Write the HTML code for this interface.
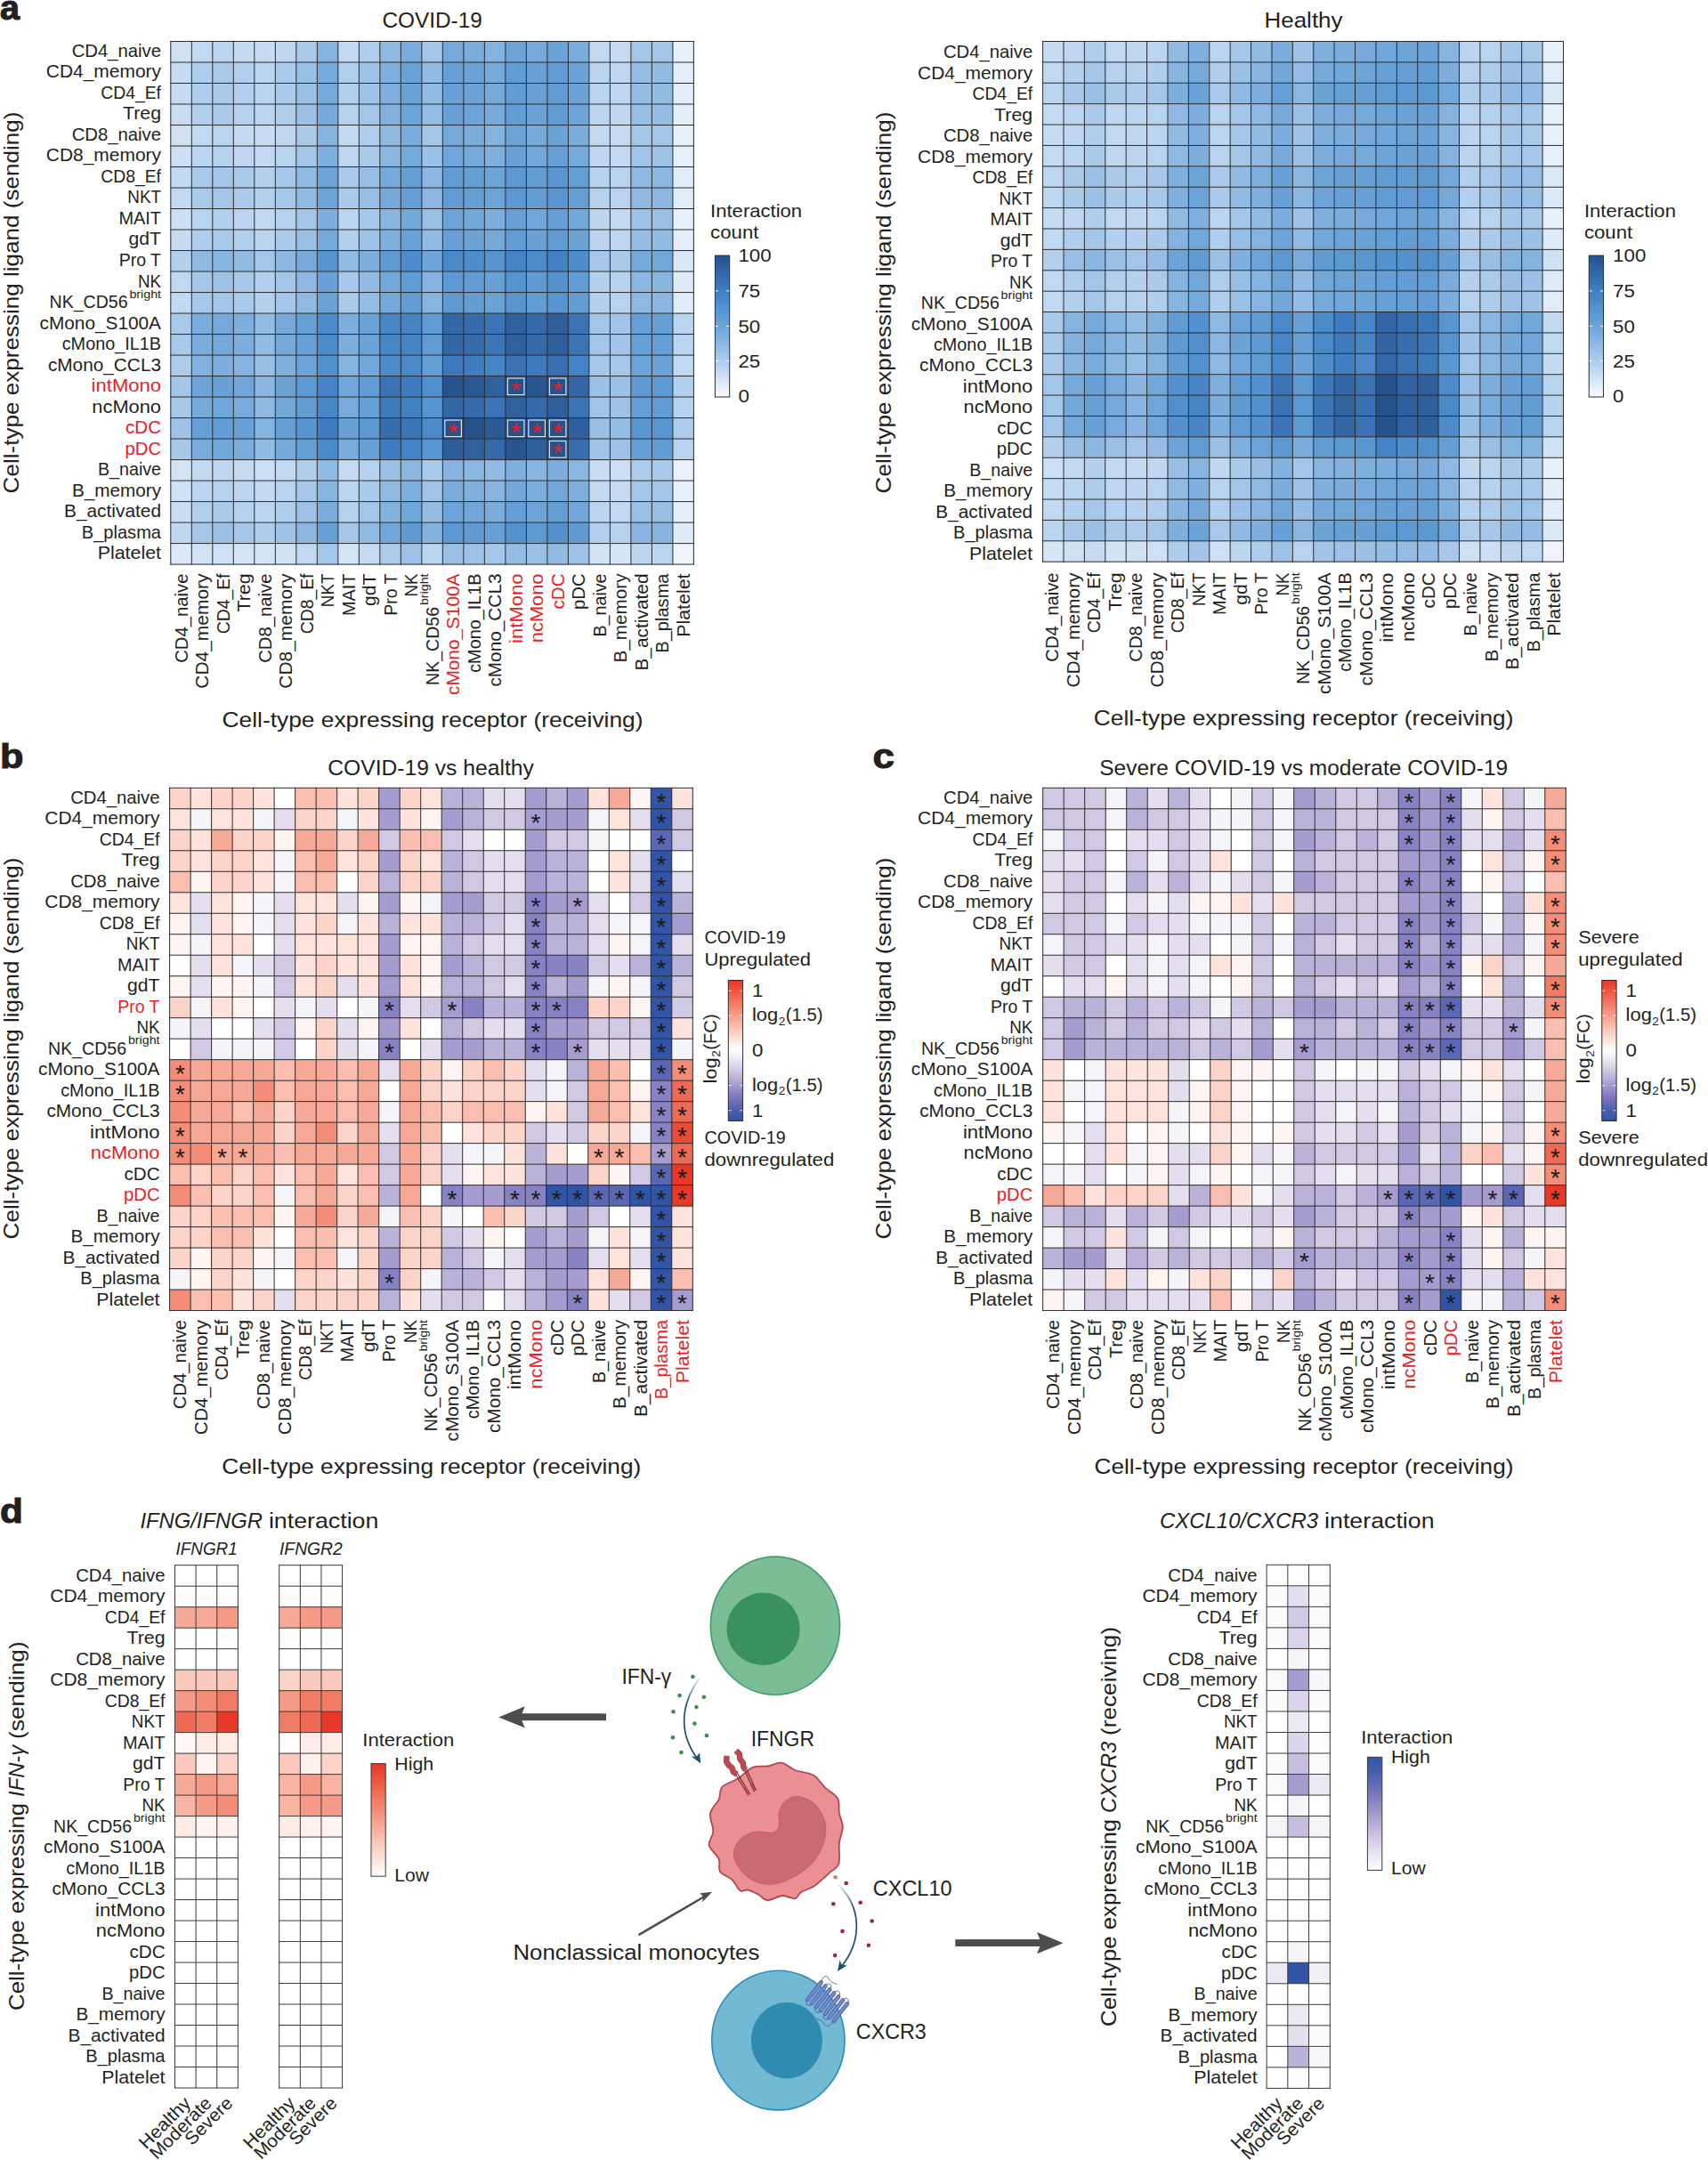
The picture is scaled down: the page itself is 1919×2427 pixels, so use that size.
<!DOCTYPE html>
<html lang="en"><head><meta charset="utf-8"><title>Figure</title>
<style>html,body{margin:0;padding:0;background:#fff}body{width:1919px;height:2427px;overflow:hidden;font-family:"Liberation Sans",sans-serif}svg{display:block}</style>
</head><body>
<svg width="1919" height="2427" viewBox="0 0 1919 2427" font-family="Liberation Sans, sans-serif">
<defs>
<linearGradient id="gb" x1="0" y1="0" x2="0" y2="1"><stop offset="0.000" stop-color="#26528c"/><stop offset="0.050" stop-color="#2c5a97"/><stop offset="0.100" stop-color="#3263a2"/><stop offset="0.150" stop-color="#376cac"/><stop offset="0.200" stop-color="#3b75b7"/><stop offset="0.250" stop-color="#407fc2"/><stop offset="0.300" stop-color="#4887c7"/><stop offset="0.350" stop-color="#518fcd"/><stop offset="0.400" stop-color="#5a97d1"/><stop offset="0.450" stop-color="#639dd5"/><stop offset="0.500" stop-color="#6da4d8"/><stop offset="0.550" stop-color="#7aacdc"/><stop offset="0.600" stop-color="#87b4e0"/><stop offset="0.650" stop-color="#94bce4"/><stop offset="0.700" stop-color="#a2c5e8"/><stop offset="0.750" stop-color="#afcdec"/><stop offset="0.800" stop-color="#bed6f0"/><stop offset="0.850" stop-color="#cddff4"/><stop offset="0.900" stop-color="#dce9f7"/><stop offset="0.950" stop-color="#ecf2fb"/><stop offset="1.000" stop-color="#ffffff"/></linearGradient>
<linearGradient id="gd" x1="0" y1="0" x2="0" y2="1"><stop offset="0.000" stop-color="#e73828"/><stop offset="0.033" stop-color="#e94532"/><stop offset="0.067" stop-color="#ec523c"/><stop offset="0.100" stop-color="#ee604a"/><stop offset="0.133" stop-color="#f06e58"/><stop offset="0.167" stop-color="#f17c66"/><stop offset="0.200" stop-color="#f38974"/><stop offset="0.233" stop-color="#f59783"/><stop offset="0.267" stop-color="#f7a592"/><stop offset="0.300" stop-color="#f8b3a2"/><stop offset="0.333" stop-color="#f9c0b2"/><stop offset="0.367" stop-color="#fbcec2"/><stop offset="0.400" stop-color="#fcdad1"/><stop offset="0.433" stop-color="#fde7e0"/><stop offset="0.467" stop-color="#fef3f0"/><stop offset="0.500" stop-color="#ffffff"/><stop offset="0.533" stop-color="#f4f2f9"/><stop offset="0.567" stop-color="#eae6f3"/><stop offset="0.600" stop-color="#dfd9ec"/><stop offset="0.633" stop-color="#d4cce6"/><stop offset="0.667" stop-color="#c6bddf"/><stop offset="0.700" stop-color="#b8afd8"/><stop offset="0.733" stop-color="#aaa0d1"/><stop offset="0.767" stop-color="#9b92cb"/><stop offset="0.800" stop-color="#8b85c4"/><stop offset="0.833" stop-color="#7a77be"/><stop offset="0.867" stop-color="#696eb8"/><stop offset="0.900" stop-color="#5766b3"/><stop offset="0.933" stop-color="#465eae"/><stop offset="0.967" stop-color="#3c59ab"/><stop offset="1.000" stop-color="#3154a7"/></linearGradient>
<linearGradient id="gr" x1="0" y1="0" x2="0" y2="1"><stop offset="0.000" stop-color="#e73828"/><stop offset="0.067" stop-color="#e94532"/><stop offset="0.133" stop-color="#ec523c"/><stop offset="0.200" stop-color="#ee604a"/><stop offset="0.267" stop-color="#f06e58"/><stop offset="0.333" stop-color="#f17c66"/><stop offset="0.400" stop-color="#f38974"/><stop offset="0.467" stop-color="#f59783"/><stop offset="0.533" stop-color="#f7a592"/><stop offset="0.600" stop-color="#f8b3a2"/><stop offset="0.667" stop-color="#f9c0b2"/><stop offset="0.733" stop-color="#fbcec2"/><stop offset="0.800" stop-color="#fcdad1"/><stop offset="0.867" stop-color="#fde7e0"/><stop offset="0.933" stop-color="#fef3f0"/><stop offset="1.000" stop-color="#ffffff"/></linearGradient>
<linearGradient id="gp" x1="0" y1="0" x2="0" y2="1"><stop offset="0.000" stop-color="#3154a7"/><stop offset="0.067" stop-color="#3c59ab"/><stop offset="0.133" stop-color="#465eae"/><stop offset="0.200" stop-color="#5766b3"/><stop offset="0.267" stop-color="#696eb8"/><stop offset="0.333" stop-color="#7a77be"/><stop offset="0.400" stop-color="#8b85c4"/><stop offset="0.467" stop-color="#9b92cb"/><stop offset="0.533" stop-color="#aaa0d1"/><stop offset="0.600" stop-color="#b8afd8"/><stop offset="0.667" stop-color="#c6bddf"/><stop offset="0.733" stop-color="#d4cce6"/><stop offset="0.800" stop-color="#dfd9ec"/><stop offset="0.867" stop-color="#eae6f3"/><stop offset="0.933" stop-color="#f4f2f9"/><stop offset="1.000" stop-color="#ffffff"/></linearGradient>
</defs>
<text x="0.0" y="21.8" font-size="39.5" font-weight="bold" fill="#231f20" stroke="#231f20" stroke-width="1.1" textLength="22.0" lengthAdjust="spacingAndGlyphs">a</text>
<text x="0.0" y="863.0" font-size="39.5" font-weight="bold" fill="#231f20" stroke="#231f20" stroke-width="1.1" textLength="26.5" lengthAdjust="spacingAndGlyphs">b</text>
<rect x="191.80" y="46.50" width="23.80" height="23.80" fill="#d0e1f4"/>
<rect x="215.30" y="46.50" width="23.80" height="23.80" fill="#c1d8f1"/>
<rect x="238.81" y="46.50" width="23.80" height="23.80" fill="#bbd4ef"/>
<rect x="262.31" y="46.50" width="23.80" height="23.80" fill="#c4daf1"/>
<rect x="285.82" y="46.50" width="23.80" height="23.80" fill="#c7dcf2"/>
<rect x="309.32" y="46.50" width="23.80" height="23.80" fill="#bed6f0"/>
<rect x="332.82" y="46.50" width="23.80" height="23.80" fill="#aacaea"/>
<rect x="356.33" y="46.50" width="23.80" height="23.80" fill="#85b3df"/>
<rect x="379.83" y="46.50" width="23.80" height="23.80" fill="#c4daf1"/>
<rect x="403.34" y="46.50" width="23.80" height="23.80" fill="#afcdec"/>
<rect x="426.84" y="46.50" width="23.80" height="23.80" fill="#8fb9e2"/>
<rect x="450.34" y="46.50" width="23.80" height="23.80" fill="#7aacdc"/>
<rect x="473.85" y="46.50" width="23.80" height="23.80" fill="#a2c5e8"/>
<rect x="497.35" y="46.50" width="23.80" height="23.80" fill="#75a9da"/>
<rect x="520.86" y="46.50" width="23.80" height="23.80" fill="#7aacdc"/>
<rect x="544.36" y="46.50" width="23.80" height="23.80" fill="#85b3df"/>
<rect x="567.86" y="46.50" width="23.80" height="23.80" fill="#6da4d8"/>
<rect x="591.37" y="46.50" width="23.80" height="23.80" fill="#77aadb"/>
<rect x="614.87" y="46.50" width="23.80" height="23.80" fill="#6ba3d7"/>
<rect x="638.38" y="46.50" width="23.80" height="23.80" fill="#7aacdc"/>
<rect x="661.88" y="46.50" width="23.80" height="23.80" fill="#c1d8f1"/>
<rect x="685.38" y="46.50" width="23.80" height="23.80" fill="#c7dcf2"/>
<rect x="708.89" y="46.50" width="23.80" height="23.80" fill="#a4c6e9"/>
<rect x="732.39" y="46.50" width="23.80" height="23.80" fill="#a2c5e8"/>
<rect x="755.90" y="46.50" width="23.80" height="23.80" fill="#e8f0fa"/>
<rect x="191.80" y="70.00" width="23.80" height="23.80" fill="#c7dcf2"/>
<rect x="215.30" y="70.00" width="23.80" height="23.80" fill="#afcdec"/>
<rect x="238.81" y="70.00" width="23.80" height="23.80" fill="#aacaea"/>
<rect x="262.31" y="70.00" width="23.80" height="23.80" fill="#b2cfed"/>
<rect x="285.82" y="70.00" width="23.80" height="23.80" fill="#bad4ef"/>
<rect x="309.32" y="70.00" width="23.80" height="23.80" fill="#accbeb"/>
<rect x="332.82" y="70.00" width="23.80" height="23.80" fill="#9ac0e5"/>
<rect x="356.33" y="70.00" width="23.80" height="23.80" fill="#75a9da"/>
<rect x="379.83" y="70.00" width="23.80" height="23.80" fill="#b2cfed"/>
<rect x="403.34" y="70.00" width="23.80" height="23.80" fill="#9fc3e7"/>
<rect x="426.84" y="70.00" width="23.80" height="23.80" fill="#7fafdd"/>
<rect x="450.34" y="70.00" width="23.80" height="23.80" fill="#6ba3d7"/>
<rect x="473.85" y="70.00" width="23.80" height="23.80" fill="#92bbe3"/>
<rect x="497.35" y="70.00" width="23.80" height="23.80" fill="#67a0d6"/>
<rect x="520.86" y="70.00" width="23.80" height="23.80" fill="#6ba3d7"/>
<rect x="544.36" y="70.00" width="23.80" height="23.80" fill="#75a9da"/>
<rect x="567.86" y="70.00" width="23.80" height="23.80" fill="#629cd4"/>
<rect x="591.37" y="70.00" width="23.80" height="23.80" fill="#69a1d7"/>
<rect x="614.87" y="70.00" width="23.80" height="23.80" fill="#609bd3"/>
<rect x="638.38" y="70.00" width="23.80" height="23.80" fill="#6ba3d7"/>
<rect x="661.88" y="70.00" width="23.80" height="23.80" fill="#bad4ef"/>
<rect x="685.38" y="70.00" width="23.80" height="23.80" fill="#bed6f0"/>
<rect x="708.89" y="70.00" width="23.80" height="23.80" fill="#96bde4"/>
<rect x="732.39" y="70.00" width="23.80" height="23.80" fill="#93bce3"/>
<rect x="755.90" y="70.00" width="23.80" height="23.80" fill="#e4edf9"/>
<rect x="191.80" y="93.51" width="23.80" height="23.80" fill="#c7dcf2"/>
<rect x="215.30" y="93.51" width="23.80" height="23.80" fill="#afcdec"/>
<rect x="238.81" y="93.51" width="23.80" height="23.80" fill="#aacaea"/>
<rect x="262.31" y="93.51" width="23.80" height="23.80" fill="#b2cfed"/>
<rect x="285.82" y="93.51" width="23.80" height="23.80" fill="#bad4ef"/>
<rect x="309.32" y="93.51" width="23.80" height="23.80" fill="#accbeb"/>
<rect x="332.82" y="93.51" width="23.80" height="23.80" fill="#9ac0e5"/>
<rect x="356.33" y="93.51" width="23.80" height="23.80" fill="#75a9da"/>
<rect x="379.83" y="93.51" width="23.80" height="23.80" fill="#b2cfed"/>
<rect x="403.34" y="93.51" width="23.80" height="23.80" fill="#9fc3e7"/>
<rect x="426.84" y="93.51" width="23.80" height="23.80" fill="#7fafdd"/>
<rect x="450.34" y="93.51" width="23.80" height="23.80" fill="#6ba3d7"/>
<rect x="473.85" y="93.51" width="23.80" height="23.80" fill="#92bbe3"/>
<rect x="497.35" y="93.51" width="23.80" height="23.80" fill="#67a0d6"/>
<rect x="520.86" y="93.51" width="23.80" height="23.80" fill="#6ba3d7"/>
<rect x="544.36" y="93.51" width="23.80" height="23.80" fill="#75a9da"/>
<rect x="567.86" y="93.51" width="23.80" height="23.80" fill="#629cd4"/>
<rect x="591.37" y="93.51" width="23.80" height="23.80" fill="#69a1d7"/>
<rect x="614.87" y="93.51" width="23.80" height="23.80" fill="#609bd3"/>
<rect x="638.38" y="93.51" width="23.80" height="23.80" fill="#6ba3d7"/>
<rect x="661.88" y="93.51" width="23.80" height="23.80" fill="#bad4ef"/>
<rect x="685.38" y="93.51" width="23.80" height="23.80" fill="#bed6f0"/>
<rect x="708.89" y="93.51" width="23.80" height="23.80" fill="#96bde4"/>
<rect x="732.39" y="93.51" width="23.80" height="23.80" fill="#93bce3"/>
<rect x="755.90" y="93.51" width="23.80" height="23.80" fill="#e4edf9"/>
<rect x="191.80" y="117.01" width="23.80" height="23.80" fill="#c8ddf3"/>
<rect x="215.30" y="117.01" width="23.80" height="23.80" fill="#b2cfed"/>
<rect x="238.81" y="117.01" width="23.80" height="23.80" fill="#accbeb"/>
<rect x="262.31" y="117.01" width="23.80" height="23.80" fill="#b5d1ee"/>
<rect x="285.82" y="117.01" width="23.80" height="23.80" fill="#bcd5ef"/>
<rect x="309.32" y="117.01" width="23.80" height="23.80" fill="#afcdec"/>
<rect x="332.82" y="117.01" width="23.80" height="23.80" fill="#9cc1e6"/>
<rect x="356.33" y="117.01" width="23.80" height="23.80" fill="#77aadb"/>
<rect x="379.83" y="117.01" width="23.80" height="23.80" fill="#b5d1ee"/>
<rect x="403.34" y="117.01" width="23.80" height="23.80" fill="#a2c5e8"/>
<rect x="426.84" y="117.01" width="23.80" height="23.80" fill="#82b1de"/>
<rect x="450.34" y="117.01" width="23.80" height="23.80" fill="#6da4d8"/>
<rect x="473.85" y="117.01" width="23.80" height="23.80" fill="#94bce4"/>
<rect x="497.35" y="117.01" width="23.80" height="23.80" fill="#69a1d7"/>
<rect x="520.86" y="117.01" width="23.80" height="23.80" fill="#6da4d8"/>
<rect x="544.36" y="117.01" width="23.80" height="23.80" fill="#77aadb"/>
<rect x="567.86" y="117.01" width="23.80" height="23.80" fill="#639dd5"/>
<rect x="591.37" y="117.01" width="23.80" height="23.80" fill="#6ba3d7"/>
<rect x="614.87" y="117.01" width="23.80" height="23.80" fill="#629cd4"/>
<rect x="638.38" y="117.01" width="23.80" height="23.80" fill="#6da4d8"/>
<rect x="661.88" y="117.01" width="23.80" height="23.80" fill="#bbd4ef"/>
<rect x="685.38" y="117.01" width="23.80" height="23.80" fill="#c0d7f0"/>
<rect x="708.89" y="117.01" width="23.80" height="23.80" fill="#98bfe5"/>
<rect x="732.39" y="117.01" width="23.80" height="23.80" fill="#96bde4"/>
<rect x="755.90" y="117.01" width="23.80" height="23.80" fill="#e4eef9"/>
<rect x="191.80" y="140.52" width="23.80" height="23.80" fill="#d0e1f4"/>
<rect x="215.30" y="140.52" width="23.80" height="23.80" fill="#c1d8f1"/>
<rect x="238.81" y="140.52" width="23.80" height="23.80" fill="#bbd4ef"/>
<rect x="262.31" y="140.52" width="23.80" height="23.80" fill="#c4daf1"/>
<rect x="285.82" y="140.52" width="23.80" height="23.80" fill="#c7dcf2"/>
<rect x="309.32" y="140.52" width="23.80" height="23.80" fill="#bed6f0"/>
<rect x="332.82" y="140.52" width="23.80" height="23.80" fill="#aacaea"/>
<rect x="356.33" y="140.52" width="23.80" height="23.80" fill="#85b3df"/>
<rect x="379.83" y="140.52" width="23.80" height="23.80" fill="#c4daf1"/>
<rect x="403.34" y="140.52" width="23.80" height="23.80" fill="#afcdec"/>
<rect x="426.84" y="140.52" width="23.80" height="23.80" fill="#8fb9e2"/>
<rect x="450.34" y="140.52" width="23.80" height="23.80" fill="#7aacdc"/>
<rect x="473.85" y="140.52" width="23.80" height="23.80" fill="#a2c5e8"/>
<rect x="497.35" y="140.52" width="23.80" height="23.80" fill="#75a9da"/>
<rect x="520.86" y="140.52" width="23.80" height="23.80" fill="#7aacdc"/>
<rect x="544.36" y="140.52" width="23.80" height="23.80" fill="#85b3df"/>
<rect x="567.86" y="140.52" width="23.80" height="23.80" fill="#6da4d8"/>
<rect x="591.37" y="140.52" width="23.80" height="23.80" fill="#77aadb"/>
<rect x="614.87" y="140.52" width="23.80" height="23.80" fill="#6ba3d7"/>
<rect x="638.38" y="140.52" width="23.80" height="23.80" fill="#7aacdc"/>
<rect x="661.88" y="140.52" width="23.80" height="23.80" fill="#c1d8f1"/>
<rect x="685.38" y="140.52" width="23.80" height="23.80" fill="#c7dcf2"/>
<rect x="708.89" y="140.52" width="23.80" height="23.80" fill="#a4c6e9"/>
<rect x="732.39" y="140.52" width="23.80" height="23.80" fill="#a2c5e8"/>
<rect x="755.90" y="140.52" width="23.80" height="23.80" fill="#e8f0fa"/>
<rect x="191.80" y="164.02" width="23.80" height="23.80" fill="#cddff4"/>
<rect x="215.30" y="164.02" width="23.80" height="23.80" fill="#bbd4ef"/>
<rect x="238.81" y="164.02" width="23.80" height="23.80" fill="#b5d1ee"/>
<rect x="262.31" y="164.02" width="23.80" height="23.80" fill="#bed6f0"/>
<rect x="285.82" y="164.02" width="23.80" height="23.80" fill="#c3d9f1"/>
<rect x="309.32" y="164.02" width="23.80" height="23.80" fill="#b8d3ee"/>
<rect x="332.82" y="164.02" width="23.80" height="23.80" fill="#a4c6e9"/>
<rect x="356.33" y="164.02" width="23.80" height="23.80" fill="#7fafdd"/>
<rect x="379.83" y="164.02" width="23.80" height="23.80" fill="#bed6f0"/>
<rect x="403.34" y="164.02" width="23.80" height="23.80" fill="#aacaea"/>
<rect x="426.84" y="164.02" width="23.80" height="23.80" fill="#8ab6e0"/>
<rect x="450.34" y="164.02" width="23.80" height="23.80" fill="#75a9da"/>
<rect x="473.85" y="164.02" width="23.80" height="23.80" fill="#9cc1e6"/>
<rect x="497.35" y="164.02" width="23.80" height="23.80" fill="#70a6d9"/>
<rect x="520.86" y="164.02" width="23.80" height="23.80" fill="#75a9da"/>
<rect x="544.36" y="164.02" width="23.80" height="23.80" fill="#7fafdd"/>
<rect x="567.86" y="164.02" width="23.80" height="23.80" fill="#69a1d7"/>
<rect x="591.37" y="164.02" width="23.80" height="23.80" fill="#72a7da"/>
<rect x="614.87" y="164.02" width="23.80" height="23.80" fill="#67a0d6"/>
<rect x="638.38" y="164.02" width="23.80" height="23.80" fill="#75a9da"/>
<rect x="661.88" y="164.02" width="23.80" height="23.80" fill="#bfd7f0"/>
<rect x="685.38" y="164.02" width="23.80" height="23.80" fill="#c4daf1"/>
<rect x="708.89" y="164.02" width="23.80" height="23.80" fill="#a0c3e7"/>
<rect x="732.39" y="164.02" width="23.80" height="23.80" fill="#9dc2e6"/>
<rect x="755.90" y="164.02" width="23.80" height="23.80" fill="#e6effa"/>
<rect x="191.80" y="187.52" width="23.80" height="23.80" fill="#c3d9f1"/>
<rect x="215.30" y="187.52" width="23.80" height="23.80" fill="#a8c9ea"/>
<rect x="238.81" y="187.52" width="23.80" height="23.80" fill="#a3c5e8"/>
<rect x="262.31" y="187.52" width="23.80" height="23.80" fill="#abcaeb"/>
<rect x="285.82" y="187.52" width="23.80" height="23.80" fill="#b5d0ed"/>
<rect x="309.32" y="187.52" width="23.80" height="23.80" fill="#a5c7e9"/>
<rect x="332.82" y="187.52" width="23.80" height="23.80" fill="#92bbe3"/>
<rect x="356.33" y="187.52" width="23.80" height="23.80" fill="#6da4d8"/>
<rect x="379.83" y="187.52" width="23.80" height="23.80" fill="#abcaeb"/>
<rect x="403.34" y="187.52" width="23.80" height="23.80" fill="#98bee5"/>
<rect x="426.84" y="187.52" width="23.80" height="23.80" fill="#77aadb"/>
<rect x="450.34" y="187.52" width="23.80" height="23.80" fill="#659ed5"/>
<rect x="473.85" y="187.52" width="23.80" height="23.80" fill="#8ab6e1"/>
<rect x="497.35" y="187.52" width="23.80" height="23.80" fill="#619bd4"/>
<rect x="520.86" y="187.52" width="23.80" height="23.80" fill="#659ed5"/>
<rect x="544.36" y="187.52" width="23.80" height="23.80" fill="#6da4d8"/>
<rect x="567.86" y="187.52" width="23.80" height="23.80" fill="#5b97d2"/>
<rect x="591.37" y="187.52" width="23.80" height="23.80" fill="#639dd4"/>
<rect x="614.87" y="187.52" width="23.80" height="23.80" fill="#5996d1"/>
<rect x="638.38" y="187.52" width="23.80" height="23.80" fill="#659ed5"/>
<rect x="661.88" y="187.52" width="23.80" height="23.80" fill="#b6d1ee"/>
<rect x="685.38" y="187.52" width="23.80" height="23.80" fill="#b9d3ef"/>
<rect x="708.89" y="187.52" width="23.80" height="23.80" fill="#8fb9e2"/>
<rect x="732.39" y="187.52" width="23.80" height="23.80" fill="#8cb7e1"/>
<rect x="755.90" y="187.52" width="23.80" height="23.80" fill="#e1ecf9"/>
<rect x="191.80" y="211.03" width="23.80" height="23.80" fill="#c3d9f1"/>
<rect x="215.30" y="211.03" width="23.80" height="23.80" fill="#a8c9ea"/>
<rect x="238.81" y="211.03" width="23.80" height="23.80" fill="#a3c5e8"/>
<rect x="262.31" y="211.03" width="23.80" height="23.80" fill="#abcaeb"/>
<rect x="285.82" y="211.03" width="23.80" height="23.80" fill="#b5d0ed"/>
<rect x="309.32" y="211.03" width="23.80" height="23.80" fill="#a5c7e9"/>
<rect x="332.82" y="211.03" width="23.80" height="23.80" fill="#92bbe3"/>
<rect x="356.33" y="211.03" width="23.80" height="23.80" fill="#6da4d8"/>
<rect x="379.83" y="211.03" width="23.80" height="23.80" fill="#abcaeb"/>
<rect x="403.34" y="211.03" width="23.80" height="23.80" fill="#98bee5"/>
<rect x="426.84" y="211.03" width="23.80" height="23.80" fill="#77aadb"/>
<rect x="450.34" y="211.03" width="23.80" height="23.80" fill="#659ed5"/>
<rect x="473.85" y="211.03" width="23.80" height="23.80" fill="#8ab6e1"/>
<rect x="497.35" y="211.03" width="23.80" height="23.80" fill="#619bd4"/>
<rect x="520.86" y="211.03" width="23.80" height="23.80" fill="#659ed5"/>
<rect x="544.36" y="211.03" width="23.80" height="23.80" fill="#6da4d8"/>
<rect x="567.86" y="211.03" width="23.80" height="23.80" fill="#5b97d2"/>
<rect x="591.37" y="211.03" width="23.80" height="23.80" fill="#639dd4"/>
<rect x="614.87" y="211.03" width="23.80" height="23.80" fill="#5996d1"/>
<rect x="638.38" y="211.03" width="23.80" height="23.80" fill="#659ed5"/>
<rect x="661.88" y="211.03" width="23.80" height="23.80" fill="#b6d1ee"/>
<rect x="685.38" y="211.03" width="23.80" height="23.80" fill="#b9d3ef"/>
<rect x="708.89" y="211.03" width="23.80" height="23.80" fill="#8fb9e2"/>
<rect x="732.39" y="211.03" width="23.80" height="23.80" fill="#8cb7e1"/>
<rect x="755.90" y="211.03" width="23.80" height="23.80" fill="#e1ecf9"/>
<rect x="191.80" y="234.53" width="23.80" height="23.80" fill="#ccdff3"/>
<rect x="215.30" y="234.53" width="23.80" height="23.80" fill="#b8d3ee"/>
<rect x="238.81" y="234.53" width="23.80" height="23.80" fill="#b2cfed"/>
<rect x="262.31" y="234.53" width="23.80" height="23.80" fill="#bbd4ef"/>
<rect x="285.82" y="234.53" width="23.80" height="23.80" fill="#c1d8f1"/>
<rect x="309.32" y="234.53" width="23.80" height="23.80" fill="#b5d1ee"/>
<rect x="332.82" y="234.53" width="23.80" height="23.80" fill="#a2c5e8"/>
<rect x="356.33" y="234.53" width="23.80" height="23.80" fill="#7daedd"/>
<rect x="379.83" y="234.53" width="23.80" height="23.80" fill="#bbd4ef"/>
<rect x="403.34" y="234.53" width="23.80" height="23.80" fill="#a7c8ea"/>
<rect x="426.84" y="234.53" width="23.80" height="23.80" fill="#87b4e0"/>
<rect x="450.34" y="234.53" width="23.80" height="23.80" fill="#72a7da"/>
<rect x="473.85" y="234.53" width="23.80" height="23.80" fill="#9ac0e5"/>
<rect x="497.35" y="234.53" width="23.80" height="23.80" fill="#6da4d8"/>
<rect x="520.86" y="234.53" width="23.80" height="23.80" fill="#72a7da"/>
<rect x="544.36" y="234.53" width="23.80" height="23.80" fill="#7daedd"/>
<rect x="567.86" y="234.53" width="23.80" height="23.80" fill="#67a0d6"/>
<rect x="591.37" y="234.53" width="23.80" height="23.80" fill="#70a6d9"/>
<rect x="614.87" y="234.53" width="23.80" height="23.80" fill="#659fd5"/>
<rect x="638.38" y="234.53" width="23.80" height="23.80" fill="#72a7da"/>
<rect x="661.88" y="234.53" width="23.80" height="23.80" fill="#bdd6f0"/>
<rect x="685.38" y="234.53" width="23.80" height="23.80" fill="#c2d9f1"/>
<rect x="708.89" y="234.53" width="23.80" height="23.80" fill="#9dc2e6"/>
<rect x="732.39" y="234.53" width="23.80" height="23.80" fill="#9ac0e6"/>
<rect x="755.90" y="234.53" width="23.80" height="23.80" fill="#e6effa"/>
<rect x="191.80" y="258.04" width="23.80" height="23.80" fill="#c7dcf2"/>
<rect x="215.30" y="258.04" width="23.80" height="23.80" fill="#afcdec"/>
<rect x="238.81" y="258.04" width="23.80" height="23.80" fill="#aacaea"/>
<rect x="262.31" y="258.04" width="23.80" height="23.80" fill="#b2cfed"/>
<rect x="285.82" y="258.04" width="23.80" height="23.80" fill="#bad4ef"/>
<rect x="309.32" y="258.04" width="23.80" height="23.80" fill="#accbeb"/>
<rect x="332.82" y="258.04" width="23.80" height="23.80" fill="#9ac0e5"/>
<rect x="356.33" y="258.04" width="23.80" height="23.80" fill="#75a9da"/>
<rect x="379.83" y="258.04" width="23.80" height="23.80" fill="#b2cfed"/>
<rect x="403.34" y="258.04" width="23.80" height="23.80" fill="#9fc3e7"/>
<rect x="426.84" y="258.04" width="23.80" height="23.80" fill="#7fafdd"/>
<rect x="450.34" y="258.04" width="23.80" height="23.80" fill="#6ba3d7"/>
<rect x="473.85" y="258.04" width="23.80" height="23.80" fill="#92bbe3"/>
<rect x="497.35" y="258.04" width="23.80" height="23.80" fill="#67a0d6"/>
<rect x="520.86" y="258.04" width="23.80" height="23.80" fill="#6ba3d7"/>
<rect x="544.36" y="258.04" width="23.80" height="23.80" fill="#75a9da"/>
<rect x="567.86" y="258.04" width="23.80" height="23.80" fill="#629cd4"/>
<rect x="591.37" y="258.04" width="23.80" height="23.80" fill="#69a1d7"/>
<rect x="614.87" y="258.04" width="23.80" height="23.80" fill="#609bd3"/>
<rect x="638.38" y="258.04" width="23.80" height="23.80" fill="#6ba3d7"/>
<rect x="661.88" y="258.04" width="23.80" height="23.80" fill="#bad4ef"/>
<rect x="685.38" y="258.04" width="23.80" height="23.80" fill="#bed6f0"/>
<rect x="708.89" y="258.04" width="23.80" height="23.80" fill="#96bde4"/>
<rect x="732.39" y="258.04" width="23.80" height="23.80" fill="#93bce3"/>
<rect x="755.90" y="258.04" width="23.80" height="23.80" fill="#e4edf9"/>
<rect x="191.80" y="281.54" width="23.80" height="23.80" fill="#b3d0ed"/>
<rect x="215.30" y="281.54" width="23.80" height="23.80" fill="#8fb9e2"/>
<rect x="238.81" y="281.54" width="23.80" height="23.80" fill="#89b6e0"/>
<rect x="262.31" y="281.54" width="23.80" height="23.80" fill="#92bbe3"/>
<rect x="285.82" y="281.54" width="23.80" height="23.80" fill="#a2c5e8"/>
<rect x="309.32" y="281.54" width="23.80" height="23.80" fill="#8cb7e1"/>
<rect x="332.82" y="281.54" width="23.80" height="23.80" fill="#77aadb"/>
<rect x="356.33" y="281.54" width="23.80" height="23.80" fill="#5694d0"/>
<rect x="379.83" y="281.54" width="23.80" height="23.80" fill="#92bbe3"/>
<rect x="403.34" y="281.54" width="23.80" height="23.80" fill="#7daedd"/>
<rect x="426.84" y="281.54" width="23.80" height="23.80" fill="#5f9ad3"/>
<rect x="450.34" y="281.54" width="23.80" height="23.80" fill="#4e8ccb"/>
<rect x="473.85" y="281.54" width="23.80" height="23.80" fill="#6ea5d8"/>
<rect x="497.35" y="281.54" width="23.80" height="23.80" fill="#4a89c8"/>
<rect x="520.86" y="281.54" width="23.80" height="23.80" fill="#4e8ccb"/>
<rect x="544.36" y="281.54" width="23.80" height="23.80" fill="#5694d0"/>
<rect x="567.86" y="281.54" width="23.80" height="23.80" fill="#4483c5"/>
<rect x="591.37" y="281.54" width="23.80" height="23.80" fill="#4c8aca"/>
<rect x="614.87" y="281.54" width="23.80" height="23.80" fill="#4281c3"/>
<rect x="638.38" y="281.54" width="23.80" height="23.80" fill="#4e8ccb"/>
<rect x="661.88" y="281.54" width="23.80" height="23.80" fill="#a7c8ea"/>
<rect x="685.38" y="281.54" width="23.80" height="23.80" fill="#aacaea"/>
<rect x="708.89" y="281.54" width="23.80" height="23.80" fill="#75a9da"/>
<rect x="732.39" y="281.54" width="23.80" height="23.80" fill="#72a7da"/>
<rect x="755.90" y="281.54" width="23.80" height="23.80" fill="#dae7f7"/>
<rect x="191.80" y="305.04" width="23.80" height="23.80" fill="#c0d8f0"/>
<rect x="215.30" y="305.04" width="23.80" height="23.80" fill="#a4c6e9"/>
<rect x="238.81" y="305.04" width="23.80" height="23.80" fill="#9fc3e7"/>
<rect x="262.31" y="305.04" width="23.80" height="23.80" fill="#a7c8ea"/>
<rect x="285.82" y="305.04" width="23.80" height="23.80" fill="#b2cfed"/>
<rect x="309.32" y="305.04" width="23.80" height="23.80" fill="#a2c5e8"/>
<rect x="332.82" y="305.04" width="23.80" height="23.80" fill="#8eb8e2"/>
<rect x="356.33" y="305.04" width="23.80" height="23.80" fill="#69a1d7"/>
<rect x="379.83" y="305.04" width="23.80" height="23.80" fill="#a7c8ea"/>
<rect x="403.34" y="305.04" width="23.80" height="23.80" fill="#94bce3"/>
<rect x="426.84" y="305.04" width="23.80" height="23.80" fill="#73a7da"/>
<rect x="450.34" y="305.04" width="23.80" height="23.80" fill="#619cd4"/>
<rect x="473.85" y="305.04" width="23.80" height="23.80" fill="#86b3df"/>
<rect x="497.35" y="305.04" width="23.80" height="23.80" fill="#5d99d2"/>
<rect x="520.86" y="305.04" width="23.80" height="23.80" fill="#619cd4"/>
<rect x="544.36" y="305.04" width="23.80" height="23.80" fill="#69a1d7"/>
<rect x="567.86" y="305.04" width="23.80" height="23.80" fill="#5795d0"/>
<rect x="591.37" y="305.04" width="23.80" height="23.80" fill="#5f9ad3"/>
<rect x="614.87" y="305.04" width="23.80" height="23.80" fill="#5593cf"/>
<rect x="638.38" y="305.04" width="23.80" height="23.80" fill="#619cd4"/>
<rect x="661.88" y="305.04" width="23.80" height="23.80" fill="#b3d0ed"/>
<rect x="685.38" y="305.04" width="23.80" height="23.80" fill="#b7d2ee"/>
<rect x="708.89" y="305.04" width="23.80" height="23.80" fill="#8bb6e1"/>
<rect x="732.39" y="305.04" width="23.80" height="23.80" fill="#88b5e0"/>
<rect x="755.90" y="305.04" width="23.80" height="23.80" fill="#e0ebf8"/>
<rect x="191.80" y="328.55" width="23.80" height="23.80" fill="#c2d9f1"/>
<rect x="215.30" y="328.55" width="23.80" height="23.80" fill="#a7c8ea"/>
<rect x="238.81" y="328.55" width="23.80" height="23.80" fill="#a2c5e8"/>
<rect x="262.31" y="328.55" width="23.80" height="23.80" fill="#aacaea"/>
<rect x="285.82" y="328.55" width="23.80" height="23.80" fill="#b4d0ed"/>
<rect x="309.32" y="328.55" width="23.80" height="23.80" fill="#a4c6e9"/>
<rect x="332.82" y="328.55" width="23.80" height="23.80" fill="#91bae3"/>
<rect x="356.33" y="328.55" width="23.80" height="23.80" fill="#6ba3d7"/>
<rect x="379.83" y="328.55" width="23.80" height="23.80" fill="#aacaea"/>
<rect x="403.34" y="328.55" width="23.80" height="23.80" fill="#96bee4"/>
<rect x="426.84" y="328.55" width="23.80" height="23.80" fill="#75a9da"/>
<rect x="450.34" y="328.55" width="23.80" height="23.80" fill="#639dd4"/>
<rect x="473.85" y="328.55" width="23.80" height="23.80" fill="#88b5e0"/>
<rect x="497.35" y="328.55" width="23.80" height="23.80" fill="#5f9ad3"/>
<rect x="520.86" y="328.55" width="23.80" height="23.80" fill="#639dd4"/>
<rect x="544.36" y="328.55" width="23.80" height="23.80" fill="#6ba3d7"/>
<rect x="567.86" y="328.55" width="23.80" height="23.80" fill="#5996d1"/>
<rect x="591.37" y="328.55" width="23.80" height="23.80" fill="#619cd4"/>
<rect x="614.87" y="328.55" width="23.80" height="23.80" fill="#5795d0"/>
<rect x="638.38" y="328.55" width="23.80" height="23.80" fill="#639dd4"/>
<rect x="661.88" y="328.55" width="23.80" height="23.80" fill="#b5d0ed"/>
<rect x="685.38" y="328.55" width="23.80" height="23.80" fill="#b8d3ee"/>
<rect x="708.89" y="328.55" width="23.80" height="23.80" fill="#8db8e2"/>
<rect x="732.39" y="328.55" width="23.80" height="23.80" fill="#8bb6e1"/>
<rect x="755.90" y="328.55" width="23.80" height="23.80" fill="#e1ecf8"/>
<rect x="191.80" y="352.05" width="23.80" height="23.80" fill="#a9c9ea"/>
<rect x="215.30" y="352.05" width="23.80" height="23.80" fill="#7aacdc"/>
<rect x="238.81" y="352.05" width="23.80" height="23.80" fill="#75a9da"/>
<rect x="262.31" y="352.05" width="23.80" height="23.80" fill="#7daedd"/>
<rect x="285.82" y="352.05" width="23.80" height="23.80" fill="#93bce3"/>
<rect x="309.32" y="352.05" width="23.80" height="23.80" fill="#77aadb"/>
<rect x="332.82" y="352.05" width="23.80" height="23.80" fill="#67a0d6"/>
<rect x="356.33" y="352.05" width="23.80" height="23.80" fill="#4c8ac9"/>
<rect x="379.83" y="352.05" width="23.80" height="23.80" fill="#7daedd"/>
<rect x="403.34" y="352.05" width="23.80" height="23.80" fill="#6ba2d7"/>
<rect x="426.84" y="352.05" width="23.80" height="23.80" fill="#4887c7"/>
<rect x="450.34" y="352.05" width="23.80" height="23.80" fill="#4583c5"/>
<rect x="473.85" y="352.05" width="23.80" height="23.80" fill="#619bd4"/>
<rect x="497.35" y="352.05" width="23.80" height="23.80" fill="#3467a6"/>
<rect x="520.86" y="352.05" width="23.80" height="23.80" fill="#376bac"/>
<rect x="544.36" y="352.05" width="23.80" height="23.80" fill="#3b75b7"/>
<rect x="567.86" y="352.05" width="23.80" height="23.80" fill="#30609e"/>
<rect x="591.37" y="352.05" width="23.80" height="23.80" fill="#3569a9"/>
<rect x="614.87" y="352.05" width="23.80" height="23.80" fill="#2e5e9c"/>
<rect x="638.38" y="352.05" width="23.80" height="23.80" fill="#3b75b7"/>
<rect x="661.88" y="352.05" width="23.80" height="23.80" fill="#a2c5e8"/>
<rect x="685.38" y="352.05" width="23.80" height="23.80" fill="#a1c4e8"/>
<rect x="708.89" y="352.05" width="23.80" height="23.80" fill="#67a0d6"/>
<rect x="732.39" y="352.05" width="23.80" height="23.80" fill="#659fd5"/>
<rect x="755.90" y="352.05" width="23.80" height="23.80" fill="#bbd4ef"/>
<rect x="191.80" y="375.56" width="23.80" height="23.80" fill="#a9c9ea"/>
<rect x="215.30" y="375.56" width="23.80" height="23.80" fill="#7aacdc"/>
<rect x="238.81" y="375.56" width="23.80" height="23.80" fill="#75a9da"/>
<rect x="262.31" y="375.56" width="23.80" height="23.80" fill="#7daedd"/>
<rect x="285.82" y="375.56" width="23.80" height="23.80" fill="#93bce3"/>
<rect x="309.32" y="375.56" width="23.80" height="23.80" fill="#77aadb"/>
<rect x="332.82" y="375.56" width="23.80" height="23.80" fill="#67a0d6"/>
<rect x="356.33" y="375.56" width="23.80" height="23.80" fill="#4c8ac9"/>
<rect x="379.83" y="375.56" width="23.80" height="23.80" fill="#7daedd"/>
<rect x="403.34" y="375.56" width="23.80" height="23.80" fill="#6ba2d7"/>
<rect x="426.84" y="375.56" width="23.80" height="23.80" fill="#4887c7"/>
<rect x="450.34" y="375.56" width="23.80" height="23.80" fill="#4583c5"/>
<rect x="473.85" y="375.56" width="23.80" height="23.80" fill="#619bd4"/>
<rect x="497.35" y="375.56" width="23.80" height="23.80" fill="#3467a6"/>
<rect x="520.86" y="375.56" width="23.80" height="23.80" fill="#376bac"/>
<rect x="544.36" y="375.56" width="23.80" height="23.80" fill="#3b75b7"/>
<rect x="567.86" y="375.56" width="23.80" height="23.80" fill="#30609e"/>
<rect x="591.37" y="375.56" width="23.80" height="23.80" fill="#3569a9"/>
<rect x="614.87" y="375.56" width="23.80" height="23.80" fill="#2e5e9c"/>
<rect x="638.38" y="375.56" width="23.80" height="23.80" fill="#3b75b7"/>
<rect x="661.88" y="375.56" width="23.80" height="23.80" fill="#a2c5e8"/>
<rect x="685.38" y="375.56" width="23.80" height="23.80" fill="#a1c4e8"/>
<rect x="708.89" y="375.56" width="23.80" height="23.80" fill="#67a0d6"/>
<rect x="732.39" y="375.56" width="23.80" height="23.80" fill="#659fd5"/>
<rect x="755.90" y="375.56" width="23.80" height="23.80" fill="#bbd4ef"/>
<rect x="191.80" y="399.06" width="23.80" height="23.80" fill="#adcceb"/>
<rect x="215.30" y="399.06" width="23.80" height="23.80" fill="#82b1de"/>
<rect x="238.81" y="399.06" width="23.80" height="23.80" fill="#7daedd"/>
<rect x="262.31" y="399.06" width="23.80" height="23.80" fill="#85b3df"/>
<rect x="285.82" y="399.06" width="23.80" height="23.80" fill="#99bfe5"/>
<rect x="309.32" y="399.06" width="23.80" height="23.80" fill="#7fafdd"/>
<rect x="332.82" y="399.06" width="23.80" height="23.80" fill="#6ca4d8"/>
<rect x="356.33" y="399.06" width="23.80" height="23.80" fill="#518fcd"/>
<rect x="379.83" y="399.06" width="23.80" height="23.80" fill="#85b3df"/>
<rect x="403.34" y="399.06" width="23.80" height="23.80" fill="#72a7d9"/>
<rect x="426.84" y="399.06" width="23.80" height="23.80" fill="#4e8ccb"/>
<rect x="450.34" y="399.06" width="23.80" height="23.80" fill="#4a88c8"/>
<rect x="473.85" y="399.06" width="23.80" height="23.80" fill="#669fd6"/>
<rect x="497.35" y="399.06" width="23.80" height="23.80" fill="#3d78ba"/>
<rect x="520.86" y="399.06" width="23.80" height="23.80" fill="#3f7dbf"/>
<rect x="544.36" y="399.06" width="23.80" height="23.80" fill="#4685c6"/>
<rect x="567.86" y="399.06" width="23.80" height="23.80" fill="#3a72b3"/>
<rect x="591.37" y="399.06" width="23.80" height="23.80" fill="#3e7bbd"/>
<rect x="614.87" y="399.06" width="23.80" height="23.80" fill="#396fb0"/>
<rect x="638.38" y="399.06" width="23.80" height="23.80" fill="#4382c4"/>
<rect x="661.88" y="399.06" width="23.80" height="23.80" fill="#a5c7e9"/>
<rect x="685.38" y="399.06" width="23.80" height="23.80" fill="#a5c7e9"/>
<rect x="708.89" y="399.06" width="23.80" height="23.80" fill="#6da4d8"/>
<rect x="732.39" y="399.06" width="23.80" height="23.80" fill="#6ba2d7"/>
<rect x="755.90" y="399.06" width="23.80" height="23.80" fill="#c0d8f0"/>
<rect x="191.80" y="422.56" width="23.80" height="23.80" fill="#a2c5e8"/>
<rect x="215.30" y="422.56" width="23.80" height="23.80" fill="#6da4d8"/>
<rect x="238.81" y="422.56" width="23.80" height="23.80" fill="#69a1d7"/>
<rect x="262.31" y="422.56" width="23.80" height="23.80" fill="#70a6d9"/>
<rect x="285.82" y="422.56" width="23.80" height="23.80" fill="#8ab6e1"/>
<rect x="309.32" y="422.56" width="23.80" height="23.80" fill="#6ba3d7"/>
<rect x="332.82" y="422.56" width="23.80" height="23.80" fill="#5d99d2"/>
<rect x="356.33" y="422.56" width="23.80" height="23.80" fill="#4382c4"/>
<rect x="379.83" y="422.56" width="23.80" height="23.80" fill="#70a6d9"/>
<rect x="403.34" y="422.56" width="23.80" height="23.80" fill="#619cd4"/>
<rect x="426.84" y="422.56" width="23.80" height="23.80" fill="#3a73b4"/>
<rect x="450.34" y="422.56" width="23.80" height="23.80" fill="#3e7bbd"/>
<rect x="473.85" y="422.56" width="23.80" height="23.80" fill="#5290cd"/>
<rect x="497.35" y="422.56" width="23.80" height="23.80" fill="#27538e"/>
<rect x="520.86" y="422.56" width="23.80" height="23.80" fill="#2a5893"/>
<rect x="544.36" y="422.56" width="23.80" height="23.80" fill="#30619f"/>
<rect x="567.86" y="422.56" width="23.80" height="23.80" fill="#26528c"/>
<rect x="591.37" y="422.56" width="23.80" height="23.80" fill="#285691"/>
<rect x="614.87" y="422.56" width="23.80" height="23.80" fill="#26528c"/>
<rect x="638.38" y="422.56" width="23.80" height="23.80" fill="#3365a4"/>
<rect x="661.88" y="422.56" width="23.80" height="23.80" fill="#9cc1e6"/>
<rect x="685.38" y="422.56" width="23.80" height="23.80" fill="#9ac0e5"/>
<rect x="708.89" y="422.56" width="23.80" height="23.80" fill="#5f9ad3"/>
<rect x="732.39" y="422.56" width="23.80" height="23.80" fill="#5d99d2"/>
<rect x="755.90" y="422.56" width="23.80" height="23.80" fill="#b2cfed"/>
<rect x="191.80" y="446.07" width="23.80" height="23.80" fill="#a6c8e9"/>
<rect x="215.30" y="446.07" width="23.80" height="23.80" fill="#75a9da"/>
<rect x="238.81" y="446.07" width="23.80" height="23.80" fill="#6fa6d9"/>
<rect x="262.31" y="446.07" width="23.80" height="23.80" fill="#78abdb"/>
<rect x="285.82" y="446.07" width="23.80" height="23.80" fill="#90b9e2"/>
<rect x="309.32" y="446.07" width="23.80" height="23.80" fill="#72a7da"/>
<rect x="332.82" y="446.07" width="23.80" height="23.80" fill="#639dd4"/>
<rect x="356.33" y="446.07" width="23.80" height="23.80" fill="#4887c7"/>
<rect x="379.83" y="446.07" width="23.80" height="23.80" fill="#78abdb"/>
<rect x="403.34" y="446.07" width="23.80" height="23.80" fill="#67a0d6"/>
<rect x="426.84" y="446.07" width="23.80" height="23.80" fill="#3e7abc"/>
<rect x="450.34" y="446.07" width="23.80" height="23.80" fill="#4180c3"/>
<rect x="473.85" y="446.07" width="23.80" height="23.80" fill="#5795d0"/>
<rect x="497.35" y="446.07" width="23.80" height="23.80" fill="#3467a6"/>
<rect x="520.86" y="446.07" width="23.80" height="23.80" fill="#366bab"/>
<rect x="544.36" y="446.07" width="23.80" height="23.80" fill="#3b74b6"/>
<rect x="567.86" y="446.07" width="23.80" height="23.80" fill="#30619e"/>
<rect x="591.37" y="446.07" width="23.80" height="23.80" fill="#3569a9"/>
<rect x="614.87" y="446.07" width="23.80" height="23.80" fill="#2f5e9c"/>
<rect x="638.38" y="446.07" width="23.80" height="23.80" fill="#3b74b5"/>
<rect x="661.88" y="446.07" width="23.80" height="23.80" fill="#a0c3e7"/>
<rect x="685.38" y="446.07" width="23.80" height="23.80" fill="#9ec2e7"/>
<rect x="708.89" y="446.07" width="23.80" height="23.80" fill="#649ed5"/>
<rect x="732.39" y="446.07" width="23.80" height="23.80" fill="#629cd4"/>
<rect x="755.90" y="446.07" width="23.80" height="23.80" fill="#b7d2ee"/>
<rect x="191.80" y="469.57" width="23.80" height="23.80" fill="#9ec3e7"/>
<rect x="215.30" y="469.57" width="23.80" height="23.80" fill="#67a0d6"/>
<rect x="238.81" y="469.57" width="23.80" height="23.80" fill="#639dd5"/>
<rect x="262.31" y="469.57" width="23.80" height="23.80" fill="#69a1d7"/>
<rect x="285.82" y="469.57" width="23.80" height="23.80" fill="#85b3df"/>
<rect x="309.32" y="469.57" width="23.80" height="23.80" fill="#659fd5"/>
<rect x="332.82" y="469.57" width="23.80" height="23.80" fill="#5795d0"/>
<rect x="356.33" y="469.57" width="23.80" height="23.80" fill="#3f7dc0"/>
<rect x="379.83" y="469.57" width="23.80" height="23.80" fill="#69a1d7"/>
<rect x="403.34" y="469.57" width="23.80" height="23.80" fill="#5b98d2"/>
<rect x="426.84" y="469.57" width="23.80" height="23.80" fill="#376cad"/>
<rect x="450.34" y="469.57" width="23.80" height="23.80" fill="#3b75b7"/>
<rect x="473.85" y="469.57" width="23.80" height="23.80" fill="#4c8bca"/>
<rect x="497.35" y="469.57" width="23.80" height="23.80" fill="#26528c"/>
<rect x="520.86" y="469.57" width="23.80" height="23.80" fill="#26528c"/>
<rect x="544.36" y="469.57" width="23.80" height="23.80" fill="#2c5a97"/>
<rect x="567.86" y="469.57" width="23.80" height="23.80" fill="#26528c"/>
<rect x="591.37" y="469.57" width="23.80" height="23.80" fill="#26528c"/>
<rect x="614.87" y="469.57" width="23.80" height="23.80" fill="#26528c"/>
<rect x="638.38" y="469.57" width="23.80" height="23.80" fill="#2f5f9d"/>
<rect x="661.88" y="469.57" width="23.80" height="23.80" fill="#99bfe5"/>
<rect x="685.38" y="469.57" width="23.80" height="23.80" fill="#96bde4"/>
<rect x="708.89" y="469.57" width="23.80" height="23.80" fill="#5a96d1"/>
<rect x="732.39" y="469.57" width="23.80" height="23.80" fill="#5895d1"/>
<rect x="755.90" y="469.57" width="23.80" height="23.80" fill="#adcceb"/>
<rect x="191.80" y="493.08" width="23.80" height="23.80" fill="#a8c8ea"/>
<rect x="215.30" y="493.08" width="23.80" height="23.80" fill="#78abdb"/>
<rect x="238.81" y="493.08" width="23.80" height="23.80" fill="#72a7da"/>
<rect x="262.31" y="493.08" width="23.80" height="23.80" fill="#7aacdc"/>
<rect x="285.82" y="493.08" width="23.80" height="23.80" fill="#92bbe3"/>
<rect x="309.32" y="493.08" width="23.80" height="23.80" fill="#75a9da"/>
<rect x="332.82" y="493.08" width="23.80" height="23.80" fill="#659ed5"/>
<rect x="356.33" y="493.08" width="23.80" height="23.80" fill="#4a89c8"/>
<rect x="379.83" y="493.08" width="23.80" height="23.80" fill="#7aacdc"/>
<rect x="403.34" y="493.08" width="23.80" height="23.80" fill="#69a1d6"/>
<rect x="426.84" y="493.08" width="23.80" height="23.80" fill="#3f7cbf"/>
<rect x="450.34" y="493.08" width="23.80" height="23.80" fill="#4382c4"/>
<rect x="473.85" y="493.08" width="23.80" height="23.80" fill="#5996d1"/>
<rect x="497.35" y="493.08" width="23.80" height="23.80" fill="#2d5c99"/>
<rect x="520.86" y="493.08" width="23.80" height="23.80" fill="#30609e"/>
<rect x="544.36" y="493.08" width="23.80" height="23.80" fill="#3669a9"/>
<rect x="567.86" y="493.08" width="23.80" height="23.80" fill="#285590"/>
<rect x="591.37" y="493.08" width="23.80" height="23.80" fill="#2e5e9b"/>
<rect x="614.87" y="493.08" width="23.80" height="23.80" fill="#27538d"/>
<rect x="638.38" y="493.08" width="23.80" height="23.80" fill="#386dae"/>
<rect x="661.88" y="493.08" width="23.80" height="23.80" fill="#a1c4e8"/>
<rect x="685.38" y="493.08" width="23.80" height="23.80" fill="#9fc3e7"/>
<rect x="708.89" y="493.08" width="23.80" height="23.80" fill="#669fd5"/>
<rect x="732.39" y="493.08" width="23.80" height="23.80" fill="#649dd5"/>
<rect x="755.90" y="493.08" width="23.80" height="23.80" fill="#b9d3ef"/>
<rect x="191.80" y="516.58" width="23.80" height="23.80" fill="#d4e4f5"/>
<rect x="215.30" y="516.58" width="23.80" height="23.80" fill="#c3daf1"/>
<rect x="238.81" y="516.58" width="23.80" height="23.80" fill="#bfd7f0"/>
<rect x="262.31" y="516.58" width="23.80" height="23.80" fill="#c6dbf2"/>
<rect x="285.82" y="516.58" width="23.80" height="23.80" fill="#cbdef3"/>
<rect x="309.32" y="516.58" width="23.80" height="23.80" fill="#c1d8f1"/>
<rect x="332.82" y="516.58" width="23.80" height="23.80" fill="#b0ceec"/>
<rect x="356.33" y="516.58" width="23.80" height="23.80" fill="#92bbe3"/>
<rect x="379.83" y="516.58" width="23.80" height="23.80" fill="#c6dbf2"/>
<rect x="403.34" y="516.58" width="23.80" height="23.80" fill="#b5d1ee"/>
<rect x="426.84" y="516.58" width="23.80" height="23.80" fill="#9bc0e6"/>
<rect x="450.34" y="516.58" width="23.80" height="23.80" fill="#8ab6e0"/>
<rect x="473.85" y="516.58" width="23.80" height="23.80" fill="#aacaea"/>
<rect x="497.35" y="516.58" width="23.80" height="23.80" fill="#86b3df"/>
<rect x="520.86" y="516.58" width="23.80" height="23.80" fill="#8ab6e0"/>
<rect x="544.36" y="516.58" width="23.80" height="23.80" fill="#92bbe3"/>
<rect x="567.86" y="516.58" width="23.80" height="23.80" fill="#7fafdd"/>
<rect x="591.37" y="516.58" width="23.80" height="23.80" fill="#88b4e0"/>
<rect x="614.87" y="516.58" width="23.80" height="23.80" fill="#7daedd"/>
<rect x="638.38" y="516.58" width="23.80" height="23.80" fill="#8ab6e0"/>
<rect x="661.88" y="516.58" width="23.80" height="23.80" fill="#c9ddf3"/>
<rect x="685.38" y="516.58" width="23.80" height="23.80" fill="#cddff4"/>
<rect x="708.89" y="516.58" width="23.80" height="23.80" fill="#adcceb"/>
<rect x="732.39" y="516.58" width="23.80" height="23.80" fill="#aacaeb"/>
<rect x="755.90" y="516.58" width="23.80" height="23.80" fill="#eaf1fa"/>
<rect x="191.80" y="540.08" width="23.80" height="23.80" fill="#cfe1f4"/>
<rect x="215.30" y="540.08" width="23.80" height="23.80" fill="#bbd4ef"/>
<rect x="238.81" y="540.08" width="23.80" height="23.80" fill="#b5d1ee"/>
<rect x="262.31" y="540.08" width="23.80" height="23.80" fill="#bdd6f0"/>
<rect x="285.82" y="540.08" width="23.80" height="23.80" fill="#c4daf1"/>
<rect x="309.32" y="540.08" width="23.80" height="23.80" fill="#b8d3ee"/>
<rect x="332.82" y="540.08" width="23.80" height="23.80" fill="#a7c8ea"/>
<rect x="356.33" y="540.08" width="23.80" height="23.80" fill="#88b4e0"/>
<rect x="379.83" y="540.08" width="23.80" height="23.80" fill="#bdd6f0"/>
<rect x="403.34" y="540.08" width="23.80" height="23.80" fill="#accbeb"/>
<rect x="426.84" y="540.08" width="23.80" height="23.80" fill="#90bae2"/>
<rect x="450.34" y="540.08" width="23.80" height="23.80" fill="#7fafdd"/>
<rect x="473.85" y="540.08" width="23.80" height="23.80" fill="#a0c4e7"/>
<rect x="497.35" y="540.08" width="23.80" height="23.80" fill="#7aacdc"/>
<rect x="520.86" y="540.08" width="23.80" height="23.80" fill="#7fafdd"/>
<rect x="544.36" y="540.08" width="23.80" height="23.80" fill="#88b4e0"/>
<rect x="567.86" y="540.08" width="23.80" height="23.80" fill="#74a8da"/>
<rect x="591.37" y="540.08" width="23.80" height="23.80" fill="#7caedd"/>
<rect x="614.87" y="540.08" width="23.80" height="23.80" fill="#71a7d9"/>
<rect x="638.38" y="540.08" width="23.80" height="23.80" fill="#7fafdd"/>
<rect x="661.88" y="540.08" width="23.80" height="23.80" fill="#c4daf1"/>
<rect x="685.38" y="540.08" width="23.80" height="23.80" fill="#c7dcf2"/>
<rect x="708.89" y="540.08" width="23.80" height="23.80" fill="#a4c6e9"/>
<rect x="732.39" y="540.08" width="23.80" height="23.80" fill="#a2c5e8"/>
<rect x="755.90" y="540.08" width="23.80" height="23.80" fill="#e7effa"/>
<rect x="191.80" y="563.59" width="23.80" height="23.80" fill="#c9ddf3"/>
<rect x="215.30" y="563.59" width="23.80" height="23.80" fill="#b2cfed"/>
<rect x="238.81" y="563.59" width="23.80" height="23.80" fill="#accbeb"/>
<rect x="262.31" y="563.59" width="23.80" height="23.80" fill="#b5d1ed"/>
<rect x="285.82" y="563.59" width="23.80" height="23.80" fill="#bdd6f0"/>
<rect x="309.32" y="563.59" width="23.80" height="23.80" fill="#afcdec"/>
<rect x="332.82" y="563.59" width="23.80" height="23.80" fill="#9dc2e6"/>
<rect x="356.33" y="563.59" width="23.80" height="23.80" fill="#7aacdc"/>
<rect x="379.83" y="563.59" width="23.80" height="23.80" fill="#b5d1ed"/>
<rect x="403.34" y="563.59" width="23.80" height="23.80" fill="#a2c5e8"/>
<rect x="426.84" y="563.59" width="23.80" height="23.80" fill="#84b2df"/>
<rect x="450.34" y="563.59" width="23.80" height="23.80" fill="#70a6d9"/>
<rect x="473.85" y="563.59" width="23.80" height="23.80" fill="#96bde4"/>
<rect x="497.35" y="563.59" width="23.80" height="23.80" fill="#6ca3d8"/>
<rect x="520.86" y="563.59" width="23.80" height="23.80" fill="#70a6d9"/>
<rect x="544.36" y="563.59" width="23.80" height="23.80" fill="#7aacdc"/>
<rect x="567.86" y="563.59" width="23.80" height="23.80" fill="#669fd6"/>
<rect x="591.37" y="563.59" width="23.80" height="23.80" fill="#6ea4d8"/>
<rect x="614.87" y="563.59" width="23.80" height="23.80" fill="#649ed5"/>
<rect x="638.38" y="563.59" width="23.80" height="23.80" fill="#70a6d9"/>
<rect x="661.88" y="563.59" width="23.80" height="23.80" fill="#bdd5f0"/>
<rect x="685.38" y="563.59" width="23.80" height="23.80" fill="#c1d8f0"/>
<rect x="708.89" y="563.59" width="23.80" height="23.80" fill="#9ac0e5"/>
<rect x="732.39" y="563.59" width="23.80" height="23.80" fill="#97bee5"/>
<rect x="755.90" y="563.59" width="23.80" height="23.80" fill="#e4eef9"/>
<rect x="191.80" y="587.09" width="23.80" height="23.80" fill="#bfd7f0"/>
<rect x="215.30" y="587.09" width="23.80" height="23.80" fill="#a2c5e8"/>
<rect x="238.81" y="587.09" width="23.80" height="23.80" fill="#9cc1e6"/>
<rect x="262.31" y="587.09" width="23.80" height="23.80" fill="#a5c6e9"/>
<rect x="285.82" y="587.09" width="23.80" height="23.80" fill="#afcdec"/>
<rect x="309.32" y="587.09" width="23.80" height="23.80" fill="#9fc3e7"/>
<rect x="332.82" y="587.09" width="23.80" height="23.80" fill="#8bb7e1"/>
<rect x="356.33" y="587.09" width="23.80" height="23.80" fill="#67a0d6"/>
<rect x="379.83" y="587.09" width="23.80" height="23.80" fill="#a5c6e9"/>
<rect x="403.34" y="587.09" width="23.80" height="23.80" fill="#91bae3"/>
<rect x="426.84" y="587.09" width="23.80" height="23.80" fill="#70a6d9"/>
<rect x="450.34" y="587.09" width="23.80" height="23.80" fill="#5f9ad3"/>
<rect x="473.85" y="587.09" width="23.80" height="23.80" fill="#83b2df"/>
<rect x="497.35" y="587.09" width="23.80" height="23.80" fill="#5b98d2"/>
<rect x="520.86" y="587.09" width="23.80" height="23.80" fill="#5f9ad3"/>
<rect x="544.36" y="587.09" width="23.80" height="23.80" fill="#67a0d6"/>
<rect x="567.86" y="587.09" width="23.80" height="23.80" fill="#5593cf"/>
<rect x="591.37" y="587.09" width="23.80" height="23.80" fill="#5d99d2"/>
<rect x="614.87" y="587.09" width="23.80" height="23.80" fill="#5391ce"/>
<rect x="638.38" y="587.09" width="23.80" height="23.80" fill="#5f9ad3"/>
<rect x="661.88" y="587.09" width="23.80" height="23.80" fill="#b2cfed"/>
<rect x="685.38" y="587.09" width="23.80" height="23.80" fill="#b5d1ee"/>
<rect x="708.89" y="587.09" width="23.80" height="23.80" fill="#89b5e0"/>
<rect x="732.39" y="587.09" width="23.80" height="23.80" fill="#86b3df"/>
<rect x="755.90" y="587.09" width="23.80" height="23.80" fill="#e0ebf8"/>
<rect x="191.80" y="610.60" width="23.80" height="23.80" fill="#dde9f7"/>
<rect x="215.30" y="610.60" width="23.80" height="23.80" fill="#d2e3f5"/>
<rect x="238.81" y="610.60" width="23.80" height="23.80" fill="#cee0f4"/>
<rect x="262.31" y="610.60" width="23.80" height="23.80" fill="#d4e4f6"/>
<rect x="285.82" y="610.60" width="23.80" height="23.80" fill="#d6e5f6"/>
<rect x="309.32" y="610.60" width="23.80" height="23.80" fill="#d0e1f4"/>
<rect x="332.82" y="610.60" width="23.80" height="23.80" fill="#c1d8f1"/>
<rect x="356.33" y="610.60" width="23.80" height="23.80" fill="#a5c7e9"/>
<rect x="379.83" y="610.60" width="23.80" height="23.80" fill="#d4e4f6"/>
<rect x="403.34" y="610.60" width="23.80" height="23.80" fill="#c6dbf2"/>
<rect x="426.84" y="610.60" width="23.80" height="23.80" fill="#adcceb"/>
<rect x="450.34" y="610.60" width="23.80" height="23.80" fill="#9ec2e7"/>
<rect x="473.85" y="610.60" width="23.80" height="23.80" fill="#bbd4ef"/>
<rect x="497.35" y="610.60" width="23.80" height="23.80" fill="#9ac0e5"/>
<rect x="520.86" y="610.60" width="23.80" height="23.80" fill="#9ec2e7"/>
<rect x="544.36" y="610.60" width="23.80" height="23.80" fill="#a5c7e9"/>
<rect x="567.86" y="610.60" width="23.80" height="23.80" fill="#94bce4"/>
<rect x="591.37" y="610.60" width="23.80" height="23.80" fill="#9cc1e6"/>
<rect x="614.87" y="610.60" width="23.80" height="23.80" fill="#92bbe3"/>
<rect x="638.38" y="610.60" width="23.80" height="23.80" fill="#9ec2e7"/>
<rect x="661.88" y="610.60" width="23.80" height="23.80" fill="#d2e3f5"/>
<rect x="685.38" y="610.60" width="23.80" height="23.80" fill="#d6e5f6"/>
<rect x="708.89" y="610.60" width="23.80" height="23.80" fill="#bdd6f0"/>
<rect x="732.39" y="610.60" width="23.80" height="23.80" fill="#bbd4ef"/>
<rect x="755.90" y="610.60" width="23.80" height="23.80" fill="#eff4fc"/>
<path d="M191.30 46.50H779.90M191.30 70.00H779.90M191.30 93.51H779.90M191.30 117.01H779.90M191.30 140.52H779.90M191.30 164.02H779.90M191.30 187.52H779.90M191.30 211.03H779.90M191.30 234.53H779.90M191.30 258.04H779.90M191.30 281.54H779.90M191.30 305.04H779.90M191.30 328.55H779.90M191.30 352.05H779.90M191.30 375.56H779.90M191.30 399.06H779.90M191.30 422.56H779.90M191.30 446.07H779.90M191.30 469.57H779.90M191.30 493.08H779.90M191.30 516.58H779.90M191.30 540.08H779.90M191.30 563.59H779.90M191.30 587.09H779.90M191.30 610.60H779.90M191.30 634.10H779.90M191.80 46.00V634.60M215.30 46.00V634.60M238.81 46.00V634.60M262.31 46.00V634.60M285.82 46.00V634.60M309.32 46.00V634.60M332.82 46.00V634.60M356.33 46.00V634.60M379.83 46.00V634.60M403.34 46.00V634.60M426.84 46.00V634.60M450.34 46.00V634.60M473.85 46.00V634.60M497.35 46.00V634.60M520.86 46.00V634.60M544.36 46.00V634.60M567.86 46.00V634.60M591.37 46.00V634.60M614.87 46.00V634.60M638.38 46.00V634.60M661.88 46.00V634.60M685.38 46.00V634.60M708.89 46.00V634.60M732.39 46.00V634.60M755.90 46.00V634.60M779.40 46.00V634.60" stroke="#2b2b2b" stroke-width="1.00" fill="none"/>
<text transform="translate(181.00 63.95)" x="-100.30" y="0" font-size="20.30" fill="#231f20" textLength="100.30" lengthAdjust="spacingAndGlyphs">CD4_naive</text>
<text transform="translate(181.00 87.46)" x="-129.20" y="0" font-size="20.30" fill="#231f20" textLength="129.20" lengthAdjust="spacingAndGlyphs">CD4_memory</text>
<text transform="translate(181.00 110.96)" x="-67.80" y="0" font-size="20.30" fill="#231f20" textLength="67.80" lengthAdjust="spacingAndGlyphs">CD4_Ef</text>
<text transform="translate(181.00 134.46)" x="-43.10" y="0" font-size="20.30" fill="#231f20" textLength="43.10" lengthAdjust="spacingAndGlyphs">Treg</text>
<text transform="translate(181.00 157.97)" x="-100.30" y="0" font-size="20.30" fill="#231f20" textLength="100.30" lengthAdjust="spacingAndGlyphs">CD8_naive</text>
<text transform="translate(181.00 181.47)" x="-129.20" y="0" font-size="20.30" fill="#231f20" textLength="129.20" lengthAdjust="spacingAndGlyphs">CD8_memory</text>
<text transform="translate(181.00 204.98)" x="-67.80" y="0" font-size="20.30" fill="#231f20" textLength="67.80" lengthAdjust="spacingAndGlyphs">CD8_Ef</text>
<text transform="translate(181.00 228.48)" x="-37.70" y="0" font-size="20.30" fill="#231f20" textLength="37.70" lengthAdjust="spacingAndGlyphs">NKT</text>
<text transform="translate(181.00 251.98)" x="-47.60" y="0" font-size="20.30" fill="#231f20" textLength="47.60" lengthAdjust="spacingAndGlyphs">MAIT</text>
<text transform="translate(181.00 275.49)" x="-36.40" y="0" font-size="20.30" fill="#231f20" textLength="36.40" lengthAdjust="spacingAndGlyphs">gdT</text>
<text transform="translate(181.00 298.99)" x="-47.30" y="0" font-size="20.30" fill="#231f20" textLength="47.30" lengthAdjust="spacingAndGlyphs">Pro T</text>
<text transform="translate(181.00 322.50)" x="-26.10" y="0" font-size="20.30" fill="#231f20" textLength="26.10" lengthAdjust="spacingAndGlyphs">NK</text>
<text transform="translate(181.00 334.60)" x="-35.60" y="0" font-size="13.00" fill="#231f20" textLength="35.60" lengthAdjust="spacingAndGlyphs">bright</text>
<text transform="translate(143.60 346.00)" x="-88.00" y="0" font-size="20.30" fill="#231f20" textLength="88.00" lengthAdjust="spacingAndGlyphs">NK_CD56</text>
<text transform="translate(181.00 369.50)" x="-136.50" y="0" font-size="20.30" fill="#231f20" textLength="136.50" lengthAdjust="spacingAndGlyphs">cMono_S100A</text>
<text transform="translate(181.00 393.01)" x="-111.30" y="0" font-size="20.30" fill="#231f20" textLength="111.30" lengthAdjust="spacingAndGlyphs">cMono_IL1B</text>
<text transform="translate(181.00 416.51)" x="-127.10" y="0" font-size="20.30" fill="#231f20" textLength="127.10" lengthAdjust="spacingAndGlyphs">cMono_CCL3</text>
<text transform="translate(181.00 440.02)" x="-78.40" y="0" font-size="20.30" fill="#ec1c24" textLength="78.40" lengthAdjust="spacingAndGlyphs">intMono</text>
<text transform="translate(181.00 463.52)" x="-77.70" y="0" font-size="20.30" fill="#231f20" textLength="77.70" lengthAdjust="spacingAndGlyphs">ncMono</text>
<text transform="translate(181.00 487.02)" x="-40.00" y="0" font-size="20.30" fill="#ec1c24" textLength="40.00" lengthAdjust="spacingAndGlyphs">cDC</text>
<text transform="translate(181.00 510.53)" x="-40.50" y="0" font-size="20.30" fill="#ec1c24" textLength="40.50" lengthAdjust="spacingAndGlyphs">pDC</text>
<text transform="translate(181.00 534.03)" x="-71.00" y="0" font-size="20.30" fill="#231f20" textLength="71.00" lengthAdjust="spacingAndGlyphs">B_naive</text>
<text transform="translate(181.00 557.54)" x="-100.00" y="0" font-size="20.30" fill="#231f20" textLength="100.00" lengthAdjust="spacingAndGlyphs">B_memory</text>
<text transform="translate(181.00 581.04)" x="-109.00" y="0" font-size="20.30" fill="#231f20" textLength="109.00" lengthAdjust="spacingAndGlyphs">B_activated</text>
<text transform="translate(181.00 604.54)" x="-89.20" y="0" font-size="20.30" fill="#231f20" textLength="89.20" lengthAdjust="spacingAndGlyphs">B_plasma</text>
<text transform="translate(181.00 628.05)" x="-71.30" y="0" font-size="20.30" fill="#231f20" textLength="71.30" lengthAdjust="spacingAndGlyphs">Platelet</text>
<text transform="translate(210.55 644.50) rotate(-90)" x="-100.30" y="0" font-size="20.30" fill="#231f20" textLength="100.30" lengthAdjust="spacingAndGlyphs">CD4_naive</text>
<text transform="translate(234.06 644.50) rotate(-90)" x="-129.20" y="0" font-size="20.30" fill="#231f20" textLength="129.20" lengthAdjust="spacingAndGlyphs">CD4_memory</text>
<text transform="translate(257.56 644.50) rotate(-90)" x="-67.80" y="0" font-size="20.30" fill="#231f20" textLength="67.80" lengthAdjust="spacingAndGlyphs">CD4_Ef</text>
<text transform="translate(281.06 644.50) rotate(-90)" x="-43.10" y="0" font-size="20.30" fill="#231f20" textLength="43.10" lengthAdjust="spacingAndGlyphs">Treg</text>
<text transform="translate(304.57 644.50) rotate(-90)" x="-100.30" y="0" font-size="20.30" fill="#231f20" textLength="100.30" lengthAdjust="spacingAndGlyphs">CD8_naive</text>
<text transform="translate(328.07 644.50) rotate(-90)" x="-129.20" y="0" font-size="20.30" fill="#231f20" textLength="129.20" lengthAdjust="spacingAndGlyphs">CD8_memory</text>
<text transform="translate(351.58 644.50) rotate(-90)" x="-67.80" y="0" font-size="20.30" fill="#231f20" textLength="67.80" lengthAdjust="spacingAndGlyphs">CD8_Ef</text>
<text transform="translate(375.08 644.50) rotate(-90)" x="-37.70" y="0" font-size="20.30" fill="#231f20" textLength="37.70" lengthAdjust="spacingAndGlyphs">NKT</text>
<text transform="translate(398.58 644.50) rotate(-90)" x="-47.60" y="0" font-size="20.30" fill="#231f20" textLength="47.60" lengthAdjust="spacingAndGlyphs">MAIT</text>
<text transform="translate(422.09 644.50) rotate(-90)" x="-36.40" y="0" font-size="20.30" fill="#231f20" textLength="36.40" lengthAdjust="spacingAndGlyphs">gdT</text>
<text transform="translate(445.59 644.50) rotate(-90)" x="-47.30" y="0" font-size="20.30" fill="#231f20" textLength="47.30" lengthAdjust="spacingAndGlyphs">Pro T</text>
<text transform="translate(469.10 644.50) rotate(-90)" x="-26.10" y="0" font-size="20.30" fill="#231f20" textLength="26.10" lengthAdjust="spacingAndGlyphs">NK</text>
<text transform="translate(481.20 644.50) rotate(-90)" x="-35.60" y="0" font-size="13.00" fill="#231f20" textLength="35.60" lengthAdjust="spacingAndGlyphs">bright</text>
<text transform="translate(492.60 681.90) rotate(-90)" x="-88.00" y="0" font-size="20.30" fill="#231f20" textLength="88.00" lengthAdjust="spacingAndGlyphs">NK_CD56</text>
<text transform="translate(516.10 644.50) rotate(-90)" x="-136.50" y="0" font-size="20.30" fill="#ec1c24" textLength="136.50" lengthAdjust="spacingAndGlyphs">cMono_S100A</text>
<text transform="translate(539.61 644.50) rotate(-90)" x="-111.30" y="0" font-size="20.30" fill="#231f20" textLength="111.30" lengthAdjust="spacingAndGlyphs">cMono_IL1B</text>
<text transform="translate(563.11 644.50) rotate(-90)" x="-127.10" y="0" font-size="20.30" fill="#231f20" textLength="127.10" lengthAdjust="spacingAndGlyphs">cMono_CCL3</text>
<text transform="translate(586.62 644.50) rotate(-90)" x="-78.40" y="0" font-size="20.30" fill="#ec1c24" textLength="78.40" lengthAdjust="spacingAndGlyphs">intMono</text>
<text transform="translate(610.12 644.50) rotate(-90)" x="-77.70" y="0" font-size="20.30" fill="#ec1c24" textLength="77.70" lengthAdjust="spacingAndGlyphs">ncMono</text>
<text transform="translate(633.62 644.50) rotate(-90)" x="-40.00" y="0" font-size="20.30" fill="#ec1c24" textLength="40.00" lengthAdjust="spacingAndGlyphs">cDC</text>
<text transform="translate(657.13 644.50) rotate(-90)" x="-40.50" y="0" font-size="20.30" fill="#231f20" textLength="40.50" lengthAdjust="spacingAndGlyphs">pDC</text>
<text transform="translate(680.63 644.50) rotate(-90)" x="-71.00" y="0" font-size="20.30" fill="#231f20" textLength="71.00" lengthAdjust="spacingAndGlyphs">B_naive</text>
<text transform="translate(704.14 644.50) rotate(-90)" x="-100.00" y="0" font-size="20.30" fill="#231f20" textLength="100.00" lengthAdjust="spacingAndGlyphs">B_memory</text>
<text transform="translate(727.64 644.50) rotate(-90)" x="-109.00" y="0" font-size="20.30" fill="#231f20" textLength="109.00" lengthAdjust="spacingAndGlyphs">B_activated</text>
<text transform="translate(751.14 644.50) rotate(-90)" x="-89.20" y="0" font-size="20.30" fill="#231f20" textLength="89.20" lengthAdjust="spacingAndGlyphs">B_plasma</text>
<text transform="translate(774.65 644.50) rotate(-90)" x="-71.30" y="0" font-size="20.30" fill="#231f20" textLength="71.30" lengthAdjust="spacingAndGlyphs">Platelet</text>
<rect x="570.32" y="425.02" width="18.6" height="18.6" fill="none" stroke="#e9eef6" stroke-width="1.1"/>
<text x="579.62" y="447.82" font-size="28.0" fill="#ec1c24" text-anchor="middle">*</text>
<rect x="617.32" y="425.02" width="18.6" height="18.6" fill="none" stroke="#e9eef6" stroke-width="1.1"/>
<text x="626.62" y="447.82" font-size="28.0" fill="#ec1c24" text-anchor="middle">*</text>
<rect x="499.80" y="472.02" width="18.6" height="18.6" fill="none" stroke="#e9eef6" stroke-width="1.1"/>
<text x="509.10" y="494.82" font-size="28.0" fill="#ec1c24" text-anchor="middle">*</text>
<rect x="570.32" y="472.02" width="18.6" height="18.6" fill="none" stroke="#e9eef6" stroke-width="1.1"/>
<text x="579.62" y="494.82" font-size="28.0" fill="#ec1c24" text-anchor="middle">*</text>
<rect x="593.82" y="472.02" width="18.6" height="18.6" fill="none" stroke="#e9eef6" stroke-width="1.1"/>
<text x="603.12" y="494.82" font-size="28.0" fill="#ec1c24" text-anchor="middle">*</text>
<rect x="617.32" y="472.02" width="18.6" height="18.6" fill="none" stroke="#e9eef6" stroke-width="1.1"/>
<text x="626.62" y="494.82" font-size="28.0" fill="#ec1c24" text-anchor="middle">*</text>
<rect x="617.32" y="495.53" width="18.6" height="18.6" fill="none" stroke="#e9eef6" stroke-width="1.1"/>
<text x="626.62" y="518.33" font-size="28.0" fill="#ec1c24" text-anchor="middle">*</text>
<text transform="translate(485.60 30.50)" x="-56.10" y="0" font-size="24.60" fill="#231f20" textLength="112.20" lengthAdjust="spacingAndGlyphs">COVID-19</text>
<text transform="translate(486.00 816.70)" x="-236.50" y="0" font-size="23.20" fill="#231f20" textLength="473.00" lengthAdjust="spacingAndGlyphs">Cell-type expressing receptor (receiving)</text>
<text transform="translate(20.80 340.00) rotate(-90)" x="-214.40" y="0" font-size="23.20" fill="#231f20" textLength="428.80" lengthAdjust="spacingAndGlyphs">Cell-type expressing ligand (sending)</text>
<text transform="translate(798.10 243.75)" x="0.00" y="0" font-size="20.30" fill="#231f20" textLength="103.00" lengthAdjust="spacingAndGlyphs">Interaction</text>
<text transform="translate(798.10 267.90)" x="0.00" y="0" font-size="20.30" fill="#231f20" textLength="54.38" lengthAdjust="spacingAndGlyphs">count</text>
<rect x="803.40" y="287.1" width="16.3" height="158.9" fill="url(#gb)" stroke="#2b2b2b" stroke-width="1"/>
<path d="M803.90 326.90h3M819.20 326.90h-3" stroke="#fff" stroke-width="1"/>
<path d="M803.90 366.50h3M819.20 366.50h-3" stroke="#fff" stroke-width="1"/>
<path d="M803.90 405.60h3M819.20 405.60h-3" stroke="#fff" stroke-width="1"/>
<text transform="translate(829.40 294.00)" x="0.00" y="0" font-size="20.30" fill="#231f20" textLength="37.26" lengthAdjust="spacingAndGlyphs">100</text>
<text transform="translate(829.40 333.90)" x="0.00" y="0" font-size="20.30" fill="#231f20" textLength="24.84" lengthAdjust="spacingAndGlyphs">75</text>
<text transform="translate(829.40 373.50)" x="0.00" y="0" font-size="20.30" fill="#231f20" textLength="24.84" lengthAdjust="spacingAndGlyphs">50</text>
<text transform="translate(829.40 412.60)" x="0.00" y="0" font-size="20.30" fill="#231f20" textLength="24.84" lengthAdjust="spacingAndGlyphs">25</text>
<text transform="translate(829.40 451.60)" x="0.00" y="0" font-size="20.30" fill="#231f20" textLength="12.42" lengthAdjust="spacingAndGlyphs">0</text>
<rect x="1171.60" y="46.50" width="23.70" height="23.69" fill="#c7dcf2"/>
<rect x="1195.00" y="46.50" width="23.70" height="23.69" fill="#bed6f0"/>
<rect x="1218.39" y="46.50" width="23.70" height="23.69" fill="#afcdec"/>
<rect x="1241.79" y="46.50" width="23.70" height="23.69" fill="#c1d8f1"/>
<rect x="1265.18" y="46.50" width="23.70" height="23.69" fill="#bed6f0"/>
<rect x="1288.58" y="46.50" width="23.70" height="23.69" fill="#bbd4ef"/>
<rect x="1311.98" y="46.50" width="23.70" height="23.69" fill="#92bbe3"/>
<rect x="1335.37" y="46.50" width="23.70" height="23.69" fill="#7fafdd"/>
<rect x="1358.77" y="46.50" width="23.70" height="23.69" fill="#bbd4ef"/>
<rect x="1382.16" y="46.50" width="23.70" height="23.69" fill="#a4c6e9"/>
<rect x="1405.56" y="46.50" width="23.70" height="23.69" fill="#92bbe3"/>
<rect x="1428.96" y="46.50" width="23.70" height="23.69" fill="#7aacdc"/>
<rect x="1452.35" y="46.50" width="23.70" height="23.69" fill="#9fc3e7"/>
<rect x="1475.75" y="46.50" width="23.70" height="23.69" fill="#7fafdd"/>
<rect x="1499.14" y="46.50" width="23.70" height="23.69" fill="#7aacdc"/>
<rect x="1522.54" y="46.50" width="23.70" height="23.69" fill="#77aadb"/>
<rect x="1545.94" y="46.50" width="23.70" height="23.69" fill="#70a6d9"/>
<rect x="1569.33" y="46.50" width="23.70" height="23.69" fill="#6da4d8"/>
<rect x="1592.73" y="46.50" width="23.70" height="23.69" fill="#6ba3d7"/>
<rect x="1616.12" y="46.50" width="23.70" height="23.69" fill="#87b4e0"/>
<rect x="1639.52" y="46.50" width="23.70" height="23.69" fill="#bbd4ef"/>
<rect x="1662.92" y="46.50" width="23.70" height="23.69" fill="#b8d3ee"/>
<rect x="1686.31" y="46.50" width="23.70" height="23.69" fill="#a4c6e9"/>
<rect x="1709.71" y="46.50" width="23.70" height="23.69" fill="#aacaea"/>
<rect x="1733.10" y="46.50" width="23.70" height="23.69" fill="#e8f0fa"/>
<rect x="1171.60" y="69.89" width="23.70" height="23.69" fill="#c2d8f1"/>
<rect x="1195.00" y="69.89" width="23.70" height="23.69" fill="#b2cfed"/>
<rect x="1218.39" y="69.89" width="23.70" height="23.69" fill="#a4c6e9"/>
<rect x="1241.79" y="69.89" width="23.70" height="23.69" fill="#b5d1ee"/>
<rect x="1265.18" y="69.89" width="23.70" height="23.69" fill="#b6d1ee"/>
<rect x="1288.58" y="69.89" width="23.70" height="23.69" fill="#afcdec"/>
<rect x="1311.98" y="69.89" width="23.70" height="23.69" fill="#87b4e0"/>
<rect x="1335.37" y="69.89" width="23.70" height="23.69" fill="#75a9da"/>
<rect x="1358.77" y="69.89" width="23.70" height="23.69" fill="#b1ceed"/>
<rect x="1382.16" y="69.89" width="23.70" height="23.69" fill="#9ac0e5"/>
<rect x="1405.56" y="69.89" width="23.70" height="23.69" fill="#87b4e0"/>
<rect x="1428.96" y="69.89" width="23.70" height="23.69" fill="#70a6d9"/>
<rect x="1452.35" y="69.89" width="23.70" height="23.69" fill="#94bce4"/>
<rect x="1475.75" y="69.89" width="23.70" height="23.69" fill="#75a9da"/>
<rect x="1499.14" y="69.89" width="23.70" height="23.69" fill="#70a6d9"/>
<rect x="1522.54" y="69.89" width="23.70" height="23.69" fill="#6da4d8"/>
<rect x="1545.94" y="69.89" width="23.70" height="23.69" fill="#67a0d6"/>
<rect x="1569.33" y="69.89" width="23.70" height="23.69" fill="#659fd5"/>
<rect x="1592.73" y="69.89" width="23.70" height="23.69" fill="#639dd5"/>
<rect x="1616.12" y="69.89" width="23.70" height="23.69" fill="#7daedd"/>
<rect x="1639.52" y="69.89" width="23.70" height="23.69" fill="#b6d1ee"/>
<rect x="1662.92" y="69.89" width="23.70" height="23.69" fill="#aecdec"/>
<rect x="1686.31" y="69.89" width="23.70" height="23.69" fill="#9bc1e6"/>
<rect x="1709.71" y="69.89" width="23.70" height="23.69" fill="#9fc3e7"/>
<rect x="1733.10" y="69.89" width="23.70" height="23.69" fill="#e1ecf8"/>
<rect x="1171.60" y="93.28" width="23.70" height="23.69" fill="#bcd5ef"/>
<rect x="1195.00" y="93.28" width="23.70" height="23.69" fill="#a7c8ea"/>
<rect x="1218.39" y="93.28" width="23.70" height="23.69" fill="#9ac0e5"/>
<rect x="1241.79" y="93.28" width="23.70" height="23.69" fill="#aacaea"/>
<rect x="1265.18" y="93.28" width="23.70" height="23.69" fill="#adccec"/>
<rect x="1288.58" y="93.28" width="23.70" height="23.69" fill="#a4c6e9"/>
<rect x="1311.98" y="93.28" width="23.70" height="23.69" fill="#7daedd"/>
<rect x="1335.37" y="93.28" width="23.70" height="23.69" fill="#6ba3d7"/>
<rect x="1358.77" y="93.28" width="23.70" height="23.69" fill="#a9c9ea"/>
<rect x="1382.16" y="93.28" width="23.70" height="23.69" fill="#8fb9e2"/>
<rect x="1405.56" y="93.28" width="23.70" height="23.69" fill="#7daedd"/>
<rect x="1428.96" y="93.28" width="23.70" height="23.69" fill="#67a0d6"/>
<rect x="1452.35" y="93.28" width="23.70" height="23.69" fill="#8ab6e0"/>
<rect x="1475.75" y="93.28" width="23.70" height="23.69" fill="#6ba3d7"/>
<rect x="1499.14" y="93.28" width="23.70" height="23.69" fill="#67a0d6"/>
<rect x="1522.54" y="93.28" width="23.70" height="23.69" fill="#659fd5"/>
<rect x="1545.94" y="93.28" width="23.70" height="23.69" fill="#609bd3"/>
<rect x="1569.33" y="93.28" width="23.70" height="23.69" fill="#5e99d3"/>
<rect x="1592.73" y="93.28" width="23.70" height="23.69" fill="#5c98d2"/>
<rect x="1616.12" y="93.28" width="23.70" height="23.69" fill="#72a7da"/>
<rect x="1639.52" y="93.28" width="23.70" height="23.69" fill="#b0ceec"/>
<rect x="1662.92" y="93.28" width="23.70" height="23.69" fill="#a6c7e9"/>
<rect x="1686.31" y="93.28" width="23.70" height="23.69" fill="#92bbe3"/>
<rect x="1709.71" y="93.28" width="23.70" height="23.69" fill="#94bce4"/>
<rect x="1733.10" y="93.28" width="23.70" height="23.69" fill="#dae7f7"/>
<rect x="1171.60" y="116.66" width="23.70" height="23.69" fill="#c6dbf2"/>
<rect x="1195.00" y="116.66" width="23.70" height="23.69" fill="#bbd4ef"/>
<rect x="1218.39" y="116.66" width="23.70" height="23.69" fill="#accbeb"/>
<rect x="1241.79" y="116.66" width="23.70" height="23.69" fill="#bed6f0"/>
<rect x="1265.18" y="116.66" width="23.70" height="23.69" fill="#bcd5ef"/>
<rect x="1288.58" y="116.66" width="23.70" height="23.69" fill="#b8d3ee"/>
<rect x="1311.98" y="116.66" width="23.70" height="23.69" fill="#8fb9e2"/>
<rect x="1335.37" y="116.66" width="23.70" height="23.69" fill="#7daedd"/>
<rect x="1358.77" y="116.66" width="23.70" height="23.69" fill="#b9d3ee"/>
<rect x="1382.16" y="116.66" width="23.70" height="23.69" fill="#a2c5e8"/>
<rect x="1405.56" y="116.66" width="23.70" height="23.69" fill="#8fb9e2"/>
<rect x="1428.96" y="116.66" width="23.70" height="23.69" fill="#77aadb"/>
<rect x="1452.35" y="116.66" width="23.70" height="23.69" fill="#9cc1e6"/>
<rect x="1475.75" y="116.66" width="23.70" height="23.69" fill="#7daedd"/>
<rect x="1499.14" y="116.66" width="23.70" height="23.69" fill="#77aadb"/>
<rect x="1522.54" y="116.66" width="23.70" height="23.69" fill="#75a9da"/>
<rect x="1545.94" y="116.66" width="23.70" height="23.69" fill="#6da4d8"/>
<rect x="1569.33" y="116.66" width="23.70" height="23.69" fill="#6ba3d7"/>
<rect x="1592.73" y="116.66" width="23.70" height="23.69" fill="#69a1d7"/>
<rect x="1616.12" y="116.66" width="23.70" height="23.69" fill="#85b3df"/>
<rect x="1639.52" y="116.66" width="23.70" height="23.69" fill="#bad4ef"/>
<rect x="1662.92" y="116.66" width="23.70" height="23.69" fill="#b6d1ee"/>
<rect x="1686.31" y="116.66" width="23.70" height="23.69" fill="#a2c5e8"/>
<rect x="1709.71" y="116.66" width="23.70" height="23.69" fill="#a7c8ea"/>
<rect x="1733.10" y="116.66" width="23.70" height="23.69" fill="#e6effa"/>
<rect x="1171.60" y="140.05" width="23.70" height="23.69" fill="#c7dcf2"/>
<rect x="1195.00" y="140.05" width="23.70" height="23.69" fill="#bed6f0"/>
<rect x="1218.39" y="140.05" width="23.70" height="23.69" fill="#afcdec"/>
<rect x="1241.79" y="140.05" width="23.70" height="23.69" fill="#c1d8f1"/>
<rect x="1265.18" y="140.05" width="23.70" height="23.69" fill="#bed6f0"/>
<rect x="1288.58" y="140.05" width="23.70" height="23.69" fill="#bbd4ef"/>
<rect x="1311.98" y="140.05" width="23.70" height="23.69" fill="#92bbe3"/>
<rect x="1335.37" y="140.05" width="23.70" height="23.69" fill="#7fafdd"/>
<rect x="1358.77" y="140.05" width="23.70" height="23.69" fill="#bbd4ef"/>
<rect x="1382.16" y="140.05" width="23.70" height="23.69" fill="#a4c6e9"/>
<rect x="1405.56" y="140.05" width="23.70" height="23.69" fill="#92bbe3"/>
<rect x="1428.96" y="140.05" width="23.70" height="23.69" fill="#7aacdc"/>
<rect x="1452.35" y="140.05" width="23.70" height="23.69" fill="#9fc3e7"/>
<rect x="1475.75" y="140.05" width="23.70" height="23.69" fill="#7fafdd"/>
<rect x="1499.14" y="140.05" width="23.70" height="23.69" fill="#7aacdc"/>
<rect x="1522.54" y="140.05" width="23.70" height="23.69" fill="#77aadb"/>
<rect x="1545.94" y="140.05" width="23.70" height="23.69" fill="#70a6d9"/>
<rect x="1569.33" y="140.05" width="23.70" height="23.69" fill="#6da4d8"/>
<rect x="1592.73" y="140.05" width="23.70" height="23.69" fill="#6ba3d7"/>
<rect x="1616.12" y="140.05" width="23.70" height="23.69" fill="#87b4e0"/>
<rect x="1639.52" y="140.05" width="23.70" height="23.69" fill="#bbd4ef"/>
<rect x="1662.92" y="140.05" width="23.70" height="23.69" fill="#b8d3ee"/>
<rect x="1686.31" y="140.05" width="23.70" height="23.69" fill="#a4c6e9"/>
<rect x="1709.71" y="140.05" width="23.70" height="23.69" fill="#aacaea"/>
<rect x="1733.10" y="140.05" width="23.70" height="23.69" fill="#e8f0fa"/>
<rect x="1171.60" y="163.44" width="23.70" height="23.69" fill="#c6dbf2"/>
<rect x="1195.00" y="163.44" width="23.70" height="23.69" fill="#bbd4ef"/>
<rect x="1218.39" y="163.44" width="23.70" height="23.69" fill="#accbeb"/>
<rect x="1241.79" y="163.44" width="23.70" height="23.69" fill="#bed6f0"/>
<rect x="1265.18" y="163.44" width="23.70" height="23.69" fill="#bcd5ef"/>
<rect x="1288.58" y="163.44" width="23.70" height="23.69" fill="#b8d3ee"/>
<rect x="1311.98" y="163.44" width="23.70" height="23.69" fill="#8fb9e2"/>
<rect x="1335.37" y="163.44" width="23.70" height="23.69" fill="#7daedd"/>
<rect x="1358.77" y="163.44" width="23.70" height="23.69" fill="#b9d3ee"/>
<rect x="1382.16" y="163.44" width="23.70" height="23.69" fill="#a2c5e8"/>
<rect x="1405.56" y="163.44" width="23.70" height="23.69" fill="#8fb9e2"/>
<rect x="1428.96" y="163.44" width="23.70" height="23.69" fill="#77aadb"/>
<rect x="1452.35" y="163.44" width="23.70" height="23.69" fill="#9cc1e6"/>
<rect x="1475.75" y="163.44" width="23.70" height="23.69" fill="#7daedd"/>
<rect x="1499.14" y="163.44" width="23.70" height="23.69" fill="#77aadb"/>
<rect x="1522.54" y="163.44" width="23.70" height="23.69" fill="#75a9da"/>
<rect x="1545.94" y="163.44" width="23.70" height="23.69" fill="#6da4d8"/>
<rect x="1569.33" y="163.44" width="23.70" height="23.69" fill="#6ba3d7"/>
<rect x="1592.73" y="163.44" width="23.70" height="23.69" fill="#69a1d7"/>
<rect x="1616.12" y="163.44" width="23.70" height="23.69" fill="#85b3df"/>
<rect x="1639.52" y="163.44" width="23.70" height="23.69" fill="#bad4ef"/>
<rect x="1662.92" y="163.44" width="23.70" height="23.69" fill="#b6d1ee"/>
<rect x="1686.31" y="163.44" width="23.70" height="23.69" fill="#a2c5e8"/>
<rect x="1709.71" y="163.44" width="23.70" height="23.69" fill="#a7c8ea"/>
<rect x="1733.10" y="163.44" width="23.70" height="23.69" fill="#e6effa"/>
<rect x="1171.60" y="186.83" width="23.70" height="23.69" fill="#bed6f0"/>
<rect x="1195.00" y="186.83" width="23.70" height="23.69" fill="#aacaea"/>
<rect x="1218.39" y="186.83" width="23.70" height="23.69" fill="#9cc1e6"/>
<rect x="1241.79" y="186.83" width="23.70" height="23.69" fill="#accbeb"/>
<rect x="1265.18" y="186.83" width="23.70" height="23.69" fill="#afcdec"/>
<rect x="1288.58" y="186.83" width="23.70" height="23.69" fill="#a7c8ea"/>
<rect x="1311.98" y="186.83" width="23.70" height="23.69" fill="#7fafdd"/>
<rect x="1335.37" y="186.83" width="23.70" height="23.69" fill="#6da4d8"/>
<rect x="1358.77" y="186.83" width="23.70" height="23.69" fill="#abcaeb"/>
<rect x="1382.16" y="186.83" width="23.70" height="23.69" fill="#92bbe3"/>
<rect x="1405.56" y="186.83" width="23.70" height="23.69" fill="#7fafdd"/>
<rect x="1428.96" y="186.83" width="23.70" height="23.69" fill="#69a1d7"/>
<rect x="1452.35" y="186.83" width="23.70" height="23.69" fill="#8cb7e1"/>
<rect x="1475.75" y="186.83" width="23.70" height="23.69" fill="#6da4d8"/>
<rect x="1499.14" y="186.83" width="23.70" height="23.69" fill="#69a1d7"/>
<rect x="1522.54" y="186.83" width="23.70" height="23.69" fill="#67a0d6"/>
<rect x="1545.94" y="186.83" width="23.70" height="23.69" fill="#629cd4"/>
<rect x="1569.33" y="186.83" width="23.70" height="23.69" fill="#609bd3"/>
<rect x="1592.73" y="186.83" width="23.70" height="23.69" fill="#5e99d3"/>
<rect x="1616.12" y="186.83" width="23.70" height="23.69" fill="#75a9da"/>
<rect x="1639.52" y="186.83" width="23.70" height="23.69" fill="#b2cfed"/>
<rect x="1662.92" y="186.83" width="23.70" height="23.69" fill="#a8c9ea"/>
<rect x="1686.31" y="186.83" width="23.70" height="23.69" fill="#94bce4"/>
<rect x="1709.71" y="186.83" width="23.70" height="23.69" fill="#97bee4"/>
<rect x="1733.10" y="186.83" width="23.70" height="23.69" fill="#dbe8f7"/>
<rect x="1171.60" y="210.22" width="23.70" height="23.69" fill="#bed6f0"/>
<rect x="1195.00" y="210.22" width="23.70" height="23.69" fill="#aacaea"/>
<rect x="1218.39" y="210.22" width="23.70" height="23.69" fill="#9cc1e6"/>
<rect x="1241.79" y="210.22" width="23.70" height="23.69" fill="#accbeb"/>
<rect x="1265.18" y="210.22" width="23.70" height="23.69" fill="#afcdec"/>
<rect x="1288.58" y="210.22" width="23.70" height="23.69" fill="#a7c8ea"/>
<rect x="1311.98" y="210.22" width="23.70" height="23.69" fill="#7fafdd"/>
<rect x="1335.37" y="210.22" width="23.70" height="23.69" fill="#6da4d8"/>
<rect x="1358.77" y="210.22" width="23.70" height="23.69" fill="#abcaeb"/>
<rect x="1382.16" y="210.22" width="23.70" height="23.69" fill="#92bbe3"/>
<rect x="1405.56" y="210.22" width="23.70" height="23.69" fill="#7fafdd"/>
<rect x="1428.96" y="210.22" width="23.70" height="23.69" fill="#69a1d7"/>
<rect x="1452.35" y="210.22" width="23.70" height="23.69" fill="#8cb7e1"/>
<rect x="1475.75" y="210.22" width="23.70" height="23.69" fill="#6da4d8"/>
<rect x="1499.14" y="210.22" width="23.70" height="23.69" fill="#69a1d7"/>
<rect x="1522.54" y="210.22" width="23.70" height="23.69" fill="#67a0d6"/>
<rect x="1545.94" y="210.22" width="23.70" height="23.69" fill="#629cd4"/>
<rect x="1569.33" y="210.22" width="23.70" height="23.69" fill="#609bd3"/>
<rect x="1592.73" y="210.22" width="23.70" height="23.69" fill="#5e99d3"/>
<rect x="1616.12" y="210.22" width="23.70" height="23.69" fill="#75a9da"/>
<rect x="1639.52" y="210.22" width="23.70" height="23.69" fill="#b2cfed"/>
<rect x="1662.92" y="210.22" width="23.70" height="23.69" fill="#a8c9ea"/>
<rect x="1686.31" y="210.22" width="23.70" height="23.69" fill="#94bce4"/>
<rect x="1709.71" y="210.22" width="23.70" height="23.69" fill="#97bee4"/>
<rect x="1733.10" y="210.22" width="23.70" height="23.69" fill="#dbe8f7"/>
<rect x="1171.60" y="233.60" width="23.70" height="23.69" fill="#c7dcf2"/>
<rect x="1195.00" y="233.60" width="23.70" height="23.69" fill="#bed6f0"/>
<rect x="1218.39" y="233.60" width="23.70" height="23.69" fill="#afcdec"/>
<rect x="1241.79" y="233.60" width="23.70" height="23.69" fill="#c1d8f1"/>
<rect x="1265.18" y="233.60" width="23.70" height="23.69" fill="#bed6f0"/>
<rect x="1288.58" y="233.60" width="23.70" height="23.69" fill="#bbd4ef"/>
<rect x="1311.98" y="233.60" width="23.70" height="23.69" fill="#92bbe3"/>
<rect x="1335.37" y="233.60" width="23.70" height="23.69" fill="#7fafdd"/>
<rect x="1358.77" y="233.60" width="23.70" height="23.69" fill="#bbd4ef"/>
<rect x="1382.16" y="233.60" width="23.70" height="23.69" fill="#a4c6e9"/>
<rect x="1405.56" y="233.60" width="23.70" height="23.69" fill="#92bbe3"/>
<rect x="1428.96" y="233.60" width="23.70" height="23.69" fill="#7aacdc"/>
<rect x="1452.35" y="233.60" width="23.70" height="23.69" fill="#9fc3e7"/>
<rect x="1475.75" y="233.60" width="23.70" height="23.69" fill="#7fafdd"/>
<rect x="1499.14" y="233.60" width="23.70" height="23.69" fill="#7aacdc"/>
<rect x="1522.54" y="233.60" width="23.70" height="23.69" fill="#77aadb"/>
<rect x="1545.94" y="233.60" width="23.70" height="23.69" fill="#70a6d9"/>
<rect x="1569.33" y="233.60" width="23.70" height="23.69" fill="#6da4d8"/>
<rect x="1592.73" y="233.60" width="23.70" height="23.69" fill="#6ba3d7"/>
<rect x="1616.12" y="233.60" width="23.70" height="23.69" fill="#87b4e0"/>
<rect x="1639.52" y="233.60" width="23.70" height="23.69" fill="#bbd4ef"/>
<rect x="1662.92" y="233.60" width="23.70" height="23.69" fill="#b8d3ee"/>
<rect x="1686.31" y="233.60" width="23.70" height="23.69" fill="#a4c6e9"/>
<rect x="1709.71" y="233.60" width="23.70" height="23.69" fill="#aacaea"/>
<rect x="1733.10" y="233.60" width="23.70" height="23.69" fill="#e8f0fa"/>
<rect x="1171.60" y="256.99" width="23.70" height="23.69" fill="#c0d8f0"/>
<rect x="1195.00" y="256.99" width="23.70" height="23.69" fill="#afcdec"/>
<rect x="1218.39" y="256.99" width="23.70" height="23.69" fill="#a2c5e8"/>
<rect x="1241.79" y="256.99" width="23.70" height="23.69" fill="#b2cfed"/>
<rect x="1265.18" y="256.99" width="23.70" height="23.69" fill="#b4d0ed"/>
<rect x="1288.58" y="256.99" width="23.70" height="23.69" fill="#accbeb"/>
<rect x="1311.98" y="256.99" width="23.70" height="23.69" fill="#85b3df"/>
<rect x="1335.37" y="256.99" width="23.70" height="23.69" fill="#72a7da"/>
<rect x="1358.77" y="256.99" width="23.70" height="23.69" fill="#afcdec"/>
<rect x="1382.16" y="256.99" width="23.70" height="23.69" fill="#97bee4"/>
<rect x="1405.56" y="256.99" width="23.70" height="23.69" fill="#85b3df"/>
<rect x="1428.96" y="256.99" width="23.70" height="23.69" fill="#6da4d8"/>
<rect x="1452.35" y="256.99" width="23.70" height="23.69" fill="#92bbe3"/>
<rect x="1475.75" y="256.99" width="23.70" height="23.69" fill="#72a7da"/>
<rect x="1499.14" y="256.99" width="23.70" height="23.69" fill="#6da4d8"/>
<rect x="1522.54" y="256.99" width="23.70" height="23.69" fill="#6ba3d7"/>
<rect x="1545.94" y="256.99" width="23.70" height="23.69" fill="#659fd5"/>
<rect x="1569.33" y="256.99" width="23.70" height="23.69" fill="#639dd5"/>
<rect x="1592.73" y="256.99" width="23.70" height="23.69" fill="#629cd4"/>
<rect x="1616.12" y="256.99" width="23.70" height="23.69" fill="#7aacdc"/>
<rect x="1639.52" y="256.99" width="23.70" height="23.69" fill="#b4d0ed"/>
<rect x="1662.92" y="256.99" width="23.70" height="23.69" fill="#accbeb"/>
<rect x="1686.31" y="256.99" width="23.70" height="23.69" fill="#99bfe5"/>
<rect x="1709.71" y="256.99" width="23.70" height="23.69" fill="#9cc1e6"/>
<rect x="1733.10" y="256.99" width="23.70" height="23.69" fill="#dfeaf8"/>
<rect x="1171.60" y="280.38" width="23.70" height="23.69" fill="#b4d0ed"/>
<rect x="1195.00" y="280.38" width="23.70" height="23.69" fill="#97bee4"/>
<rect x="1218.39" y="280.38" width="23.70" height="23.69" fill="#8ab6e0"/>
<rect x="1241.79" y="280.38" width="23.70" height="23.69" fill="#9ac0e5"/>
<rect x="1265.18" y="280.38" width="23.70" height="23.69" fill="#a2c5e8"/>
<rect x="1288.58" y="280.38" width="23.70" height="23.69" fill="#94bce4"/>
<rect x="1311.98" y="280.38" width="23.70" height="23.69" fill="#6da4d8"/>
<rect x="1335.37" y="280.38" width="23.70" height="23.69" fill="#609bd3"/>
<rect x="1358.77" y="280.38" width="23.70" height="23.69" fill="#9cc1e6"/>
<rect x="1382.16" y="280.38" width="23.70" height="23.69" fill="#7fafdd"/>
<rect x="1405.56" y="280.38" width="23.70" height="23.69" fill="#6da4d8"/>
<rect x="1428.96" y="280.38" width="23.70" height="23.69" fill="#5c98d2"/>
<rect x="1452.35" y="280.38" width="23.70" height="23.69" fill="#7aacdc"/>
<rect x="1475.75" y="280.38" width="23.70" height="23.69" fill="#609bd3"/>
<rect x="1499.14" y="280.38" width="23.70" height="23.69" fill="#5c98d2"/>
<rect x="1522.54" y="280.38" width="23.70" height="23.69" fill="#5a97d1"/>
<rect x="1545.94" y="280.38" width="23.70" height="23.69" fill="#5492cf"/>
<rect x="1569.33" y="280.38" width="23.70" height="23.69" fill="#5391ce"/>
<rect x="1592.73" y="280.38" width="23.70" height="23.69" fill="#518fcd"/>
<rect x="1616.12" y="280.38" width="23.70" height="23.69" fill="#659fd5"/>
<rect x="1639.52" y="280.38" width="23.70" height="23.69" fill="#a9c9ea"/>
<rect x="1662.92" y="280.38" width="23.70" height="23.69" fill="#99bfe5"/>
<rect x="1686.31" y="280.38" width="23.70" height="23.69" fill="#85b3df"/>
<rect x="1709.71" y="280.38" width="23.70" height="23.69" fill="#85b3df"/>
<rect x="1733.10" y="280.38" width="23.70" height="23.69" fill="#cfe1f4"/>
<rect x="1171.60" y="303.77" width="23.70" height="23.69" fill="#c0d8f0"/>
<rect x="1195.00" y="303.77" width="23.70" height="23.69" fill="#afcdec"/>
<rect x="1218.39" y="303.77" width="23.70" height="23.69" fill="#a2c5e8"/>
<rect x="1241.79" y="303.77" width="23.70" height="23.69" fill="#b2cfed"/>
<rect x="1265.18" y="303.77" width="23.70" height="23.69" fill="#b4d0ed"/>
<rect x="1288.58" y="303.77" width="23.70" height="23.69" fill="#accbeb"/>
<rect x="1311.98" y="303.77" width="23.70" height="23.69" fill="#85b3df"/>
<rect x="1335.37" y="303.77" width="23.70" height="23.69" fill="#72a7da"/>
<rect x="1358.77" y="303.77" width="23.70" height="23.69" fill="#afcdec"/>
<rect x="1382.16" y="303.77" width="23.70" height="23.69" fill="#97bee4"/>
<rect x="1405.56" y="303.77" width="23.70" height="23.69" fill="#85b3df"/>
<rect x="1428.96" y="303.77" width="23.70" height="23.69" fill="#6da4d8"/>
<rect x="1452.35" y="303.77" width="23.70" height="23.69" fill="#92bbe3"/>
<rect x="1475.75" y="303.77" width="23.70" height="23.69" fill="#72a7da"/>
<rect x="1499.14" y="303.77" width="23.70" height="23.69" fill="#6da4d8"/>
<rect x="1522.54" y="303.77" width="23.70" height="23.69" fill="#6ba3d7"/>
<rect x="1545.94" y="303.77" width="23.70" height="23.69" fill="#659fd5"/>
<rect x="1569.33" y="303.77" width="23.70" height="23.69" fill="#639dd5"/>
<rect x="1592.73" y="303.77" width="23.70" height="23.69" fill="#629cd4"/>
<rect x="1616.12" y="303.77" width="23.70" height="23.69" fill="#7aacdc"/>
<rect x="1639.52" y="303.77" width="23.70" height="23.69" fill="#b4d0ed"/>
<rect x="1662.92" y="303.77" width="23.70" height="23.69" fill="#accbeb"/>
<rect x="1686.31" y="303.77" width="23.70" height="23.69" fill="#99bfe5"/>
<rect x="1709.71" y="303.77" width="23.70" height="23.69" fill="#9cc1e6"/>
<rect x="1733.10" y="303.77" width="23.70" height="23.69" fill="#dfeaf8"/>
<rect x="1171.60" y="327.16" width="23.70" height="23.69" fill="#c2d8f1"/>
<rect x="1195.00" y="327.16" width="23.70" height="23.69" fill="#b2cfed"/>
<rect x="1218.39" y="327.16" width="23.70" height="23.69" fill="#a4c6e9"/>
<rect x="1241.79" y="327.16" width="23.70" height="23.69" fill="#b5d1ee"/>
<rect x="1265.18" y="327.16" width="23.70" height="23.69" fill="#b6d1ee"/>
<rect x="1288.58" y="327.16" width="23.70" height="23.69" fill="#afcdec"/>
<rect x="1311.98" y="327.16" width="23.70" height="23.69" fill="#87b4e0"/>
<rect x="1335.37" y="327.16" width="23.70" height="23.69" fill="#75a9da"/>
<rect x="1358.77" y="327.16" width="23.70" height="23.69" fill="#b1ceed"/>
<rect x="1382.16" y="327.16" width="23.70" height="23.69" fill="#9ac0e5"/>
<rect x="1405.56" y="327.16" width="23.70" height="23.69" fill="#87b4e0"/>
<rect x="1428.96" y="327.16" width="23.70" height="23.69" fill="#70a6d9"/>
<rect x="1452.35" y="327.16" width="23.70" height="23.69" fill="#94bce4"/>
<rect x="1475.75" y="327.16" width="23.70" height="23.69" fill="#75a9da"/>
<rect x="1499.14" y="327.16" width="23.70" height="23.69" fill="#70a6d9"/>
<rect x="1522.54" y="327.16" width="23.70" height="23.69" fill="#6da4d8"/>
<rect x="1545.94" y="327.16" width="23.70" height="23.69" fill="#67a0d6"/>
<rect x="1569.33" y="327.16" width="23.70" height="23.69" fill="#659fd5"/>
<rect x="1592.73" y="327.16" width="23.70" height="23.69" fill="#639dd5"/>
<rect x="1616.12" y="327.16" width="23.70" height="23.69" fill="#7daedd"/>
<rect x="1639.52" y="327.16" width="23.70" height="23.69" fill="#b6d1ee"/>
<rect x="1662.92" y="327.16" width="23.70" height="23.69" fill="#aecdec"/>
<rect x="1686.31" y="327.16" width="23.70" height="23.69" fill="#9bc1e6"/>
<rect x="1709.71" y="327.16" width="23.70" height="23.69" fill="#9fc3e7"/>
<rect x="1733.10" y="327.16" width="23.70" height="23.69" fill="#e1ecf8"/>
<rect x="1171.60" y="350.54" width="23.70" height="23.69" fill="#abcbeb"/>
<rect x="1195.00" y="350.54" width="23.70" height="23.69" fill="#85b3df"/>
<rect x="1218.39" y="350.54" width="23.70" height="23.69" fill="#77aadb"/>
<rect x="1241.79" y="350.54" width="23.70" height="23.69" fill="#87b4e0"/>
<rect x="1265.18" y="350.54" width="23.70" height="23.69" fill="#95bde4"/>
<rect x="1288.58" y="350.54" width="23.70" height="23.69" fill="#82b1de"/>
<rect x="1311.98" y="350.54" width="23.70" height="23.69" fill="#609bd3"/>
<rect x="1335.37" y="350.54" width="23.70" height="23.69" fill="#5391ce"/>
<rect x="1358.77" y="350.54" width="23.70" height="23.69" fill="#8db8e1"/>
<rect x="1382.16" y="350.54" width="23.70" height="23.69" fill="#6da4d8"/>
<rect x="1405.56" y="350.54" width="23.70" height="23.69" fill="#609bd3"/>
<rect x="1428.96" y="350.54" width="23.70" height="23.69" fill="#4a88c8"/>
<rect x="1452.35" y="350.54" width="23.70" height="23.69" fill="#69a1d7"/>
<rect x="1475.75" y="350.54" width="23.70" height="23.69" fill="#4c8bca"/>
<rect x="1499.14" y="350.54" width="23.70" height="23.69" fill="#3f7dc0"/>
<rect x="1522.54" y="350.54" width="23.70" height="23.69" fill="#4887c7"/>
<rect x="1545.94" y="350.54" width="23.70" height="23.69" fill="#3466a5"/>
<rect x="1569.33" y="350.54" width="23.70" height="23.69" fill="#3970b1"/>
<rect x="1592.73" y="350.54" width="23.70" height="23.69" fill="#3c77b9"/>
<rect x="1616.12" y="350.54" width="23.70" height="23.69" fill="#5895d1"/>
<rect x="1639.52" y="350.54" width="23.70" height="23.69" fill="#a0c4e7"/>
<rect x="1662.92" y="350.54" width="23.70" height="23.69" fill="#8ab6e1"/>
<rect x="1686.31" y="350.54" width="23.70" height="23.69" fill="#75a9da"/>
<rect x="1709.71" y="350.54" width="23.70" height="23.69" fill="#72a7da"/>
<rect x="1733.10" y="350.54" width="23.70" height="23.69" fill="#c2d9f1"/>
<rect x="1171.60" y="373.93" width="23.70" height="23.69" fill="#aacaea"/>
<rect x="1195.00" y="373.93" width="23.70" height="23.69" fill="#82b1de"/>
<rect x="1218.39" y="373.93" width="23.70" height="23.69" fill="#75a9da"/>
<rect x="1241.79" y="373.93" width="23.70" height="23.69" fill="#85b3df"/>
<rect x="1265.18" y="373.93" width="23.70" height="23.69" fill="#93bce3"/>
<rect x="1288.58" y="373.93" width="23.70" height="23.69" fill="#7fafdd"/>
<rect x="1311.98" y="373.93" width="23.70" height="23.69" fill="#5e99d3"/>
<rect x="1335.37" y="373.93" width="23.70" height="23.69" fill="#518fcd"/>
<rect x="1358.77" y="373.93" width="23.70" height="23.69" fill="#8bb6e1"/>
<rect x="1382.16" y="373.93" width="23.70" height="23.69" fill="#6ba3d7"/>
<rect x="1405.56" y="373.93" width="23.70" height="23.69" fill="#5e99d3"/>
<rect x="1428.96" y="373.93" width="23.70" height="23.69" fill="#4887c7"/>
<rect x="1452.35" y="373.93" width="23.70" height="23.69" fill="#67a0d6"/>
<rect x="1475.75" y="373.93" width="23.70" height="23.69" fill="#4a89c9"/>
<rect x="1499.14" y="373.93" width="23.70" height="23.69" fill="#3e7bbe"/>
<rect x="1522.54" y="373.93" width="23.70" height="23.69" fill="#4685c6"/>
<rect x="1545.94" y="373.93" width="23.70" height="23.69" fill="#3264a3"/>
<rect x="1569.33" y="373.93" width="23.70" height="23.69" fill="#386dae"/>
<rect x="1592.73" y="373.93" width="23.70" height="23.69" fill="#3b75b7"/>
<rect x="1616.12" y="373.93" width="23.70" height="23.69" fill="#5694d0"/>
<rect x="1639.52" y="373.93" width="23.70" height="23.69" fill="#9fc3e7"/>
<rect x="1662.92" y="373.93" width="23.70" height="23.69" fill="#88b5e0"/>
<rect x="1686.31" y="373.93" width="23.70" height="23.69" fill="#73a8da"/>
<rect x="1709.71" y="373.93" width="23.70" height="23.69" fill="#70a6d9"/>
<rect x="1733.10" y="373.93" width="23.70" height="23.69" fill="#c0d8f0"/>
<rect x="1171.60" y="397.32" width="23.70" height="23.69" fill="#accbeb"/>
<rect x="1195.00" y="397.32" width="23.70" height="23.69" fill="#87b4e0"/>
<rect x="1218.39" y="397.32" width="23.70" height="23.69" fill="#7aacdc"/>
<rect x="1241.79" y="397.32" width="23.70" height="23.69" fill="#8ab6e0"/>
<rect x="1265.18" y="397.32" width="23.70" height="23.69" fill="#97bee4"/>
<rect x="1288.58" y="397.32" width="23.70" height="23.69" fill="#85b3df"/>
<rect x="1311.98" y="397.32" width="23.70" height="23.69" fill="#629cd4"/>
<rect x="1335.37" y="397.32" width="23.70" height="23.69" fill="#5492cf"/>
<rect x="1358.77" y="397.32" width="23.70" height="23.69" fill="#8fb9e2"/>
<rect x="1382.16" y="397.32" width="23.70" height="23.69" fill="#70a6d9"/>
<rect x="1405.56" y="397.32" width="23.70" height="23.69" fill="#629cd4"/>
<rect x="1428.96" y="397.32" width="23.70" height="23.69" fill="#4b8ac9"/>
<rect x="1452.35" y="397.32" width="23.70" height="23.69" fill="#6ba3d7"/>
<rect x="1475.75" y="397.32" width="23.70" height="23.69" fill="#4e8ccb"/>
<rect x="1499.14" y="397.32" width="23.70" height="23.69" fill="#407fc2"/>
<rect x="1522.54" y="397.32" width="23.70" height="23.69" fill="#4a88c8"/>
<rect x="1545.94" y="397.32" width="23.70" height="23.69" fill="#3568a8"/>
<rect x="1569.33" y="397.32" width="23.70" height="23.69" fill="#3a72b3"/>
<rect x="1592.73" y="397.32" width="23.70" height="23.69" fill="#3d79bb"/>
<rect x="1616.12" y="397.32" width="23.70" height="23.69" fill="#5a97d1"/>
<rect x="1639.52" y="397.32" width="23.70" height="23.69" fill="#a2c5e8"/>
<rect x="1662.92" y="397.32" width="23.70" height="23.69" fill="#8cb7e1"/>
<rect x="1686.31" y="397.32" width="23.70" height="23.69" fill="#77aadb"/>
<rect x="1709.71" y="397.32" width="23.70" height="23.69" fill="#75a9da"/>
<rect x="1733.10" y="397.32" width="23.70" height="23.69" fill="#c4daf1"/>
<rect x="1171.60" y="420.71" width="23.70" height="23.69" fill="#a3c5e8"/>
<rect x="1195.00" y="420.71" width="23.70" height="23.69" fill="#75a9da"/>
<rect x="1218.39" y="420.71" width="23.70" height="23.69" fill="#69a1d6"/>
<rect x="1241.79" y="420.71" width="23.70" height="23.69" fill="#78abdb"/>
<rect x="1265.18" y="420.71" width="23.70" height="23.69" fill="#89b5e0"/>
<rect x="1288.58" y="420.71" width="23.70" height="23.69" fill="#72a7da"/>
<rect x="1311.98" y="420.71" width="23.70" height="23.69" fill="#5391ce"/>
<rect x="1335.37" y="420.71" width="23.70" height="23.69" fill="#4785c6"/>
<rect x="1358.77" y="420.71" width="23.70" height="23.69" fill="#80b0de"/>
<rect x="1382.16" y="420.71" width="23.70" height="23.69" fill="#619bd4"/>
<rect x="1405.56" y="420.71" width="23.70" height="23.69" fill="#5391ce"/>
<rect x="1428.96" y="420.71" width="23.70" height="23.69" fill="#3b74b6"/>
<rect x="1452.35" y="420.71" width="23.70" height="23.69" fill="#5d99d2"/>
<rect x="1475.75" y="420.71" width="23.70" height="23.69" fill="#3c77b9"/>
<rect x="1499.14" y="420.71" width="23.70" height="23.69" fill="#3366a5"/>
<rect x="1522.54" y="420.71" width="23.70" height="23.69" fill="#3a72b3"/>
<rect x="1545.94" y="420.71" width="23.70" height="23.69" fill="#26528c"/>
<rect x="1569.33" y="420.71" width="23.70" height="23.69" fill="#3061a0"/>
<rect x="1592.73" y="420.71" width="23.70" height="23.69" fill="#2f609d"/>
<rect x="1616.12" y="420.71" width="23.70" height="23.69" fill="#4c8aca"/>
<rect x="1639.52" y="420.71" width="23.70" height="23.69" fill="#98bee5"/>
<rect x="1662.92" y="420.71" width="23.70" height="23.69" fill="#7daedd"/>
<rect x="1686.31" y="420.71" width="23.70" height="23.69" fill="#68a1d6"/>
<rect x="1709.71" y="420.71" width="23.70" height="23.69" fill="#659ed5"/>
<rect x="1733.10" y="420.71" width="23.70" height="23.69" fill="#b8d3ee"/>
<rect x="1171.60" y="444.10" width="23.70" height="23.69" fill="#a2c5e8"/>
<rect x="1195.00" y="444.10" width="23.70" height="23.69" fill="#72a7da"/>
<rect x="1218.39" y="444.10" width="23.70" height="23.69" fill="#67a0d6"/>
<rect x="1241.79" y="444.10" width="23.70" height="23.69" fill="#75a9da"/>
<rect x="1265.18" y="444.10" width="23.70" height="23.69" fill="#87b4e0"/>
<rect x="1288.58" y="444.10" width="23.70" height="23.69" fill="#6fa6d9"/>
<rect x="1311.98" y="444.10" width="23.70" height="23.69" fill="#518fcd"/>
<rect x="1335.37" y="444.10" width="23.70" height="23.69" fill="#4584c5"/>
<rect x="1358.77" y="444.10" width="23.70" height="23.69" fill="#7eaedd"/>
<rect x="1382.16" y="444.10" width="23.70" height="23.69" fill="#5f9ad3"/>
<rect x="1405.56" y="444.10" width="23.70" height="23.69" fill="#518fcd"/>
<rect x="1428.96" y="444.10" width="23.70" height="23.69" fill="#3a72b3"/>
<rect x="1452.35" y="444.10" width="23.70" height="23.69" fill="#5b97d2"/>
<rect x="1475.75" y="444.10" width="23.70" height="23.69" fill="#3b75b7"/>
<rect x="1499.14" y="444.10" width="23.70" height="23.69" fill="#3264a2"/>
<rect x="1522.54" y="444.10" width="23.70" height="23.69" fill="#3970b1"/>
<rect x="1545.94" y="444.10" width="23.70" height="23.69" fill="#26528c"/>
<rect x="1569.33" y="444.10" width="23.70" height="23.69" fill="#2f5f9d"/>
<rect x="1592.73" y="444.10" width="23.70" height="23.69" fill="#2e5e9b"/>
<rect x="1616.12" y="444.10" width="23.70" height="23.69" fill="#4a89c8"/>
<rect x="1639.52" y="444.10" width="23.70" height="23.69" fill="#96bee4"/>
<rect x="1662.92" y="444.10" width="23.70" height="23.69" fill="#7baddc"/>
<rect x="1686.31" y="444.10" width="23.70" height="23.69" fill="#669fd6"/>
<rect x="1709.71" y="444.10" width="23.70" height="23.69" fill="#639dd4"/>
<rect x="1733.10" y="444.10" width="23.70" height="23.69" fill="#b6d2ee"/>
<rect x="1171.60" y="467.48" width="23.70" height="23.69" fill="#a3c5e8"/>
<rect x="1195.00" y="467.48" width="23.70" height="23.69" fill="#75a9da"/>
<rect x="1218.39" y="467.48" width="23.70" height="23.69" fill="#69a1d6"/>
<rect x="1241.79" y="467.48" width="23.70" height="23.69" fill="#78abdb"/>
<rect x="1265.18" y="467.48" width="23.70" height="23.69" fill="#89b5e0"/>
<rect x="1288.58" y="467.48" width="23.70" height="23.69" fill="#72a7da"/>
<rect x="1311.98" y="467.48" width="23.70" height="23.69" fill="#5391ce"/>
<rect x="1335.37" y="467.48" width="23.70" height="23.69" fill="#4785c6"/>
<rect x="1358.77" y="467.48" width="23.70" height="23.69" fill="#80b0de"/>
<rect x="1382.16" y="467.48" width="23.70" height="23.69" fill="#619bd4"/>
<rect x="1405.56" y="467.48" width="23.70" height="23.69" fill="#5391ce"/>
<rect x="1428.96" y="467.48" width="23.70" height="23.69" fill="#3b74b6"/>
<rect x="1452.35" y="467.48" width="23.70" height="23.69" fill="#5d99d2"/>
<rect x="1475.75" y="467.48" width="23.70" height="23.69" fill="#3c77b9"/>
<rect x="1499.14" y="467.48" width="23.70" height="23.69" fill="#3366a5"/>
<rect x="1522.54" y="467.48" width="23.70" height="23.69" fill="#3a72b3"/>
<rect x="1545.94" y="467.48" width="23.70" height="23.69" fill="#26528c"/>
<rect x="1569.33" y="467.48" width="23.70" height="23.69" fill="#3061a0"/>
<rect x="1592.73" y="467.48" width="23.70" height="23.69" fill="#2f609d"/>
<rect x="1616.12" y="467.48" width="23.70" height="23.69" fill="#4c8aca"/>
<rect x="1639.52" y="467.48" width="23.70" height="23.69" fill="#98bee5"/>
<rect x="1662.92" y="467.48" width="23.70" height="23.69" fill="#7daedd"/>
<rect x="1686.31" y="467.48" width="23.70" height="23.69" fill="#68a1d6"/>
<rect x="1709.71" y="467.48" width="23.70" height="23.69" fill="#659ed5"/>
<rect x="1733.10" y="467.48" width="23.70" height="23.69" fill="#b8d3ee"/>
<rect x="1171.60" y="490.87" width="23.70" height="23.69" fill="#b4d0ed"/>
<rect x="1195.00" y="490.87" width="23.70" height="23.69" fill="#97bee4"/>
<rect x="1218.39" y="490.87" width="23.70" height="23.69" fill="#8ab6e0"/>
<rect x="1241.79" y="490.87" width="23.70" height="23.69" fill="#9ac0e5"/>
<rect x="1265.18" y="490.87" width="23.70" height="23.69" fill="#a2c5e8"/>
<rect x="1288.58" y="490.87" width="23.70" height="23.69" fill="#94bce4"/>
<rect x="1311.98" y="490.87" width="23.70" height="23.69" fill="#6da4d8"/>
<rect x="1335.37" y="490.87" width="23.70" height="23.69" fill="#609bd3"/>
<rect x="1358.77" y="490.87" width="23.70" height="23.69" fill="#9cc1e6"/>
<rect x="1382.16" y="490.87" width="23.70" height="23.69" fill="#7fafdd"/>
<rect x="1405.56" y="490.87" width="23.70" height="23.69" fill="#6da4d8"/>
<rect x="1428.96" y="490.87" width="23.70" height="23.69" fill="#5c98d2"/>
<rect x="1452.35" y="490.87" width="23.70" height="23.69" fill="#7aacdc"/>
<rect x="1475.75" y="490.87" width="23.70" height="23.69" fill="#609bd3"/>
<rect x="1499.14" y="490.87" width="23.70" height="23.69" fill="#5c98d2"/>
<rect x="1522.54" y="490.87" width="23.70" height="23.69" fill="#5a97d1"/>
<rect x="1545.94" y="490.87" width="23.70" height="23.69" fill="#4382c4"/>
<rect x="1569.33" y="490.87" width="23.70" height="23.69" fill="#4d8cca"/>
<rect x="1592.73" y="490.87" width="23.70" height="23.69" fill="#518fcd"/>
<rect x="1616.12" y="490.87" width="23.70" height="23.69" fill="#659fd5"/>
<rect x="1639.52" y="490.87" width="23.70" height="23.69" fill="#a9c9ea"/>
<rect x="1662.92" y="490.87" width="23.70" height="23.69" fill="#99bfe5"/>
<rect x="1686.31" y="490.87" width="23.70" height="23.69" fill="#85b3df"/>
<rect x="1709.71" y="490.87" width="23.70" height="23.69" fill="#85b3df"/>
<rect x="1733.10" y="490.87" width="23.70" height="23.69" fill="#cfe1f4"/>
<rect x="1171.60" y="514.26" width="23.70" height="23.69" fill="#cbdef3"/>
<rect x="1195.00" y="514.26" width="23.70" height="23.69" fill="#c1d8f1"/>
<rect x="1218.39" y="514.26" width="23.70" height="23.69" fill="#b4d0ed"/>
<rect x="1241.79" y="514.26" width="23.70" height="23.69" fill="#c4daf1"/>
<rect x="1265.18" y="514.26" width="23.70" height="23.69" fill="#c2d9f1"/>
<rect x="1288.58" y="514.26" width="23.70" height="23.69" fill="#bed6f0"/>
<rect x="1311.98" y="514.26" width="23.70" height="23.69" fill="#99bfe5"/>
<rect x="1335.37" y="514.26" width="23.70" height="23.69" fill="#88b5e0"/>
<rect x="1358.77" y="514.26" width="23.70" height="23.69" fill="#bfd7f0"/>
<rect x="1382.16" y="514.26" width="23.70" height="23.69" fill="#a9caea"/>
<rect x="1405.56" y="514.26" width="23.70" height="23.69" fill="#99bfe5"/>
<rect x="1428.96" y="514.26" width="23.70" height="23.69" fill="#83b2df"/>
<rect x="1452.35" y="514.26" width="23.70" height="23.69" fill="#a5c6e9"/>
<rect x="1475.75" y="514.26" width="23.70" height="23.69" fill="#88b5e0"/>
<rect x="1499.14" y="514.26" width="23.70" height="23.69" fill="#83b2df"/>
<rect x="1522.54" y="514.26" width="23.70" height="23.69" fill="#81b0de"/>
<rect x="1545.94" y="514.26" width="23.70" height="23.69" fill="#7aacdc"/>
<rect x="1569.33" y="514.26" width="23.70" height="23.69" fill="#77aadb"/>
<rect x="1592.73" y="514.26" width="23.70" height="23.69" fill="#75a9da"/>
<rect x="1616.12" y="514.26" width="23.70" height="23.69" fill="#8fb9e2"/>
<rect x="1639.52" y="514.26" width="23.70" height="23.69" fill="#c0d7f0"/>
<rect x="1662.92" y="514.26" width="23.70" height="23.69" fill="#bcd5ef"/>
<rect x="1686.31" y="514.26" width="23.70" height="23.69" fill="#aacaea"/>
<rect x="1709.71" y="514.26" width="23.70" height="23.69" fill="#aeccec"/>
<rect x="1733.10" y="514.26" width="23.70" height="23.69" fill="#e8f0fa"/>
<rect x="1171.60" y="537.65" width="23.70" height="23.69" fill="#c7dcf2"/>
<rect x="1195.00" y="537.65" width="23.70" height="23.69" fill="#bbd4ef"/>
<rect x="1218.39" y="537.65" width="23.70" height="23.69" fill="#adcceb"/>
<rect x="1241.79" y="537.65" width="23.70" height="23.69" fill="#bed6f0"/>
<rect x="1265.18" y="537.65" width="23.70" height="23.69" fill="#bdd5f0"/>
<rect x="1288.58" y="537.65" width="23.70" height="23.69" fill="#b8d3ee"/>
<rect x="1311.98" y="537.65" width="23.70" height="23.69" fill="#91bae3"/>
<rect x="1335.37" y="537.65" width="23.70" height="23.69" fill="#80b0de"/>
<rect x="1358.77" y="537.65" width="23.70" height="23.69" fill="#b9d3ef"/>
<rect x="1382.16" y="537.65" width="23.70" height="23.69" fill="#a3c5e8"/>
<rect x="1405.56" y="537.65" width="23.70" height="23.69" fill="#91bae3"/>
<rect x="1428.96" y="537.65" width="23.70" height="23.69" fill="#7bacdc"/>
<rect x="1452.35" y="537.65" width="23.70" height="23.69" fill="#9ec2e7"/>
<rect x="1475.75" y="537.65" width="23.70" height="23.69" fill="#80b0de"/>
<rect x="1499.14" y="537.65" width="23.70" height="23.69" fill="#7bacdc"/>
<rect x="1522.54" y="537.65" width="23.70" height="23.69" fill="#78abdb"/>
<rect x="1545.94" y="537.65" width="23.70" height="23.69" fill="#71a6d9"/>
<rect x="1569.33" y="537.65" width="23.70" height="23.69" fill="#6ea5d8"/>
<rect x="1592.73" y="537.65" width="23.70" height="23.69" fill="#6ca3d8"/>
<rect x="1616.12" y="537.65" width="23.70" height="23.69" fill="#87b4e0"/>
<rect x="1639.52" y="537.65" width="23.70" height="23.69" fill="#bbd5ef"/>
<rect x="1662.92" y="537.65" width="23.70" height="23.69" fill="#b6d2ee"/>
<rect x="1686.31" y="537.65" width="23.70" height="23.69" fill="#a4c6e8"/>
<rect x="1709.71" y="537.65" width="23.70" height="23.69" fill="#a8c9ea"/>
<rect x="1733.10" y="537.65" width="23.70" height="23.69" fill="#e5eef9"/>
<rect x="1171.60" y="561.04" width="23.70" height="23.69" fill="#c3d9f1"/>
<rect x="1195.00" y="561.04" width="23.70" height="23.69" fill="#b3d0ed"/>
<rect x="1218.39" y="561.04" width="23.70" height="23.69" fill="#a6c7e9"/>
<rect x="1241.79" y="561.04" width="23.70" height="23.69" fill="#b6d1ee"/>
<rect x="1265.18" y="561.04" width="23.70" height="23.69" fill="#b7d2ee"/>
<rect x="1288.58" y="561.04" width="23.70" height="23.69" fill="#b0ceec"/>
<rect x="1311.98" y="561.04" width="23.70" height="23.69" fill="#89b5e0"/>
<rect x="1335.37" y="561.04" width="23.70" height="23.69" fill="#77aadb"/>
<rect x="1358.77" y="561.04" width="23.70" height="23.69" fill="#b3cfed"/>
<rect x="1382.16" y="561.04" width="23.70" height="23.69" fill="#9bc1e6"/>
<rect x="1405.56" y="561.04" width="23.70" height="23.69" fill="#89b5e0"/>
<rect x="1428.96" y="561.04" width="23.70" height="23.69" fill="#72a7d9"/>
<rect x="1452.35" y="561.04" width="23.70" height="23.69" fill="#96bde4"/>
<rect x="1475.75" y="561.04" width="23.70" height="23.69" fill="#77aadb"/>
<rect x="1499.14" y="561.04" width="23.70" height="23.69" fill="#72a7d9"/>
<rect x="1522.54" y="561.04" width="23.70" height="23.69" fill="#6fa5d9"/>
<rect x="1545.94" y="561.04" width="23.70" height="23.69" fill="#69a1d7"/>
<rect x="1569.33" y="561.04" width="23.70" height="23.69" fill="#67a0d6"/>
<rect x="1592.73" y="561.04" width="23.70" height="23.69" fill="#659fd5"/>
<rect x="1616.12" y="561.04" width="23.70" height="23.69" fill="#7fafdd"/>
<rect x="1639.52" y="561.04" width="23.70" height="23.69" fill="#b7d2ee"/>
<rect x="1662.92" y="561.04" width="23.70" height="23.69" fill="#b0cdec"/>
<rect x="1686.31" y="561.04" width="23.70" height="23.69" fill="#9dc2e6"/>
<rect x="1709.71" y="561.04" width="23.70" height="23.69" fill="#a0c4e7"/>
<rect x="1733.10" y="561.04" width="23.70" height="23.69" fill="#e1ecf8"/>
<rect x="1171.60" y="584.42" width="23.70" height="23.69" fill="#bcd5ef"/>
<rect x="1195.00" y="584.42" width="23.70" height="23.69" fill="#a7c8ea"/>
<rect x="1218.39" y="584.42" width="23.70" height="23.69" fill="#9ac0e5"/>
<rect x="1241.79" y="584.42" width="23.70" height="23.69" fill="#aacaea"/>
<rect x="1265.18" y="584.42" width="23.70" height="23.69" fill="#adccec"/>
<rect x="1288.58" y="584.42" width="23.70" height="23.69" fill="#a4c6e9"/>
<rect x="1311.98" y="584.42" width="23.70" height="23.69" fill="#7daedd"/>
<rect x="1335.37" y="584.42" width="23.70" height="23.69" fill="#6ba3d7"/>
<rect x="1358.77" y="584.42" width="23.70" height="23.69" fill="#a9c9ea"/>
<rect x="1382.16" y="584.42" width="23.70" height="23.69" fill="#8fb9e2"/>
<rect x="1405.56" y="584.42" width="23.70" height="23.69" fill="#7daedd"/>
<rect x="1428.96" y="584.42" width="23.70" height="23.69" fill="#67a0d6"/>
<rect x="1452.35" y="584.42" width="23.70" height="23.69" fill="#8ab6e0"/>
<rect x="1475.75" y="584.42" width="23.70" height="23.69" fill="#6ba3d7"/>
<rect x="1499.14" y="584.42" width="23.70" height="23.69" fill="#67a0d6"/>
<rect x="1522.54" y="584.42" width="23.70" height="23.69" fill="#659fd5"/>
<rect x="1545.94" y="584.42" width="23.70" height="23.69" fill="#609bd3"/>
<rect x="1569.33" y="584.42" width="23.70" height="23.69" fill="#5e99d3"/>
<rect x="1592.73" y="584.42" width="23.70" height="23.69" fill="#5c98d2"/>
<rect x="1616.12" y="584.42" width="23.70" height="23.69" fill="#72a7da"/>
<rect x="1639.52" y="584.42" width="23.70" height="23.69" fill="#b0ceec"/>
<rect x="1662.92" y="584.42" width="23.70" height="23.69" fill="#a6c7e9"/>
<rect x="1686.31" y="584.42" width="23.70" height="23.69" fill="#92bbe3"/>
<rect x="1709.71" y="584.42" width="23.70" height="23.69" fill="#94bce4"/>
<rect x="1733.10" y="584.42" width="23.70" height="23.69" fill="#dae7f7"/>
<rect x="1171.60" y="607.81" width="23.70" height="23.69" fill="#d6e5f6"/>
<rect x="1195.00" y="607.81" width="23.70" height="23.69" fill="#d0e1f4"/>
<rect x="1218.39" y="607.81" width="23.70" height="23.69" fill="#c6dbf2"/>
<rect x="1241.79" y="607.81" width="23.70" height="23.69" fill="#d2e3f5"/>
<rect x="1265.18" y="607.81" width="23.70" height="23.69" fill="#d0e1f4"/>
<rect x="1288.58" y="607.81" width="23.70" height="23.69" fill="#cee0f4"/>
<rect x="1311.98" y="607.81" width="23.70" height="23.69" fill="#aecdec"/>
<rect x="1335.37" y="607.81" width="23.70" height="23.69" fill="#a1c4e8"/>
<rect x="1358.77" y="607.81" width="23.70" height="23.69" fill="#cee0f4"/>
<rect x="1382.16" y="607.81" width="23.70" height="23.69" fill="#bdd6f0"/>
<rect x="1405.56" y="607.81" width="23.70" height="23.69" fill="#aecdec"/>
<rect x="1428.96" y="607.81" width="23.70" height="23.69" fill="#9ec2e7"/>
<rect x="1452.35" y="607.81" width="23.70" height="23.69" fill="#b9d3ef"/>
<rect x="1475.75" y="607.81" width="23.70" height="23.69" fill="#a1c4e8"/>
<rect x="1499.14" y="607.81" width="23.70" height="23.69" fill="#9ec2e7"/>
<rect x="1522.54" y="607.81" width="23.70" height="23.69" fill="#9cc1e6"/>
<rect x="1545.94" y="607.81" width="23.70" height="23.69" fill="#96bee4"/>
<rect x="1569.33" y="607.81" width="23.70" height="23.69" fill="#94bce4"/>
<rect x="1592.73" y="607.81" width="23.70" height="23.69" fill="#92bbe3"/>
<rect x="1616.12" y="607.81" width="23.70" height="23.69" fill="#a7c8ea"/>
<rect x="1639.52" y="607.81" width="23.70" height="23.69" fill="#cee0f4"/>
<rect x="1662.92" y="607.81" width="23.70" height="23.69" fill="#ccdff3"/>
<rect x="1686.31" y="607.81" width="23.70" height="23.69" fill="#bdd6f0"/>
<rect x="1709.71" y="607.81" width="23.70" height="23.69" fill="#c1d8f1"/>
<rect x="1733.10" y="607.81" width="23.70" height="23.69" fill="#eff4fc"/>
<path d="M1171.10 46.50H1757.00M1171.10 69.89H1757.00M1171.10 93.28H1757.00M1171.10 116.66H1757.00M1171.10 140.05H1757.00M1171.10 163.44H1757.00M1171.10 186.83H1757.00M1171.10 210.22H1757.00M1171.10 233.60H1757.00M1171.10 256.99H1757.00M1171.10 280.38H1757.00M1171.10 303.77H1757.00M1171.10 327.16H1757.00M1171.10 350.54H1757.00M1171.10 373.93H1757.00M1171.10 397.32H1757.00M1171.10 420.71H1757.00M1171.10 444.10H1757.00M1171.10 467.48H1757.00M1171.10 490.87H1757.00M1171.10 514.26H1757.00M1171.10 537.65H1757.00M1171.10 561.04H1757.00M1171.10 584.42H1757.00M1171.10 607.81H1757.00M1171.10 631.20H1757.00M1171.60 46.00V631.70M1195.00 46.00V631.70M1218.39 46.00V631.70M1241.79 46.00V631.70M1265.18 46.00V631.70M1288.58 46.00V631.70M1311.98 46.00V631.70M1335.37 46.00V631.70M1358.77 46.00V631.70M1382.16 46.00V631.70M1405.56 46.00V631.70M1428.96 46.00V631.70M1452.35 46.00V631.70M1475.75 46.00V631.70M1499.14 46.00V631.70M1522.54 46.00V631.70M1545.94 46.00V631.70M1569.33 46.00V631.70M1592.73 46.00V631.70M1616.12 46.00V631.70M1639.52 46.00V631.70M1662.92 46.00V631.70M1686.31 46.00V631.70M1709.71 46.00V631.70M1733.10 46.00V631.70M1756.50 46.00V631.70" stroke="#2b2b2b" stroke-width="1.00" fill="none"/>
<text transform="translate(1160.20 65.30)" x="-100.30" y="0" font-size="20.30" fill="#231f20" textLength="100.30" lengthAdjust="spacingAndGlyphs">CD4_naive</text>
<text transform="translate(1160.20 88.78)" x="-129.20" y="0" font-size="20.30" fill="#231f20" textLength="129.20" lengthAdjust="spacingAndGlyphs">CD4_memory</text>
<text transform="translate(1160.20 112.25)" x="-67.80" y="0" font-size="20.30" fill="#231f20" textLength="67.80" lengthAdjust="spacingAndGlyphs">CD4_Ef</text>
<text transform="translate(1160.20 135.73)" x="-43.10" y="0" font-size="20.30" fill="#231f20" textLength="43.10" lengthAdjust="spacingAndGlyphs">Treg</text>
<text transform="translate(1160.20 159.21)" x="-100.30" y="0" font-size="20.30" fill="#231f20" textLength="100.30" lengthAdjust="spacingAndGlyphs">CD8_naive</text>
<text transform="translate(1160.20 182.69)" x="-129.20" y="0" font-size="20.30" fill="#231f20" textLength="129.20" lengthAdjust="spacingAndGlyphs">CD8_memory</text>
<text transform="translate(1160.20 206.16)" x="-67.80" y="0" font-size="20.30" fill="#231f20" textLength="67.80" lengthAdjust="spacingAndGlyphs">CD8_Ef</text>
<text transform="translate(1160.20 229.64)" x="-37.70" y="0" font-size="20.30" fill="#231f20" textLength="37.70" lengthAdjust="spacingAndGlyphs">NKT</text>
<text transform="translate(1160.20 253.12)" x="-47.60" y="0" font-size="20.30" fill="#231f20" textLength="47.60" lengthAdjust="spacingAndGlyphs">MAIT</text>
<text transform="translate(1160.20 276.59)" x="-36.40" y="0" font-size="20.30" fill="#231f20" textLength="36.40" lengthAdjust="spacingAndGlyphs">gdT</text>
<text transform="translate(1160.20 300.07)" x="-47.30" y="0" font-size="20.30" fill="#231f20" textLength="47.30" lengthAdjust="spacingAndGlyphs">Pro T</text>
<text transform="translate(1160.20 323.55)" x="-26.10" y="0" font-size="20.30" fill="#231f20" textLength="26.10" lengthAdjust="spacingAndGlyphs">NK</text>
<text transform="translate(1160.20 335.62)" x="-35.60" y="0" font-size="13.00" fill="#231f20" textLength="35.60" lengthAdjust="spacingAndGlyphs">bright</text>
<text transform="translate(1122.80 347.02)" x="-88.00" y="0" font-size="20.30" fill="#231f20" textLength="88.00" lengthAdjust="spacingAndGlyphs">NK_CD56</text>
<text transform="translate(1160.20 370.50)" x="-136.50" y="0" font-size="20.30" fill="#231f20" textLength="136.50" lengthAdjust="spacingAndGlyphs">cMono_S100A</text>
<text transform="translate(1160.20 393.98)" x="-111.30" y="0" font-size="20.30" fill="#231f20" textLength="111.30" lengthAdjust="spacingAndGlyphs">cMono_IL1B</text>
<text transform="translate(1160.20 417.46)" x="-127.10" y="0" font-size="20.30" fill="#231f20" textLength="127.10" lengthAdjust="spacingAndGlyphs">cMono_CCL3</text>
<text transform="translate(1160.20 440.93)" x="-78.40" y="0" font-size="20.30" fill="#231f20" textLength="78.40" lengthAdjust="spacingAndGlyphs">intMono</text>
<text transform="translate(1160.20 464.41)" x="-77.70" y="0" font-size="20.30" fill="#231f20" textLength="77.70" lengthAdjust="spacingAndGlyphs">ncMono</text>
<text transform="translate(1160.20 487.89)" x="-40.00" y="0" font-size="20.30" fill="#231f20" textLength="40.00" lengthAdjust="spacingAndGlyphs">cDC</text>
<text transform="translate(1160.20 511.36)" x="-40.50" y="0" font-size="20.30" fill="#231f20" textLength="40.50" lengthAdjust="spacingAndGlyphs">pDC</text>
<text transform="translate(1160.20 534.84)" x="-71.00" y="0" font-size="20.30" fill="#231f20" textLength="71.00" lengthAdjust="spacingAndGlyphs">B_naive</text>
<text transform="translate(1160.20 558.32)" x="-100.00" y="0" font-size="20.30" fill="#231f20" textLength="100.00" lengthAdjust="spacingAndGlyphs">B_memory</text>
<text transform="translate(1160.20 581.79)" x="-109.00" y="0" font-size="20.30" fill="#231f20" textLength="109.00" lengthAdjust="spacingAndGlyphs">B_activated</text>
<text transform="translate(1160.20 605.27)" x="-89.20" y="0" font-size="20.30" fill="#231f20" textLength="89.20" lengthAdjust="spacingAndGlyphs">B_plasma</text>
<text transform="translate(1160.20 628.75)" x="-71.30" y="0" font-size="20.30" fill="#231f20" textLength="71.30" lengthAdjust="spacingAndGlyphs">Platelet</text>
<text transform="translate(1189.00 643.40) rotate(-90)" x="-100.30" y="0" font-size="20.30" fill="#231f20" textLength="100.30" lengthAdjust="spacingAndGlyphs">CD4_naive</text>
<text transform="translate(1212.51 643.40) rotate(-90)" x="-129.20" y="0" font-size="20.30" fill="#231f20" textLength="129.20" lengthAdjust="spacingAndGlyphs">CD4_memory</text>
<text transform="translate(1236.02 643.40) rotate(-90)" x="-67.80" y="0" font-size="20.30" fill="#231f20" textLength="67.80" lengthAdjust="spacingAndGlyphs">CD4_Ef</text>
<text transform="translate(1259.53 643.40) rotate(-90)" x="-43.10" y="0" font-size="20.30" fill="#231f20" textLength="43.10" lengthAdjust="spacingAndGlyphs">Treg</text>
<text transform="translate(1283.04 643.40) rotate(-90)" x="-100.30" y="0" font-size="20.30" fill="#231f20" textLength="100.30" lengthAdjust="spacingAndGlyphs">CD8_naive</text>
<text transform="translate(1306.55 643.40) rotate(-90)" x="-129.20" y="0" font-size="20.30" fill="#231f20" textLength="129.20" lengthAdjust="spacingAndGlyphs">CD8_memory</text>
<text transform="translate(1330.06 643.40) rotate(-90)" x="-67.80" y="0" font-size="20.30" fill="#231f20" textLength="67.80" lengthAdjust="spacingAndGlyphs">CD8_Ef</text>
<text transform="translate(1353.57 643.40) rotate(-90)" x="-37.70" y="0" font-size="20.30" fill="#231f20" textLength="37.70" lengthAdjust="spacingAndGlyphs">NKT</text>
<text transform="translate(1377.08 643.40) rotate(-90)" x="-47.60" y="0" font-size="20.30" fill="#231f20" textLength="47.60" lengthAdjust="spacingAndGlyphs">MAIT</text>
<text transform="translate(1400.59 643.40) rotate(-90)" x="-36.40" y="0" font-size="20.30" fill="#231f20" textLength="36.40" lengthAdjust="spacingAndGlyphs">gdT</text>
<text transform="translate(1424.10 643.40) rotate(-90)" x="-47.30" y="0" font-size="20.30" fill="#231f20" textLength="47.30" lengthAdjust="spacingAndGlyphs">Pro T</text>
<text transform="translate(1447.61 643.40) rotate(-90)" x="-26.10" y="0" font-size="20.30" fill="#231f20" textLength="26.10" lengthAdjust="spacingAndGlyphs">NK</text>
<text transform="translate(1459.72 643.40) rotate(-90)" x="-35.60" y="0" font-size="13.00" fill="#231f20" textLength="35.60" lengthAdjust="spacingAndGlyphs">bright</text>
<text transform="translate(1471.12 680.80) rotate(-90)" x="-88.00" y="0" font-size="20.30" fill="#231f20" textLength="88.00" lengthAdjust="spacingAndGlyphs">NK_CD56</text>
<text transform="translate(1494.63 643.40) rotate(-90)" x="-136.50" y="0" font-size="20.30" fill="#231f20" textLength="136.50" lengthAdjust="spacingAndGlyphs">cMono_S100A</text>
<text transform="translate(1518.14 643.40) rotate(-90)" x="-111.30" y="0" font-size="20.30" fill="#231f20" textLength="111.30" lengthAdjust="spacingAndGlyphs">cMono_IL1B</text>
<text transform="translate(1541.65 643.40) rotate(-90)" x="-127.10" y="0" font-size="20.30" fill="#231f20" textLength="127.10" lengthAdjust="spacingAndGlyphs">cMono_CCL3</text>
<text transform="translate(1565.16 643.40) rotate(-90)" x="-78.40" y="0" font-size="20.30" fill="#231f20" textLength="78.40" lengthAdjust="spacingAndGlyphs">intMono</text>
<text transform="translate(1588.67 643.40) rotate(-90)" x="-77.70" y="0" font-size="20.30" fill="#231f20" textLength="77.70" lengthAdjust="spacingAndGlyphs">ncMono</text>
<text transform="translate(1612.18 643.40) rotate(-90)" x="-40.00" y="0" font-size="20.30" fill="#231f20" textLength="40.00" lengthAdjust="spacingAndGlyphs">cDC</text>
<text transform="translate(1635.69 643.40) rotate(-90)" x="-40.50" y="0" font-size="20.30" fill="#231f20" textLength="40.50" lengthAdjust="spacingAndGlyphs">pDC</text>
<text transform="translate(1659.20 643.40) rotate(-90)" x="-71.00" y="0" font-size="20.30" fill="#231f20" textLength="71.00" lengthAdjust="spacingAndGlyphs">B_naive</text>
<text transform="translate(1682.71 643.40) rotate(-90)" x="-100.00" y="0" font-size="20.30" fill="#231f20" textLength="100.00" lengthAdjust="spacingAndGlyphs">B_memory</text>
<text transform="translate(1706.22 643.40) rotate(-90)" x="-109.00" y="0" font-size="20.30" fill="#231f20" textLength="109.00" lengthAdjust="spacingAndGlyphs">B_activated</text>
<text transform="translate(1729.73 643.40) rotate(-90)" x="-89.20" y="0" font-size="20.30" fill="#231f20" textLength="89.20" lengthAdjust="spacingAndGlyphs">B_plasma</text>
<text transform="translate(1753.24 643.40) rotate(-90)" x="-71.30" y="0" font-size="20.30" fill="#231f20" textLength="71.30" lengthAdjust="spacingAndGlyphs">Platelet</text>
<text transform="translate(1464.50 30.50)" x="-44.00" y="0" font-size="24.60" fill="#231f20" textLength="88.00" lengthAdjust="spacingAndGlyphs">Healthy</text>
<text transform="translate(1464.60 814.80)" x="-235.80" y="0" font-size="23.20" fill="#231f20" textLength="471.60" lengthAdjust="spacingAndGlyphs">Cell-type expressing receptor (receiving)</text>
<text transform="translate(1001.30 340.00) rotate(-90)" x="-214.40" y="0" font-size="23.20" fill="#231f20" textLength="428.80" lengthAdjust="spacingAndGlyphs">Cell-type expressing ligand (sending)</text>
<text transform="translate(1779.90 243.75)" x="0.00" y="0" font-size="20.30" fill="#231f20" textLength="103.00" lengthAdjust="spacingAndGlyphs">Interaction</text>
<text transform="translate(1779.90 267.90)" x="0.00" y="0" font-size="20.30" fill="#231f20" textLength="54.38" lengthAdjust="spacingAndGlyphs">count</text>
<rect x="1785.25" y="287.1" width="16.3" height="158.9" fill="url(#gb)" stroke="#2b2b2b" stroke-width="1"/>
<path d="M1785.75 326.90h3M1801.05 326.90h-3" stroke="#fff" stroke-width="1"/>
<path d="M1785.75 366.50h3M1801.05 366.50h-3" stroke="#fff" stroke-width="1"/>
<path d="M1785.75 405.60h3M1801.05 405.60h-3" stroke="#fff" stroke-width="1"/>
<text transform="translate(1812.10 294.00)" x="0.00" y="0" font-size="20.30" fill="#231f20" textLength="37.26" lengthAdjust="spacingAndGlyphs">100</text>
<text transform="translate(1812.10 333.90)" x="0.00" y="0" font-size="20.30" fill="#231f20" textLength="24.84" lengthAdjust="spacingAndGlyphs">75</text>
<text transform="translate(1812.10 373.50)" x="0.00" y="0" font-size="20.30" fill="#231f20" textLength="24.84" lengthAdjust="spacingAndGlyphs">50</text>
<text transform="translate(1812.10 412.60)" x="0.00" y="0" font-size="20.30" fill="#231f20" textLength="24.84" lengthAdjust="spacingAndGlyphs">25</text>
<text transform="translate(1812.10 451.60)" x="0.00" y="0" font-size="20.30" fill="#231f20" textLength="12.42" lengthAdjust="spacingAndGlyphs">0</text>
<rect x="190.60" y="885.30" width="23.81" height="23.79" fill="#fbd3c8"/>
<rect x="214.11" y="885.30" width="23.81" height="23.79" fill="#fde3dc"/>
<rect x="237.62" y="885.30" width="23.81" height="23.79" fill="#fbd3c8"/>
<rect x="261.12" y="885.30" width="23.81" height="23.79" fill="#fbd3c8"/>
<rect x="284.63" y="885.30" width="23.81" height="23.79" fill="#fde3dc"/>
<rect x="308.14" y="885.30" width="23.81" height="23.79" fill="#ffffff"/>
<rect x="331.65" y="885.30" width="23.81" height="23.79" fill="#f9beb0"/>
<rect x="355.16" y="885.30" width="23.81" height="23.79" fill="#f9beb0"/>
<rect x="378.66" y="885.30" width="23.81" height="23.79" fill="#fde3dc"/>
<rect x="402.17" y="885.30" width="23.81" height="23.79" fill="#fbd3c8"/>
<rect x="425.68" y="885.30" width="23.81" height="23.79" fill="#a69ccf"/>
<rect x="449.19" y="885.30" width="23.81" height="23.79" fill="#fbd3c8"/>
<rect x="472.70" y="885.30" width="23.81" height="23.79" fill="#fde3dc"/>
<rect x="496.20" y="885.30" width="23.81" height="23.79" fill="#bbb2da"/>
<rect x="519.71" y="885.30" width="23.81" height="23.79" fill="#bbb2da"/>
<rect x="543.22" y="885.30" width="23.81" height="23.79" fill="#e4deef"/>
<rect x="566.73" y="885.30" width="23.81" height="23.79" fill="#e4deef"/>
<rect x="590.24" y="885.30" width="23.81" height="23.79" fill="#a69ccf"/>
<rect x="613.74" y="885.30" width="23.81" height="23.79" fill="#bbb2da"/>
<rect x="637.25" y="885.30" width="23.81" height="23.79" fill="#a69ccf"/>
<rect x="660.76" y="885.30" width="23.81" height="23.79" fill="#fde3dc"/>
<rect x="684.27" y="885.30" width="23.81" height="23.79" fill="#f7a997"/>
<rect x="707.78" y="885.30" width="23.81" height="23.79" fill="#fef4f1"/>
<rect x="731.28" y="885.30" width="23.81" height="23.79" fill="#3154a7"/>
<rect x="754.79" y="885.30" width="23.81" height="23.79" fill="#fde3dc"/>
<rect x="190.60" y="908.79" width="23.81" height="23.79" fill="#fde3dc"/>
<rect x="214.11" y="908.79" width="23.81" height="23.79" fill="#f5f4f9"/>
<rect x="237.62" y="908.79" width="23.81" height="23.79" fill="#fde3dc"/>
<rect x="261.12" y="908.79" width="23.81" height="23.79" fill="#fde3dc"/>
<rect x="284.63" y="908.79" width="23.81" height="23.79" fill="#f5f4f9"/>
<rect x="308.14" y="908.79" width="23.81" height="23.79" fill="#e4deef"/>
<rect x="331.65" y="908.79" width="23.81" height="23.79" fill="#fbd3c8"/>
<rect x="355.16" y="908.79" width="23.81" height="23.79" fill="#fbd3c8"/>
<rect x="378.66" y="908.79" width="23.81" height="23.79" fill="#f5f4f9"/>
<rect x="402.17" y="908.79" width="23.81" height="23.79" fill="#fde3dc"/>
<rect x="425.68" y="908.79" width="23.81" height="23.79" fill="#a69ccf"/>
<rect x="449.19" y="908.79" width="23.81" height="23.79" fill="#fde3dc"/>
<rect x="472.70" y="908.79" width="23.81" height="23.79" fill="#fef4f1"/>
<rect x="496.20" y="908.79" width="23.81" height="23.79" fill="#a69ccf"/>
<rect x="519.71" y="908.79" width="23.81" height="23.79" fill="#bbb2da"/>
<rect x="543.22" y="908.79" width="23.81" height="23.79" fill="#d1c8e4"/>
<rect x="566.73" y="908.79" width="23.81" height="23.79" fill="#d1c8e4"/>
<rect x="590.24" y="908.79" width="23.81" height="23.79" fill="#a69ccf"/>
<rect x="613.74" y="908.79" width="23.81" height="23.79" fill="#a69ccf"/>
<rect x="637.25" y="908.79" width="23.81" height="23.79" fill="#a69ccf"/>
<rect x="660.76" y="908.79" width="23.81" height="23.79" fill="#f5f4f9"/>
<rect x="684.27" y="908.79" width="23.81" height="23.79" fill="#fde3dc"/>
<rect x="707.78" y="908.79" width="23.81" height="23.79" fill="#e4deef"/>
<rect x="731.28" y="908.79" width="23.81" height="23.79" fill="#3154a7"/>
<rect x="754.79" y="908.79" width="23.81" height="23.79" fill="#d1c8e4"/>
<rect x="190.60" y="932.28" width="23.81" height="23.79" fill="#fbd3c8"/>
<rect x="214.11" y="932.28" width="23.81" height="23.79" fill="#fde3dc"/>
<rect x="237.62" y="932.28" width="23.81" height="23.79" fill="#f7a997"/>
<rect x="261.12" y="932.28" width="23.81" height="23.79" fill="#fbd3c8"/>
<rect x="284.63" y="932.28" width="23.81" height="23.79" fill="#fbd3c8"/>
<rect x="308.14" y="932.28" width="23.81" height="23.79" fill="#fef4f1"/>
<rect x="331.65" y="932.28" width="23.81" height="23.79" fill="#f7a997"/>
<rect x="355.16" y="932.28" width="23.81" height="23.79" fill="#f7a997"/>
<rect x="378.66" y="932.28" width="23.81" height="23.79" fill="#fbd3c8"/>
<rect x="402.17" y="932.28" width="23.81" height="23.79" fill="#f7a997"/>
<rect x="425.68" y="932.28" width="23.81" height="23.79" fill="#d1c8e4"/>
<rect x="449.19" y="932.28" width="23.81" height="23.79" fill="#f9beb0"/>
<rect x="472.70" y="932.28" width="23.81" height="23.79" fill="#f9beb0"/>
<rect x="496.20" y="932.28" width="23.81" height="23.79" fill="#d1c8e4"/>
<rect x="519.71" y="932.28" width="23.81" height="23.79" fill="#e4deef"/>
<rect x="543.22" y="932.28" width="23.81" height="23.79" fill="#ffffff"/>
<rect x="566.73" y="932.28" width="23.81" height="23.79" fill="#ffffff"/>
<rect x="590.24" y="932.28" width="23.81" height="23.79" fill="#a69ccf"/>
<rect x="613.74" y="932.28" width="23.81" height="23.79" fill="#d1c8e4"/>
<rect x="637.25" y="932.28" width="23.81" height="23.79" fill="#d1c8e4"/>
<rect x="660.76" y="932.28" width="23.81" height="23.79" fill="#f5f4f9"/>
<rect x="684.27" y="932.28" width="23.81" height="23.79" fill="#ffffff"/>
<rect x="707.78" y="932.28" width="23.81" height="23.79" fill="#ffffff"/>
<rect x="731.28" y="932.28" width="23.81" height="23.79" fill="#5a67b4"/>
<rect x="754.79" y="932.28" width="23.81" height="23.79" fill="#d1c8e4"/>
<rect x="190.60" y="955.77" width="23.81" height="23.79" fill="#fbd3c8"/>
<rect x="214.11" y="955.77" width="23.81" height="23.79" fill="#fde3dc"/>
<rect x="237.62" y="955.77" width="23.81" height="23.79" fill="#fbd3c8"/>
<rect x="261.12" y="955.77" width="23.81" height="23.79" fill="#fbd3c8"/>
<rect x="284.63" y="955.77" width="23.81" height="23.79" fill="#fde3dc"/>
<rect x="308.14" y="955.77" width="23.81" height="23.79" fill="#f5f4f9"/>
<rect x="331.65" y="955.77" width="23.81" height="23.79" fill="#f9beb0"/>
<rect x="355.16" y="955.77" width="23.81" height="23.79" fill="#f7a997"/>
<rect x="378.66" y="955.77" width="23.81" height="23.79" fill="#fde3dc"/>
<rect x="402.17" y="955.77" width="23.81" height="23.79" fill="#fbd3c8"/>
<rect x="425.68" y="955.77" width="23.81" height="23.79" fill="#a69ccf"/>
<rect x="449.19" y="955.77" width="23.81" height="23.79" fill="#fbd3c8"/>
<rect x="472.70" y="955.77" width="23.81" height="23.79" fill="#fde3dc"/>
<rect x="496.20" y="955.77" width="23.81" height="23.79" fill="#bbb2da"/>
<rect x="519.71" y="955.77" width="23.81" height="23.79" fill="#d1c8e4"/>
<rect x="543.22" y="955.77" width="23.81" height="23.79" fill="#e4deef"/>
<rect x="566.73" y="955.77" width="23.81" height="23.79" fill="#e4deef"/>
<rect x="590.24" y="955.77" width="23.81" height="23.79" fill="#a69ccf"/>
<rect x="613.74" y="955.77" width="23.81" height="23.79" fill="#bbb2da"/>
<rect x="637.25" y="955.77" width="23.81" height="23.79" fill="#bbb2da"/>
<rect x="660.76" y="955.77" width="23.81" height="23.79" fill="#ffffff"/>
<rect x="684.27" y="955.77" width="23.81" height="23.79" fill="#fde3dc"/>
<rect x="707.78" y="955.77" width="23.81" height="23.79" fill="#e4deef"/>
<rect x="731.28" y="955.77" width="23.81" height="23.79" fill="#3154a7"/>
<rect x="754.79" y="955.77" width="23.81" height="23.79" fill="#ffffff"/>
<rect x="190.60" y="979.26" width="23.81" height="23.79" fill="#f9beb0"/>
<rect x="214.11" y="979.26" width="23.81" height="23.79" fill="#fef4f1"/>
<rect x="237.62" y="979.26" width="23.81" height="23.79" fill="#fbd3c8"/>
<rect x="261.12" y="979.26" width="23.81" height="23.79" fill="#fbd3c8"/>
<rect x="284.63" y="979.26" width="23.81" height="23.79" fill="#fde3dc"/>
<rect x="308.14" y="979.26" width="23.81" height="23.79" fill="#f5f4f9"/>
<rect x="331.65" y="979.26" width="23.81" height="23.79" fill="#f9beb0"/>
<rect x="355.16" y="979.26" width="23.81" height="23.79" fill="#f9beb0"/>
<rect x="378.66" y="979.26" width="23.81" height="23.79" fill="#ffffff"/>
<rect x="402.17" y="979.26" width="23.81" height="23.79" fill="#fbd3c8"/>
<rect x="425.68" y="979.26" width="23.81" height="23.79" fill="#bbb2da"/>
<rect x="449.19" y="979.26" width="23.81" height="23.79" fill="#fbd3c8"/>
<rect x="472.70" y="979.26" width="23.81" height="23.79" fill="#fbd3c8"/>
<rect x="496.20" y="979.26" width="23.81" height="23.79" fill="#bbb2da"/>
<rect x="519.71" y="979.26" width="23.81" height="23.79" fill="#d1c8e4"/>
<rect x="543.22" y="979.26" width="23.81" height="23.79" fill="#e4deef"/>
<rect x="566.73" y="979.26" width="23.81" height="23.79" fill="#e4deef"/>
<rect x="590.24" y="979.26" width="23.81" height="23.79" fill="#a69ccf"/>
<rect x="613.74" y="979.26" width="23.81" height="23.79" fill="#bbb2da"/>
<rect x="637.25" y="979.26" width="23.81" height="23.79" fill="#bbb2da"/>
<rect x="660.76" y="979.26" width="23.81" height="23.79" fill="#ffffff"/>
<rect x="684.27" y="979.26" width="23.81" height="23.79" fill="#fde3dc"/>
<rect x="707.78" y="979.26" width="23.81" height="23.79" fill="#e4deef"/>
<rect x="731.28" y="979.26" width="23.81" height="23.79" fill="#3154a7"/>
<rect x="754.79" y="979.26" width="23.81" height="23.79" fill="#e4deef"/>
<rect x="190.60" y="1002.75" width="23.81" height="23.79" fill="#fde3dc"/>
<rect x="214.11" y="1002.75" width="23.81" height="23.79" fill="#e4deef"/>
<rect x="237.62" y="1002.75" width="23.81" height="23.79" fill="#fde3dc"/>
<rect x="261.12" y="1002.75" width="23.81" height="23.79" fill="#fef4f1"/>
<rect x="284.63" y="1002.75" width="23.81" height="23.79" fill="#f5f4f9"/>
<rect x="308.14" y="1002.75" width="23.81" height="23.79" fill="#e4deef"/>
<rect x="331.65" y="1002.75" width="23.81" height="23.79" fill="#fde3dc"/>
<rect x="355.16" y="1002.75" width="23.81" height="23.79" fill="#fde3dc"/>
<rect x="378.66" y="1002.75" width="23.81" height="23.79" fill="#e4deef"/>
<rect x="402.17" y="1002.75" width="23.81" height="23.79" fill="#fef4f1"/>
<rect x="425.68" y="1002.75" width="23.81" height="23.79" fill="#a69ccf"/>
<rect x="449.19" y="1002.75" width="23.81" height="23.79" fill="#fef4f1"/>
<rect x="472.70" y="1002.75" width="23.81" height="23.79" fill="#f5f4f9"/>
<rect x="496.20" y="1002.75" width="23.81" height="23.79" fill="#a69ccf"/>
<rect x="519.71" y="1002.75" width="23.81" height="23.79" fill="#a69ccf"/>
<rect x="543.22" y="1002.75" width="23.81" height="23.79" fill="#d1c8e4"/>
<rect x="566.73" y="1002.75" width="23.81" height="23.79" fill="#d1c8e4"/>
<rect x="590.24" y="1002.75" width="23.81" height="23.79" fill="#8782c3"/>
<rect x="613.74" y="1002.75" width="23.81" height="23.79" fill="#a69ccf"/>
<rect x="637.25" y="1002.75" width="23.81" height="23.79" fill="#a69ccf"/>
<rect x="660.76" y="1002.75" width="23.81" height="23.79" fill="#e4deef"/>
<rect x="684.27" y="1002.75" width="23.81" height="23.79" fill="#ffffff"/>
<rect x="707.78" y="1002.75" width="23.81" height="23.79" fill="#d1c8e4"/>
<rect x="731.28" y="1002.75" width="23.81" height="23.79" fill="#3154a7"/>
<rect x="754.79" y="1002.75" width="23.81" height="23.79" fill="#bbb2da"/>
<rect x="190.60" y="1026.24" width="23.81" height="23.79" fill="#fef4f1"/>
<rect x="214.11" y="1026.24" width="23.81" height="23.79" fill="#e4deef"/>
<rect x="237.62" y="1026.24" width="23.81" height="23.79" fill="#fde3dc"/>
<rect x="261.12" y="1026.24" width="23.81" height="23.79" fill="#fef4f1"/>
<rect x="284.63" y="1026.24" width="23.81" height="23.79" fill="#f5f4f9"/>
<rect x="308.14" y="1026.24" width="23.81" height="23.79" fill="#e4deef"/>
<rect x="331.65" y="1026.24" width="23.81" height="23.79" fill="#fde3dc"/>
<rect x="355.16" y="1026.24" width="23.81" height="23.79" fill="#fbd3c8"/>
<rect x="378.66" y="1026.24" width="23.81" height="23.79" fill="#f5f4f9"/>
<rect x="402.17" y="1026.24" width="23.81" height="23.79" fill="#fde3dc"/>
<rect x="425.68" y="1026.24" width="23.81" height="23.79" fill="#bbb2da"/>
<rect x="449.19" y="1026.24" width="23.81" height="23.79" fill="#fde3dc"/>
<rect x="472.70" y="1026.24" width="23.81" height="23.79" fill="#fde3dc"/>
<rect x="496.20" y="1026.24" width="23.81" height="23.79" fill="#bbb2da"/>
<rect x="519.71" y="1026.24" width="23.81" height="23.79" fill="#bbb2da"/>
<rect x="543.22" y="1026.24" width="23.81" height="23.79" fill="#d1c8e4"/>
<rect x="566.73" y="1026.24" width="23.81" height="23.79" fill="#e4deef"/>
<rect x="590.24" y="1026.24" width="23.81" height="23.79" fill="#8782c3"/>
<rect x="613.74" y="1026.24" width="23.81" height="23.79" fill="#bbb2da"/>
<rect x="637.25" y="1026.24" width="23.81" height="23.79" fill="#bbb2da"/>
<rect x="660.76" y="1026.24" width="23.81" height="23.79" fill="#e4deef"/>
<rect x="684.27" y="1026.24" width="23.81" height="23.79" fill="#f5f4f9"/>
<rect x="707.78" y="1026.24" width="23.81" height="23.79" fill="#f5f4f9"/>
<rect x="731.28" y="1026.24" width="23.81" height="23.79" fill="#3154a7"/>
<rect x="754.79" y="1026.24" width="23.81" height="23.79" fill="#a69ccf"/>
<rect x="190.60" y="1049.73" width="23.81" height="23.79" fill="#fef4f1"/>
<rect x="214.11" y="1049.73" width="23.81" height="23.79" fill="#f5f4f9"/>
<rect x="237.62" y="1049.73" width="23.81" height="23.79" fill="#fde3dc"/>
<rect x="261.12" y="1049.73" width="23.81" height="23.79" fill="#fde3dc"/>
<rect x="284.63" y="1049.73" width="23.81" height="23.79" fill="#ffffff"/>
<rect x="308.14" y="1049.73" width="23.81" height="23.79" fill="#e4deef"/>
<rect x="331.65" y="1049.73" width="23.81" height="23.79" fill="#fde3dc"/>
<rect x="355.16" y="1049.73" width="23.81" height="23.79" fill="#fde3dc"/>
<rect x="378.66" y="1049.73" width="23.81" height="23.79" fill="#fde3dc"/>
<rect x="402.17" y="1049.73" width="23.81" height="23.79" fill="#fde3dc"/>
<rect x="425.68" y="1049.73" width="23.81" height="23.79" fill="#a69ccf"/>
<rect x="449.19" y="1049.73" width="23.81" height="23.79" fill="#fef4f1"/>
<rect x="472.70" y="1049.73" width="23.81" height="23.79" fill="#fef4f1"/>
<rect x="496.20" y="1049.73" width="23.81" height="23.79" fill="#bbb2da"/>
<rect x="519.71" y="1049.73" width="23.81" height="23.79" fill="#d1c8e4"/>
<rect x="543.22" y="1049.73" width="23.81" height="23.79" fill="#e4deef"/>
<rect x="566.73" y="1049.73" width="23.81" height="23.79" fill="#e4deef"/>
<rect x="590.24" y="1049.73" width="23.81" height="23.79" fill="#8782c3"/>
<rect x="613.74" y="1049.73" width="23.81" height="23.79" fill="#bbb2da"/>
<rect x="637.25" y="1049.73" width="23.81" height="23.79" fill="#bbb2da"/>
<rect x="660.76" y="1049.73" width="23.81" height="23.79" fill="#e4deef"/>
<rect x="684.27" y="1049.73" width="23.81" height="23.79" fill="#fef4f1"/>
<rect x="707.78" y="1049.73" width="23.81" height="23.79" fill="#f5f4f9"/>
<rect x="731.28" y="1049.73" width="23.81" height="23.79" fill="#3154a7"/>
<rect x="754.79" y="1049.73" width="23.81" height="23.79" fill="#e4deef"/>
<rect x="190.60" y="1073.22" width="23.81" height="23.79" fill="#ffffff"/>
<rect x="214.11" y="1073.22" width="23.81" height="23.79" fill="#e4deef"/>
<rect x="237.62" y="1073.22" width="23.81" height="23.79" fill="#fde3dc"/>
<rect x="261.12" y="1073.22" width="23.81" height="23.79" fill="#f5f4f9"/>
<rect x="284.63" y="1073.22" width="23.81" height="23.79" fill="#e4deef"/>
<rect x="308.14" y="1073.22" width="23.81" height="23.79" fill="#d1c8e4"/>
<rect x="331.65" y="1073.22" width="23.81" height="23.79" fill="#fde3dc"/>
<rect x="355.16" y="1073.22" width="23.81" height="23.79" fill="#fbd3c8"/>
<rect x="378.66" y="1073.22" width="23.81" height="23.79" fill="#fde3dc"/>
<rect x="402.17" y="1073.22" width="23.81" height="23.79" fill="#fde3dc"/>
<rect x="425.68" y="1073.22" width="23.81" height="23.79" fill="#a69ccf"/>
<rect x="449.19" y="1073.22" width="23.81" height="23.79" fill="#fde3dc"/>
<rect x="472.70" y="1073.22" width="23.81" height="23.79" fill="#fef4f1"/>
<rect x="496.20" y="1073.22" width="23.81" height="23.79" fill="#a69ccf"/>
<rect x="519.71" y="1073.22" width="23.81" height="23.79" fill="#bbb2da"/>
<rect x="543.22" y="1073.22" width="23.81" height="23.79" fill="#d1c8e4"/>
<rect x="566.73" y="1073.22" width="23.81" height="23.79" fill="#d1c8e4"/>
<rect x="590.24" y="1073.22" width="23.81" height="23.79" fill="#8782c3"/>
<rect x="613.74" y="1073.22" width="23.81" height="23.79" fill="#8782c3"/>
<rect x="637.25" y="1073.22" width="23.81" height="23.79" fill="#8782c3"/>
<rect x="660.76" y="1073.22" width="23.81" height="23.79" fill="#d1c8e4"/>
<rect x="684.27" y="1073.22" width="23.81" height="23.79" fill="#e4deef"/>
<rect x="707.78" y="1073.22" width="23.81" height="23.79" fill="#bbb2da"/>
<rect x="731.28" y="1073.22" width="23.81" height="23.79" fill="#3154a7"/>
<rect x="754.79" y="1073.22" width="23.81" height="23.79" fill="#bbb2da"/>
<rect x="190.60" y="1096.71" width="23.81" height="23.79" fill="#fef4f1"/>
<rect x="214.11" y="1096.71" width="23.81" height="23.79" fill="#e4deef"/>
<rect x="237.62" y="1096.71" width="23.81" height="23.79" fill="#fef4f1"/>
<rect x="261.12" y="1096.71" width="23.81" height="23.79" fill="#fef4f1"/>
<rect x="284.63" y="1096.71" width="23.81" height="23.79" fill="#f5f4f9"/>
<rect x="308.14" y="1096.71" width="23.81" height="23.79" fill="#d1c8e4"/>
<rect x="331.65" y="1096.71" width="23.81" height="23.79" fill="#fde3dc"/>
<rect x="355.16" y="1096.71" width="23.81" height="23.79" fill="#fbd3c8"/>
<rect x="378.66" y="1096.71" width="23.81" height="23.79" fill="#e4deef"/>
<rect x="402.17" y="1096.71" width="23.81" height="23.79" fill="#fde3dc"/>
<rect x="425.68" y="1096.71" width="23.81" height="23.79" fill="#a69ccf"/>
<rect x="449.19" y="1096.71" width="23.81" height="23.79" fill="#fde3dc"/>
<rect x="472.70" y="1096.71" width="23.81" height="23.79" fill="#fef4f1"/>
<rect x="496.20" y="1096.71" width="23.81" height="23.79" fill="#bbb2da"/>
<rect x="519.71" y="1096.71" width="23.81" height="23.79" fill="#bbb2da"/>
<rect x="543.22" y="1096.71" width="23.81" height="23.79" fill="#d1c8e4"/>
<rect x="566.73" y="1096.71" width="23.81" height="23.79" fill="#e4deef"/>
<rect x="590.24" y="1096.71" width="23.81" height="23.79" fill="#8782c3"/>
<rect x="613.74" y="1096.71" width="23.81" height="23.79" fill="#bbb2da"/>
<rect x="637.25" y="1096.71" width="23.81" height="23.79" fill="#a69ccf"/>
<rect x="660.76" y="1096.71" width="23.81" height="23.79" fill="#f5f4f9"/>
<rect x="684.27" y="1096.71" width="23.81" height="23.79" fill="#fef4f1"/>
<rect x="707.78" y="1096.71" width="23.81" height="23.79" fill="#f5f4f9"/>
<rect x="731.28" y="1096.71" width="23.81" height="23.79" fill="#3154a7"/>
<rect x="754.79" y="1096.71" width="23.81" height="23.79" fill="#d1c8e4"/>
<rect x="190.60" y="1120.20" width="23.81" height="23.79" fill="#fbd3c8"/>
<rect x="214.11" y="1120.20" width="23.81" height="23.79" fill="#f5f4f9"/>
<rect x="237.62" y="1120.20" width="23.81" height="23.79" fill="#fde3dc"/>
<rect x="261.12" y="1120.20" width="23.81" height="23.79" fill="#fef4f1"/>
<rect x="284.63" y="1120.20" width="23.81" height="23.79" fill="#ffffff"/>
<rect x="308.14" y="1120.20" width="23.81" height="23.79" fill="#e4deef"/>
<rect x="331.65" y="1120.20" width="23.81" height="23.79" fill="#f5f4f9"/>
<rect x="355.16" y="1120.20" width="23.81" height="23.79" fill="#e4deef"/>
<rect x="378.66" y="1120.20" width="23.81" height="23.79" fill="#ffffff"/>
<rect x="402.17" y="1120.20" width="23.81" height="23.79" fill="#f5f4f9"/>
<rect x="425.68" y="1120.20" width="23.81" height="23.79" fill="#8782c3"/>
<rect x="449.19" y="1120.20" width="23.81" height="23.79" fill="#e4deef"/>
<rect x="472.70" y="1120.20" width="23.81" height="23.79" fill="#d1c8e4"/>
<rect x="496.20" y="1120.20" width="23.81" height="23.79" fill="#a69ccf"/>
<rect x="519.71" y="1120.20" width="23.81" height="23.79" fill="#8782c3"/>
<rect x="543.22" y="1120.20" width="23.81" height="23.79" fill="#bbb2da"/>
<rect x="566.73" y="1120.20" width="23.81" height="23.79" fill="#bbb2da"/>
<rect x="590.24" y="1120.20" width="23.81" height="23.79" fill="#8782c3"/>
<rect x="613.74" y="1120.20" width="23.81" height="23.79" fill="#8782c3"/>
<rect x="637.25" y="1120.20" width="23.81" height="23.79" fill="#8782c3"/>
<rect x="660.76" y="1120.20" width="23.81" height="23.79" fill="#fbd3c8"/>
<rect x="684.27" y="1120.20" width="23.81" height="23.79" fill="#fbd3c8"/>
<rect x="707.78" y="1120.20" width="23.81" height="23.79" fill="#fef4f1"/>
<rect x="731.28" y="1120.20" width="23.81" height="23.79" fill="#3154a7"/>
<rect x="754.79" y="1120.20" width="23.81" height="23.79" fill="#d1c8e4"/>
<rect x="190.60" y="1143.69" width="23.81" height="23.79" fill="#f5f4f9"/>
<rect x="214.11" y="1143.69" width="23.81" height="23.79" fill="#e4deef"/>
<rect x="237.62" y="1143.69" width="23.81" height="23.79" fill="#ffffff"/>
<rect x="261.12" y="1143.69" width="23.81" height="23.79" fill="#ffffff"/>
<rect x="284.63" y="1143.69" width="23.81" height="23.79" fill="#e4deef"/>
<rect x="308.14" y="1143.69" width="23.81" height="23.79" fill="#d1c8e4"/>
<rect x="331.65" y="1143.69" width="23.81" height="23.79" fill="#fef4f1"/>
<rect x="355.16" y="1143.69" width="23.81" height="23.79" fill="#fbd3c8"/>
<rect x="378.66" y="1143.69" width="23.81" height="23.79" fill="#e4deef"/>
<rect x="402.17" y="1143.69" width="23.81" height="23.79" fill="#fef4f1"/>
<rect x="425.68" y="1143.69" width="23.81" height="23.79" fill="#a69ccf"/>
<rect x="449.19" y="1143.69" width="23.81" height="23.79" fill="#fde3dc"/>
<rect x="472.70" y="1143.69" width="23.81" height="23.79" fill="#ffffff"/>
<rect x="496.20" y="1143.69" width="23.81" height="23.79" fill="#bbb2da"/>
<rect x="519.71" y="1143.69" width="23.81" height="23.79" fill="#d1c8e4"/>
<rect x="543.22" y="1143.69" width="23.81" height="23.79" fill="#e4deef"/>
<rect x="566.73" y="1143.69" width="23.81" height="23.79" fill="#e4deef"/>
<rect x="590.24" y="1143.69" width="23.81" height="23.79" fill="#8782c3"/>
<rect x="613.74" y="1143.69" width="23.81" height="23.79" fill="#a69ccf"/>
<rect x="637.25" y="1143.69" width="23.81" height="23.79" fill="#a69ccf"/>
<rect x="660.76" y="1143.69" width="23.81" height="23.79" fill="#d1c8e4"/>
<rect x="684.27" y="1143.69" width="23.81" height="23.79" fill="#d1c8e4"/>
<rect x="707.78" y="1143.69" width="23.81" height="23.79" fill="#d1c8e4"/>
<rect x="731.28" y="1143.69" width="23.81" height="23.79" fill="#3154a7"/>
<rect x="754.79" y="1143.69" width="23.81" height="23.79" fill="#fde3dc"/>
<rect x="190.60" y="1167.18" width="23.81" height="23.79" fill="#ffffff"/>
<rect x="214.11" y="1167.18" width="23.81" height="23.79" fill="#d1c8e4"/>
<rect x="237.62" y="1167.18" width="23.81" height="23.79" fill="#f5f4f9"/>
<rect x="261.12" y="1167.18" width="23.81" height="23.79" fill="#f5f4f9"/>
<rect x="284.63" y="1167.18" width="23.81" height="23.79" fill="#f5f4f9"/>
<rect x="308.14" y="1167.18" width="23.81" height="23.79" fill="#d1c8e4"/>
<rect x="331.65" y="1167.18" width="23.81" height="23.79" fill="#ffffff"/>
<rect x="355.16" y="1167.18" width="23.81" height="23.79" fill="#fbd3c8"/>
<rect x="378.66" y="1167.18" width="23.81" height="23.79" fill="#e4deef"/>
<rect x="402.17" y="1167.18" width="23.81" height="23.79" fill="#f5f4f9"/>
<rect x="425.68" y="1167.18" width="23.81" height="23.79" fill="#8782c3"/>
<rect x="449.19" y="1167.18" width="23.81" height="23.79" fill="#ffffff"/>
<rect x="472.70" y="1167.18" width="23.81" height="23.79" fill="#e4deef"/>
<rect x="496.20" y="1167.18" width="23.81" height="23.79" fill="#a69ccf"/>
<rect x="519.71" y="1167.18" width="23.81" height="23.79" fill="#a69ccf"/>
<rect x="543.22" y="1167.18" width="23.81" height="23.79" fill="#bbb2da"/>
<rect x="566.73" y="1167.18" width="23.81" height="23.79" fill="#bbb2da"/>
<rect x="590.24" y="1167.18" width="23.81" height="23.79" fill="#8782c3"/>
<rect x="613.74" y="1167.18" width="23.81" height="23.79" fill="#8782c3"/>
<rect x="637.25" y="1167.18" width="23.81" height="23.79" fill="#a69ccf"/>
<rect x="660.76" y="1167.18" width="23.81" height="23.79" fill="#e4deef"/>
<rect x="684.27" y="1167.18" width="23.81" height="23.79" fill="#e4deef"/>
<rect x="707.78" y="1167.18" width="23.81" height="23.79" fill="#e4deef"/>
<rect x="731.28" y="1167.18" width="23.81" height="23.79" fill="#3154a7"/>
<rect x="754.79" y="1167.18" width="23.81" height="23.79" fill="#f5f4f9"/>
<rect x="190.60" y="1190.67" width="23.81" height="23.79" fill="#f48d78"/>
<rect x="214.11" y="1190.67" width="23.81" height="23.79" fill="#f7a997"/>
<rect x="237.62" y="1190.67" width="23.81" height="23.79" fill="#f7a997"/>
<rect x="261.12" y="1190.67" width="23.81" height="23.79" fill="#f7a997"/>
<rect x="284.63" y="1190.67" width="23.81" height="23.79" fill="#f7a997"/>
<rect x="308.14" y="1190.67" width="23.81" height="23.79" fill="#f9beb0"/>
<rect x="331.65" y="1190.67" width="23.81" height="23.79" fill="#f7a997"/>
<rect x="355.16" y="1190.67" width="23.81" height="23.79" fill="#f7a997"/>
<rect x="378.66" y="1190.67" width="23.81" height="23.79" fill="#f9beb0"/>
<rect x="402.17" y="1190.67" width="23.81" height="23.79" fill="#f7a997"/>
<rect x="425.68" y="1190.67" width="23.81" height="23.79" fill="#e4deef"/>
<rect x="449.19" y="1190.67" width="23.81" height="23.79" fill="#f7a997"/>
<rect x="472.70" y="1190.67" width="23.81" height="23.79" fill="#fbd3c8"/>
<rect x="496.20" y="1190.67" width="23.81" height="23.79" fill="#fef4f1"/>
<rect x="519.71" y="1190.67" width="23.81" height="23.79" fill="#fbd3c8"/>
<rect x="543.22" y="1190.67" width="23.81" height="23.79" fill="#f9beb0"/>
<rect x="566.73" y="1190.67" width="23.81" height="23.79" fill="#fbd3c8"/>
<rect x="590.24" y="1190.67" width="23.81" height="23.79" fill="#e4deef"/>
<rect x="613.74" y="1190.67" width="23.81" height="23.79" fill="#f5f4f9"/>
<rect x="637.25" y="1190.67" width="23.81" height="23.79" fill="#bbb2da"/>
<rect x="660.76" y="1190.67" width="23.81" height="23.79" fill="#f7a997"/>
<rect x="684.27" y="1190.67" width="23.81" height="23.79" fill="#f9beb0"/>
<rect x="707.78" y="1190.67" width="23.81" height="23.79" fill="#ffffff"/>
<rect x="731.28" y="1190.67" width="23.81" height="23.79" fill="#5a67b4"/>
<rect x="754.79" y="1190.67" width="23.81" height="23.79" fill="#f48d78"/>
<rect x="190.60" y="1214.16" width="23.81" height="23.79" fill="#f48d78"/>
<rect x="214.11" y="1214.16" width="23.81" height="23.79" fill="#f7a997"/>
<rect x="237.62" y="1214.16" width="23.81" height="23.79" fill="#f7a997"/>
<rect x="261.12" y="1214.16" width="23.81" height="23.79" fill="#f7a997"/>
<rect x="284.63" y="1214.16" width="23.81" height="23.79" fill="#f48d78"/>
<rect x="308.14" y="1214.16" width="23.81" height="23.79" fill="#f9beb0"/>
<rect x="331.65" y="1214.16" width="23.81" height="23.79" fill="#f7a997"/>
<rect x="355.16" y="1214.16" width="23.81" height="23.79" fill="#f7a997"/>
<rect x="378.66" y="1214.16" width="23.81" height="23.79" fill="#f9beb0"/>
<rect x="402.17" y="1214.16" width="23.81" height="23.79" fill="#f7a997"/>
<rect x="425.68" y="1214.16" width="23.81" height="23.79" fill="#ffffff"/>
<rect x="449.19" y="1214.16" width="23.81" height="23.79" fill="#f7a997"/>
<rect x="472.70" y="1214.16" width="23.81" height="23.79" fill="#fbd3c8"/>
<rect x="496.20" y="1214.16" width="23.81" height="23.79" fill="#fde3dc"/>
<rect x="519.71" y="1214.16" width="23.81" height="23.79" fill="#fbd3c8"/>
<rect x="543.22" y="1214.16" width="23.81" height="23.79" fill="#fbd3c8"/>
<rect x="566.73" y="1214.16" width="23.81" height="23.79" fill="#fbd3c8"/>
<rect x="590.24" y="1214.16" width="23.81" height="23.79" fill="#e4deef"/>
<rect x="613.74" y="1214.16" width="23.81" height="23.79" fill="#f5f4f9"/>
<rect x="637.25" y="1214.16" width="23.81" height="23.79" fill="#d1c8e4"/>
<rect x="660.76" y="1214.16" width="23.81" height="23.79" fill="#f7a997"/>
<rect x="684.27" y="1214.16" width="23.81" height="23.79" fill="#f9beb0"/>
<rect x="707.78" y="1214.16" width="23.81" height="23.79" fill="#fef4f1"/>
<rect x="731.28" y="1214.16" width="23.81" height="23.79" fill="#8782c3"/>
<rect x="754.79" y="1214.16" width="23.81" height="23.79" fill="#ef6a54"/>
<rect x="190.60" y="1237.65" width="23.81" height="23.79" fill="#f48d78"/>
<rect x="214.11" y="1237.65" width="23.81" height="23.79" fill="#f7a997"/>
<rect x="237.62" y="1237.65" width="23.81" height="23.79" fill="#f7a997"/>
<rect x="261.12" y="1237.65" width="23.81" height="23.79" fill="#f9beb0"/>
<rect x="284.63" y="1237.65" width="23.81" height="23.79" fill="#f7a997"/>
<rect x="308.14" y="1237.65" width="23.81" height="23.79" fill="#fbd3c8"/>
<rect x="331.65" y="1237.65" width="23.81" height="23.79" fill="#f7a997"/>
<rect x="355.16" y="1237.65" width="23.81" height="23.79" fill="#f7a997"/>
<rect x="378.66" y="1237.65" width="23.81" height="23.79" fill="#f9beb0"/>
<rect x="402.17" y="1237.65" width="23.81" height="23.79" fill="#f7a997"/>
<rect x="425.68" y="1237.65" width="23.81" height="23.79" fill="#f5f4f9"/>
<rect x="449.19" y="1237.65" width="23.81" height="23.79" fill="#f7a997"/>
<rect x="472.70" y="1237.65" width="23.81" height="23.79" fill="#f9beb0"/>
<rect x="496.20" y="1237.65" width="23.81" height="23.79" fill="#fbd3c8"/>
<rect x="519.71" y="1237.65" width="23.81" height="23.79" fill="#f9beb0"/>
<rect x="543.22" y="1237.65" width="23.81" height="23.79" fill="#f9beb0"/>
<rect x="566.73" y="1237.65" width="23.81" height="23.79" fill="#f9beb0"/>
<rect x="590.24" y="1237.65" width="23.81" height="23.79" fill="#fef4f1"/>
<rect x="613.74" y="1237.65" width="23.81" height="23.79" fill="#fde3dc"/>
<rect x="637.25" y="1237.65" width="23.81" height="23.79" fill="#d1c8e4"/>
<rect x="660.76" y="1237.65" width="23.81" height="23.79" fill="#f7a997"/>
<rect x="684.27" y="1237.65" width="23.81" height="23.79" fill="#f9beb0"/>
<rect x="707.78" y="1237.65" width="23.81" height="23.79" fill="#fde3dc"/>
<rect x="731.28" y="1237.65" width="23.81" height="23.79" fill="#8782c3"/>
<rect x="754.79" y="1237.65" width="23.81" height="23.79" fill="#ef6a54"/>
<rect x="190.60" y="1261.14" width="23.81" height="23.79" fill="#f48d78"/>
<rect x="214.11" y="1261.14" width="23.81" height="23.79" fill="#f7a997"/>
<rect x="237.62" y="1261.14" width="23.81" height="23.79" fill="#f7a997"/>
<rect x="261.12" y="1261.14" width="23.81" height="23.79" fill="#f7a997"/>
<rect x="284.63" y="1261.14" width="23.81" height="23.79" fill="#f7a997"/>
<rect x="308.14" y="1261.14" width="23.81" height="23.79" fill="#fbd3c8"/>
<rect x="331.65" y="1261.14" width="23.81" height="23.79" fill="#f7a997"/>
<rect x="355.16" y="1261.14" width="23.81" height="23.79" fill="#f48d78"/>
<rect x="378.66" y="1261.14" width="23.81" height="23.79" fill="#fbd3c8"/>
<rect x="402.17" y="1261.14" width="23.81" height="23.79" fill="#f7a997"/>
<rect x="425.68" y="1261.14" width="23.81" height="23.79" fill="#e4deef"/>
<rect x="449.19" y="1261.14" width="23.81" height="23.79" fill="#f7a997"/>
<rect x="472.70" y="1261.14" width="23.81" height="23.79" fill="#f9beb0"/>
<rect x="496.20" y="1261.14" width="23.81" height="23.79" fill="#ffffff"/>
<rect x="519.71" y="1261.14" width="23.81" height="23.79" fill="#fde3dc"/>
<rect x="543.22" y="1261.14" width="23.81" height="23.79" fill="#fbd3c8"/>
<rect x="566.73" y="1261.14" width="23.81" height="23.79" fill="#fbd3c8"/>
<rect x="590.24" y="1261.14" width="23.81" height="23.79" fill="#d1c8e4"/>
<rect x="613.74" y="1261.14" width="23.81" height="23.79" fill="#e4deef"/>
<rect x="637.25" y="1261.14" width="23.81" height="23.79" fill="#d1c8e4"/>
<rect x="660.76" y="1261.14" width="23.81" height="23.79" fill="#fbd3c8"/>
<rect x="684.27" y="1261.14" width="23.81" height="23.79" fill="#fbd3c8"/>
<rect x="707.78" y="1261.14" width="23.81" height="23.79" fill="#f5f4f9"/>
<rect x="731.28" y="1261.14" width="23.81" height="23.79" fill="#8782c3"/>
<rect x="754.79" y="1261.14" width="23.81" height="23.79" fill="#eb4c38"/>
<rect x="190.60" y="1284.63" width="23.81" height="23.79" fill="#f48d78"/>
<rect x="214.11" y="1284.63" width="23.81" height="23.79" fill="#f48d78"/>
<rect x="237.62" y="1284.63" width="23.81" height="23.79" fill="#f7a997"/>
<rect x="261.12" y="1284.63" width="23.81" height="23.79" fill="#f7a997"/>
<rect x="284.63" y="1284.63" width="23.81" height="23.79" fill="#f7a997"/>
<rect x="308.14" y="1284.63" width="23.81" height="23.79" fill="#f9beb0"/>
<rect x="331.65" y="1284.63" width="23.81" height="23.79" fill="#f7a997"/>
<rect x="355.16" y="1284.63" width="23.81" height="23.79" fill="#f7a997"/>
<rect x="378.66" y="1284.63" width="23.81" height="23.79" fill="#f7a997"/>
<rect x="402.17" y="1284.63" width="23.81" height="23.79" fill="#f7a997"/>
<rect x="425.68" y="1284.63" width="23.81" height="23.79" fill="#d1c8e4"/>
<rect x="449.19" y="1284.63" width="23.81" height="23.79" fill="#f7a997"/>
<rect x="472.70" y="1284.63" width="23.81" height="23.79" fill="#fbd3c8"/>
<rect x="496.20" y="1284.63" width="23.81" height="23.79" fill="#e4deef"/>
<rect x="519.71" y="1284.63" width="23.81" height="23.79" fill="#f5f4f9"/>
<rect x="543.22" y="1284.63" width="23.81" height="23.79" fill="#f5f4f9"/>
<rect x="566.73" y="1284.63" width="23.81" height="23.79" fill="#fde3dc"/>
<rect x="590.24" y="1284.63" width="23.81" height="23.79" fill="#bbb2da"/>
<rect x="613.74" y="1284.63" width="23.81" height="23.79" fill="#fde3dc"/>
<rect x="637.25" y="1284.63" width="23.81" height="23.79" fill="#ffffff"/>
<rect x="660.76" y="1284.63" width="23.81" height="23.79" fill="#f7a997"/>
<rect x="684.27" y="1284.63" width="23.81" height="23.79" fill="#f7a997"/>
<rect x="707.78" y="1284.63" width="23.81" height="23.79" fill="#f9beb0"/>
<rect x="731.28" y="1284.63" width="23.81" height="23.79" fill="#a69ccf"/>
<rect x="754.79" y="1284.63" width="23.81" height="23.79" fill="#ef6a54"/>
<rect x="190.60" y="1308.12" width="23.81" height="23.79" fill="#f9beb0"/>
<rect x="214.11" y="1308.12" width="23.81" height="23.79" fill="#fbd3c8"/>
<rect x="237.62" y="1308.12" width="23.81" height="23.79" fill="#f9beb0"/>
<rect x="261.12" y="1308.12" width="23.81" height="23.79" fill="#fbd3c8"/>
<rect x="284.63" y="1308.12" width="23.81" height="23.79" fill="#f9beb0"/>
<rect x="308.14" y="1308.12" width="23.81" height="23.79" fill="#fde3dc"/>
<rect x="331.65" y="1308.12" width="23.81" height="23.79" fill="#f9beb0"/>
<rect x="355.16" y="1308.12" width="23.81" height="23.79" fill="#f7a997"/>
<rect x="378.66" y="1308.12" width="23.81" height="23.79" fill="#fde3dc"/>
<rect x="402.17" y="1308.12" width="23.81" height="23.79" fill="#f9beb0"/>
<rect x="425.68" y="1308.12" width="23.81" height="23.79" fill="#d1c8e4"/>
<rect x="449.19" y="1308.12" width="23.81" height="23.79" fill="#f7a997"/>
<rect x="472.70" y="1308.12" width="23.81" height="23.79" fill="#fbd3c8"/>
<rect x="496.20" y="1308.12" width="23.81" height="23.79" fill="#e4deef"/>
<rect x="519.71" y="1308.12" width="23.81" height="23.79" fill="#fef4f1"/>
<rect x="543.22" y="1308.12" width="23.81" height="23.79" fill="#fde3dc"/>
<rect x="566.73" y="1308.12" width="23.81" height="23.79" fill="#fde3dc"/>
<rect x="590.24" y="1308.12" width="23.81" height="23.79" fill="#bbb2da"/>
<rect x="613.74" y="1308.12" width="23.81" height="23.79" fill="#a69ccf"/>
<rect x="637.25" y="1308.12" width="23.81" height="23.79" fill="#a69ccf"/>
<rect x="660.76" y="1308.12" width="23.81" height="23.79" fill="#fbd3c8"/>
<rect x="684.27" y="1308.12" width="23.81" height="23.79" fill="#fef4f1"/>
<rect x="707.78" y="1308.12" width="23.81" height="23.79" fill="#d1c8e4"/>
<rect x="731.28" y="1308.12" width="23.81" height="23.79" fill="#5a67b4"/>
<rect x="754.79" y="1308.12" width="23.81" height="23.79" fill="#e73828"/>
<rect x="190.60" y="1331.61" width="23.81" height="23.79" fill="#f48d78"/>
<rect x="214.11" y="1331.61" width="23.81" height="23.79" fill="#f9beb0"/>
<rect x="237.62" y="1331.61" width="23.81" height="23.79" fill="#fbd3c8"/>
<rect x="261.12" y="1331.61" width="23.81" height="23.79" fill="#fbd3c8"/>
<rect x="284.63" y="1331.61" width="23.81" height="23.79" fill="#f9beb0"/>
<rect x="308.14" y="1331.61" width="23.81" height="23.79" fill="#f5f4f9"/>
<rect x="331.65" y="1331.61" width="23.81" height="23.79" fill="#f9beb0"/>
<rect x="355.16" y="1331.61" width="23.81" height="23.79" fill="#f7a997"/>
<rect x="378.66" y="1331.61" width="23.81" height="23.79" fill="#fbd3c8"/>
<rect x="402.17" y="1331.61" width="23.81" height="23.79" fill="#f9beb0"/>
<rect x="425.68" y="1331.61" width="23.81" height="23.79" fill="#bbb2da"/>
<rect x="449.19" y="1331.61" width="23.81" height="23.79" fill="#f7a997"/>
<rect x="472.70" y="1331.61" width="23.81" height="23.79" fill="#ffffff"/>
<rect x="496.20" y="1331.61" width="23.81" height="23.79" fill="#8782c3"/>
<rect x="519.71" y="1331.61" width="23.81" height="23.79" fill="#a69ccf"/>
<rect x="543.22" y="1331.61" width="23.81" height="23.79" fill="#a69ccf"/>
<rect x="566.73" y="1331.61" width="23.81" height="23.79" fill="#8782c3"/>
<rect x="590.24" y="1331.61" width="23.81" height="23.79" fill="#8782c3"/>
<rect x="613.74" y="1331.61" width="23.81" height="23.79" fill="#3154a7"/>
<rect x="637.25" y="1331.61" width="23.81" height="23.79" fill="#3154a7"/>
<rect x="660.76" y="1331.61" width="23.81" height="23.79" fill="#5a67b4"/>
<rect x="684.27" y="1331.61" width="23.81" height="23.79" fill="#5a67b4"/>
<rect x="707.78" y="1331.61" width="23.81" height="23.79" fill="#3154a7"/>
<rect x="731.28" y="1331.61" width="23.81" height="23.79" fill="#3154a7"/>
<rect x="754.79" y="1331.61" width="23.81" height="23.79" fill="#e73828"/>
<rect x="190.60" y="1355.10" width="23.81" height="23.79" fill="#fbd3c8"/>
<rect x="214.11" y="1355.10" width="23.81" height="23.79" fill="#fbd3c8"/>
<rect x="237.62" y="1355.10" width="23.81" height="23.79" fill="#f9beb0"/>
<rect x="261.12" y="1355.10" width="23.81" height="23.79" fill="#f9beb0"/>
<rect x="284.63" y="1355.10" width="23.81" height="23.79" fill="#f9beb0"/>
<rect x="308.14" y="1355.10" width="23.81" height="23.79" fill="#fef4f1"/>
<rect x="331.65" y="1355.10" width="23.81" height="23.79" fill="#f7a997"/>
<rect x="355.16" y="1355.10" width="23.81" height="23.79" fill="#f48d78"/>
<rect x="378.66" y="1355.10" width="23.81" height="23.79" fill="#fbd3c8"/>
<rect x="402.17" y="1355.10" width="23.81" height="23.79" fill="#f7a997"/>
<rect x="425.68" y="1355.10" width="23.81" height="23.79" fill="#f5f4f9"/>
<rect x="449.19" y="1355.10" width="23.81" height="23.79" fill="#f9beb0"/>
<rect x="472.70" y="1355.10" width="23.81" height="23.79" fill="#fbd3c8"/>
<rect x="496.20" y="1355.10" width="23.81" height="23.79" fill="#f5f4f9"/>
<rect x="519.71" y="1355.10" width="23.81" height="23.79" fill="#ffffff"/>
<rect x="543.22" y="1355.10" width="23.81" height="23.79" fill="#f9beb0"/>
<rect x="566.73" y="1355.10" width="23.81" height="23.79" fill="#fbd3c8"/>
<rect x="590.24" y="1355.10" width="23.81" height="23.79" fill="#d1c8e4"/>
<rect x="613.74" y="1355.10" width="23.81" height="23.79" fill="#d1c8e4"/>
<rect x="637.25" y="1355.10" width="23.81" height="23.79" fill="#a69ccf"/>
<rect x="660.76" y="1355.10" width="23.81" height="23.79" fill="#d1c8e4"/>
<rect x="684.27" y="1355.10" width="23.81" height="23.79" fill="#ffffff"/>
<rect x="707.78" y="1355.10" width="23.81" height="23.79" fill="#e4deef"/>
<rect x="731.28" y="1355.10" width="23.81" height="23.79" fill="#3154a7"/>
<rect x="754.79" y="1355.10" width="23.81" height="23.79" fill="#fde3dc"/>
<rect x="190.60" y="1378.59" width="23.81" height="23.79" fill="#fbd3c8"/>
<rect x="214.11" y="1378.59" width="23.81" height="23.79" fill="#fbd3c8"/>
<rect x="237.62" y="1378.59" width="23.81" height="23.79" fill="#f9beb0"/>
<rect x="261.12" y="1378.59" width="23.81" height="23.79" fill="#f9beb0"/>
<rect x="284.63" y="1378.59" width="23.81" height="23.79" fill="#fde3dc"/>
<rect x="308.14" y="1378.59" width="23.81" height="23.79" fill="#ffffff"/>
<rect x="331.65" y="1378.59" width="23.81" height="23.79" fill="#f9beb0"/>
<rect x="355.16" y="1378.59" width="23.81" height="23.79" fill="#f9beb0"/>
<rect x="378.66" y="1378.59" width="23.81" height="23.79" fill="#fde3dc"/>
<rect x="402.17" y="1378.59" width="23.81" height="23.79" fill="#fbd3c8"/>
<rect x="425.68" y="1378.59" width="23.81" height="23.79" fill="#bbb2da"/>
<rect x="449.19" y="1378.59" width="23.81" height="23.79" fill="#fbd3c8"/>
<rect x="472.70" y="1378.59" width="23.81" height="23.79" fill="#fbd3c8"/>
<rect x="496.20" y="1378.59" width="23.81" height="23.79" fill="#d1c8e4"/>
<rect x="519.71" y="1378.59" width="23.81" height="23.79" fill="#e4deef"/>
<rect x="543.22" y="1378.59" width="23.81" height="23.79" fill="#fef4f1"/>
<rect x="566.73" y="1378.59" width="23.81" height="23.79" fill="#ffffff"/>
<rect x="590.24" y="1378.59" width="23.81" height="23.79" fill="#a69ccf"/>
<rect x="613.74" y="1378.59" width="23.81" height="23.79" fill="#bbb2da"/>
<rect x="637.25" y="1378.59" width="23.81" height="23.79" fill="#a69ccf"/>
<rect x="660.76" y="1378.59" width="23.81" height="23.79" fill="#f5f4f9"/>
<rect x="684.27" y="1378.59" width="23.81" height="23.79" fill="#fde3dc"/>
<rect x="707.78" y="1378.59" width="23.81" height="23.79" fill="#f5f4f9"/>
<rect x="731.28" y="1378.59" width="23.81" height="23.79" fill="#3154a7"/>
<rect x="754.79" y="1378.59" width="23.81" height="23.79" fill="#fde3dc"/>
<rect x="190.60" y="1402.08" width="23.81" height="23.79" fill="#fbd3c8"/>
<rect x="214.11" y="1402.08" width="23.81" height="23.79" fill="#fef4f1"/>
<rect x="237.62" y="1402.08" width="23.81" height="23.79" fill="#fbd3c8"/>
<rect x="261.12" y="1402.08" width="23.81" height="23.79" fill="#fbd3c8"/>
<rect x="284.63" y="1402.08" width="23.81" height="23.79" fill="#fef4f1"/>
<rect x="308.14" y="1402.08" width="23.81" height="23.79" fill="#f5f4f9"/>
<rect x="331.65" y="1402.08" width="23.81" height="23.79" fill="#f9beb0"/>
<rect x="355.16" y="1402.08" width="23.81" height="23.79" fill="#f9beb0"/>
<rect x="378.66" y="1402.08" width="23.81" height="23.79" fill="#f5f4f9"/>
<rect x="402.17" y="1402.08" width="23.81" height="23.79" fill="#fbd3c8"/>
<rect x="425.68" y="1402.08" width="23.81" height="23.79" fill="#a69ccf"/>
<rect x="449.19" y="1402.08" width="23.81" height="23.79" fill="#fbd3c8"/>
<rect x="472.70" y="1402.08" width="23.81" height="23.79" fill="#fbd3c8"/>
<rect x="496.20" y="1402.08" width="23.81" height="23.79" fill="#bbb2da"/>
<rect x="519.71" y="1402.08" width="23.81" height="23.79" fill="#d1c8e4"/>
<rect x="543.22" y="1402.08" width="23.81" height="23.79" fill="#f5f4f9"/>
<rect x="566.73" y="1402.08" width="23.81" height="23.79" fill="#e4deef"/>
<rect x="590.24" y="1402.08" width="23.81" height="23.79" fill="#a69ccf"/>
<rect x="613.74" y="1402.08" width="23.81" height="23.79" fill="#a69ccf"/>
<rect x="637.25" y="1402.08" width="23.81" height="23.79" fill="#8782c3"/>
<rect x="660.76" y="1402.08" width="23.81" height="23.79" fill="#e4deef"/>
<rect x="684.27" y="1402.08" width="23.81" height="23.79" fill="#fde3dc"/>
<rect x="707.78" y="1402.08" width="23.81" height="23.79" fill="#e4deef"/>
<rect x="731.28" y="1402.08" width="23.81" height="23.79" fill="#3154a7"/>
<rect x="754.79" y="1402.08" width="23.81" height="23.79" fill="#fde3dc"/>
<rect x="190.60" y="1425.57" width="23.81" height="23.79" fill="#f5f4f9"/>
<rect x="214.11" y="1425.57" width="23.81" height="23.79" fill="#fef4f1"/>
<rect x="237.62" y="1425.57" width="23.81" height="23.79" fill="#fbd3c8"/>
<rect x="261.12" y="1425.57" width="23.81" height="23.79" fill="#fde3dc"/>
<rect x="284.63" y="1425.57" width="23.81" height="23.79" fill="#f5f4f9"/>
<rect x="308.14" y="1425.57" width="23.81" height="23.79" fill="#ffffff"/>
<rect x="331.65" y="1425.57" width="23.81" height="23.79" fill="#fbd3c8"/>
<rect x="355.16" y="1425.57" width="23.81" height="23.79" fill="#fbd3c8"/>
<rect x="378.66" y="1425.57" width="23.81" height="23.79" fill="#fde3dc"/>
<rect x="402.17" y="1425.57" width="23.81" height="23.79" fill="#fbd3c8"/>
<rect x="425.68" y="1425.57" width="23.81" height="23.79" fill="#8782c3"/>
<rect x="449.19" y="1425.57" width="23.81" height="23.79" fill="#fbd3c8"/>
<rect x="472.70" y="1425.57" width="23.81" height="23.79" fill="#f5f4f9"/>
<rect x="496.20" y="1425.57" width="23.81" height="23.79" fill="#bbb2da"/>
<rect x="519.71" y="1425.57" width="23.81" height="23.79" fill="#bbb2da"/>
<rect x="543.22" y="1425.57" width="23.81" height="23.79" fill="#d1c8e4"/>
<rect x="566.73" y="1425.57" width="23.81" height="23.79" fill="#e4deef"/>
<rect x="590.24" y="1425.57" width="23.81" height="23.79" fill="#bbb2da"/>
<rect x="613.74" y="1425.57" width="23.81" height="23.79" fill="#a69ccf"/>
<rect x="637.25" y="1425.57" width="23.81" height="23.79" fill="#a69ccf"/>
<rect x="660.76" y="1425.57" width="23.81" height="23.79" fill="#fde3dc"/>
<rect x="684.27" y="1425.57" width="23.81" height="23.79" fill="#f7a997"/>
<rect x="707.78" y="1425.57" width="23.81" height="23.79" fill="#fef4f1"/>
<rect x="731.28" y="1425.57" width="23.81" height="23.79" fill="#3154a7"/>
<rect x="754.79" y="1425.57" width="23.81" height="23.79" fill="#f9beb0"/>
<rect x="190.60" y="1449.06" width="23.81" height="23.79" fill="#f48d78"/>
<rect x="214.11" y="1449.06" width="23.81" height="23.79" fill="#f9beb0"/>
<rect x="237.62" y="1449.06" width="23.81" height="23.79" fill="#f9beb0"/>
<rect x="261.12" y="1449.06" width="23.81" height="23.79" fill="#fde3dc"/>
<rect x="284.63" y="1449.06" width="23.81" height="23.79" fill="#fbd3c8"/>
<rect x="308.14" y="1449.06" width="23.81" height="23.79" fill="#e4deef"/>
<rect x="331.65" y="1449.06" width="23.81" height="23.79" fill="#fbd3c8"/>
<rect x="355.16" y="1449.06" width="23.81" height="23.79" fill="#fbd3c8"/>
<rect x="378.66" y="1449.06" width="23.81" height="23.79" fill="#fbd3c8"/>
<rect x="402.17" y="1449.06" width="23.81" height="23.79" fill="#fbd3c8"/>
<rect x="425.68" y="1449.06" width="23.81" height="23.79" fill="#bbb2da"/>
<rect x="449.19" y="1449.06" width="23.81" height="23.79" fill="#fde3dc"/>
<rect x="472.70" y="1449.06" width="23.81" height="23.79" fill="#e4deef"/>
<rect x="496.20" y="1449.06" width="23.81" height="23.79" fill="#d1c8e4"/>
<rect x="519.71" y="1449.06" width="23.81" height="23.79" fill="#d1c8e4"/>
<rect x="543.22" y="1449.06" width="23.81" height="23.79" fill="#ffffff"/>
<rect x="566.73" y="1449.06" width="23.81" height="23.79" fill="#e4deef"/>
<rect x="590.24" y="1449.06" width="23.81" height="23.79" fill="#bbb2da"/>
<rect x="613.74" y="1449.06" width="23.81" height="23.79" fill="#a69ccf"/>
<rect x="637.25" y="1449.06" width="23.81" height="23.79" fill="#8782c3"/>
<rect x="660.76" y="1449.06" width="23.81" height="23.79" fill="#fde3dc"/>
<rect x="684.27" y="1449.06" width="23.81" height="23.79" fill="#e4deef"/>
<rect x="707.78" y="1449.06" width="23.81" height="23.79" fill="#d1c8e4"/>
<rect x="731.28" y="1449.06" width="23.81" height="23.79" fill="#3154a7"/>
<rect x="754.79" y="1449.06" width="23.81" height="23.79" fill="#a69ccf"/>
<path d="M190.10 885.30H778.80M190.10 908.79H778.80M190.10 932.28H778.80M190.10 955.77H778.80M190.10 979.26H778.80M190.10 1002.75H778.80M190.10 1026.24H778.80M190.10 1049.73H778.80M190.10 1073.22H778.80M190.10 1096.71H778.80M190.10 1120.20H778.80M190.10 1143.69H778.80M190.10 1167.18H778.80M190.10 1190.67H778.80M190.10 1214.16H778.80M190.10 1237.65H778.80M190.10 1261.14H778.80M190.10 1284.63H778.80M190.10 1308.12H778.80M190.10 1331.61H778.80M190.10 1355.10H778.80M190.10 1378.59H778.80M190.10 1402.08H778.80M190.10 1425.57H778.80M190.10 1449.06H778.80M190.10 1472.55H778.80M190.60 884.80V1473.05M214.11 884.80V1473.05M237.62 884.80V1473.05M261.12 884.80V1473.05M284.63 884.80V1473.05M308.14 884.80V1473.05M331.65 884.80V1473.05M355.16 884.80V1473.05M378.66 884.80V1473.05M402.17 884.80V1473.05M425.68 884.80V1473.05M449.19 884.80V1473.05M472.70 884.80V1473.05M496.20 884.80V1473.05M519.71 884.80V1473.05M543.22 884.80V1473.05M566.73 884.80V1473.05M590.24 884.80V1473.05M613.74 884.80V1473.05M637.25 884.80V1473.05M660.76 884.80V1473.05M684.27 884.80V1473.05M707.78 884.80V1473.05M731.28 884.80V1473.05M754.79 884.80V1473.05M778.30 884.80V1473.05" stroke="#2b2b2b" stroke-width="1.00" fill="none"/>
<text transform="translate(179.50 902.75)" x="-100.30" y="0" font-size="20.30" fill="#231f20" textLength="100.30" lengthAdjust="spacingAndGlyphs">CD4_naive</text>
<text transform="translate(179.50 926.24)" x="-129.20" y="0" font-size="20.30" fill="#231f20" textLength="129.20" lengthAdjust="spacingAndGlyphs">CD4_memory</text>
<text transform="translate(179.50 949.73)" x="-67.80" y="0" font-size="20.30" fill="#231f20" textLength="67.80" lengthAdjust="spacingAndGlyphs">CD4_Ef</text>
<text transform="translate(179.50 973.22)" x="-43.10" y="0" font-size="20.30" fill="#231f20" textLength="43.10" lengthAdjust="spacingAndGlyphs">Treg</text>
<text transform="translate(179.50 996.71)" x="-100.30" y="0" font-size="20.30" fill="#231f20" textLength="100.30" lengthAdjust="spacingAndGlyphs">CD8_naive</text>
<text transform="translate(179.50 1020.19)" x="-129.20" y="0" font-size="20.30" fill="#231f20" textLength="129.20" lengthAdjust="spacingAndGlyphs">CD8_memory</text>
<text transform="translate(179.50 1043.68)" x="-67.80" y="0" font-size="20.30" fill="#231f20" textLength="67.80" lengthAdjust="spacingAndGlyphs">CD8_Ef</text>
<text transform="translate(179.50 1067.17)" x="-37.70" y="0" font-size="20.30" fill="#231f20" textLength="37.70" lengthAdjust="spacingAndGlyphs">NKT</text>
<text transform="translate(179.50 1090.66)" x="-47.60" y="0" font-size="20.30" fill="#231f20" textLength="47.60" lengthAdjust="spacingAndGlyphs">MAIT</text>
<text transform="translate(179.50 1114.15)" x="-36.40" y="0" font-size="20.30" fill="#231f20" textLength="36.40" lengthAdjust="spacingAndGlyphs">gdT</text>
<text transform="translate(179.50 1137.64)" x="-47.30" y="0" font-size="20.30" fill="#ec1c24" textLength="47.30" lengthAdjust="spacingAndGlyphs">Pro T</text>
<text transform="translate(179.50 1161.13)" x="-26.10" y="0" font-size="20.30" fill="#231f20" textLength="26.10" lengthAdjust="spacingAndGlyphs">NK</text>
<text transform="translate(179.50 1173.22)" x="-35.60" y="0" font-size="13.00" fill="#231f20" textLength="35.60" lengthAdjust="spacingAndGlyphs">bright</text>
<text transform="translate(142.10 1184.62)" x="-88.00" y="0" font-size="20.30" fill="#231f20" textLength="88.00" lengthAdjust="spacingAndGlyphs">NK_CD56</text>
<text transform="translate(179.50 1208.12)" x="-136.50" y="0" font-size="20.30" fill="#231f20" textLength="136.50" lengthAdjust="spacingAndGlyphs">cMono_S100A</text>
<text transform="translate(179.50 1231.61)" x="-111.30" y="0" font-size="20.30" fill="#231f20" textLength="111.30" lengthAdjust="spacingAndGlyphs">cMono_IL1B</text>
<text transform="translate(179.50 1255.10)" x="-127.10" y="0" font-size="20.30" fill="#231f20" textLength="127.10" lengthAdjust="spacingAndGlyphs">cMono_CCL3</text>
<text transform="translate(179.50 1278.59)" x="-78.40" y="0" font-size="20.30" fill="#231f20" textLength="78.40" lengthAdjust="spacingAndGlyphs">intMono</text>
<text transform="translate(179.50 1302.08)" x="-77.70" y="0" font-size="20.30" fill="#ec1c24" textLength="77.70" lengthAdjust="spacingAndGlyphs">ncMono</text>
<text transform="translate(179.50 1325.57)" x="-40.00" y="0" font-size="20.30" fill="#231f20" textLength="40.00" lengthAdjust="spacingAndGlyphs">cDC</text>
<text transform="translate(179.50 1349.06)" x="-40.50" y="0" font-size="20.30" fill="#ec1c24" textLength="40.50" lengthAdjust="spacingAndGlyphs">pDC</text>
<text transform="translate(179.50 1372.54)" x="-71.00" y="0" font-size="20.30" fill="#231f20" textLength="71.00" lengthAdjust="spacingAndGlyphs">B_naive</text>
<text transform="translate(179.50 1396.04)" x="-100.00" y="0" font-size="20.30" fill="#231f20" textLength="100.00" lengthAdjust="spacingAndGlyphs">B_memory</text>
<text transform="translate(179.50 1419.52)" x="-109.00" y="0" font-size="20.30" fill="#231f20" textLength="109.00" lengthAdjust="spacingAndGlyphs">B_activated</text>
<text transform="translate(179.50 1443.02)" x="-89.20" y="0" font-size="20.30" fill="#231f20" textLength="89.20" lengthAdjust="spacingAndGlyphs">B_plasma</text>
<text transform="translate(179.50 1466.50)" x="-71.30" y="0" font-size="20.30" fill="#231f20" textLength="71.30" lengthAdjust="spacingAndGlyphs">Platelet</text>
<text transform="translate(209.35 1482.95) rotate(-90)" x="-100.30" y="0" font-size="20.30" fill="#231f20" textLength="100.30" lengthAdjust="spacingAndGlyphs">CD4_naive</text>
<text transform="translate(232.86 1482.95) rotate(-90)" x="-129.20" y="0" font-size="20.30" fill="#231f20" textLength="129.20" lengthAdjust="spacingAndGlyphs">CD4_memory</text>
<text transform="translate(256.37 1482.95) rotate(-90)" x="-67.80" y="0" font-size="20.30" fill="#231f20" textLength="67.80" lengthAdjust="spacingAndGlyphs">CD4_Ef</text>
<text transform="translate(279.88 1482.95) rotate(-90)" x="-43.10" y="0" font-size="20.30" fill="#231f20" textLength="43.10" lengthAdjust="spacingAndGlyphs">Treg</text>
<text transform="translate(303.39 1482.95) rotate(-90)" x="-100.30" y="0" font-size="20.30" fill="#231f20" textLength="100.30" lengthAdjust="spacingAndGlyphs">CD8_naive</text>
<text transform="translate(326.89 1482.95) rotate(-90)" x="-129.20" y="0" font-size="20.30" fill="#231f20" textLength="129.20" lengthAdjust="spacingAndGlyphs">CD8_memory</text>
<text transform="translate(350.40 1482.95) rotate(-90)" x="-67.80" y="0" font-size="20.30" fill="#231f20" textLength="67.80" lengthAdjust="spacingAndGlyphs">CD8_Ef</text>
<text transform="translate(373.91 1482.95) rotate(-90)" x="-37.70" y="0" font-size="20.30" fill="#231f20" textLength="37.70" lengthAdjust="spacingAndGlyphs">NKT</text>
<text transform="translate(397.42 1482.95) rotate(-90)" x="-47.60" y="0" font-size="20.30" fill="#231f20" textLength="47.60" lengthAdjust="spacingAndGlyphs">MAIT</text>
<text transform="translate(420.93 1482.95) rotate(-90)" x="-36.40" y="0" font-size="20.30" fill="#231f20" textLength="36.40" lengthAdjust="spacingAndGlyphs">gdT</text>
<text transform="translate(444.43 1482.95) rotate(-90)" x="-47.30" y="0" font-size="20.30" fill="#231f20" textLength="47.30" lengthAdjust="spacingAndGlyphs">Pro T</text>
<text transform="translate(467.94 1482.95) rotate(-90)" x="-26.10" y="0" font-size="20.30" fill="#231f20" textLength="26.10" lengthAdjust="spacingAndGlyphs">NK</text>
<text transform="translate(480.05 1482.95) rotate(-90)" x="-35.60" y="0" font-size="13.00" fill="#231f20" textLength="35.60" lengthAdjust="spacingAndGlyphs">bright</text>
<text transform="translate(491.45 1520.35) rotate(-90)" x="-88.00" y="0" font-size="20.30" fill="#231f20" textLength="88.00" lengthAdjust="spacingAndGlyphs">NK_CD56</text>
<text transform="translate(514.96 1482.95) rotate(-90)" x="-136.50" y="0" font-size="20.30" fill="#231f20" textLength="136.50" lengthAdjust="spacingAndGlyphs">cMono_S100A</text>
<text transform="translate(538.47 1482.95) rotate(-90)" x="-111.30" y="0" font-size="20.30" fill="#231f20" textLength="111.30" lengthAdjust="spacingAndGlyphs">cMono_IL1B</text>
<text transform="translate(561.97 1482.95) rotate(-90)" x="-127.10" y="0" font-size="20.30" fill="#231f20" textLength="127.10" lengthAdjust="spacingAndGlyphs">cMono_CCL3</text>
<text transform="translate(585.48 1482.95) rotate(-90)" x="-78.40" y="0" font-size="20.30" fill="#231f20" textLength="78.40" lengthAdjust="spacingAndGlyphs">intMono</text>
<text transform="translate(608.99 1482.95) rotate(-90)" x="-77.70" y="0" font-size="20.30" fill="#ec1c24" textLength="77.70" lengthAdjust="spacingAndGlyphs">ncMono</text>
<text transform="translate(632.50 1482.95) rotate(-90)" x="-40.00" y="0" font-size="20.30" fill="#231f20" textLength="40.00" lengthAdjust="spacingAndGlyphs">cDC</text>
<text transform="translate(656.01 1482.95) rotate(-90)" x="-40.50" y="0" font-size="20.30" fill="#231f20" textLength="40.50" lengthAdjust="spacingAndGlyphs">pDC</text>
<text transform="translate(679.51 1482.95) rotate(-90)" x="-71.00" y="0" font-size="20.30" fill="#231f20" textLength="71.00" lengthAdjust="spacingAndGlyphs">B_naive</text>
<text transform="translate(703.02 1482.95) rotate(-90)" x="-100.00" y="0" font-size="20.30" fill="#231f20" textLength="100.00" lengthAdjust="spacingAndGlyphs">B_memory</text>
<text transform="translate(726.53 1482.95) rotate(-90)" x="-109.00" y="0" font-size="20.30" fill="#231f20" textLength="109.00" lengthAdjust="spacingAndGlyphs">B_activated</text>
<text transform="translate(750.04 1482.95) rotate(-90)" x="-89.20" y="0" font-size="20.30" fill="#ec1c24" textLength="89.20" lengthAdjust="spacingAndGlyphs">B_plasma</text>
<text transform="translate(773.55 1482.95) rotate(-90)" x="-71.30" y="0" font-size="20.30" fill="#ec1c24" textLength="71.30" lengthAdjust="spacingAndGlyphs">Platelet</text>
<text x="743.04" y="910.54" font-size="28.0" fill="#1a1a1a" text-anchor="middle">*</text>
<text x="601.99" y="934.03" font-size="28.0" fill="#1a1a1a" text-anchor="middle">*</text>
<text x="743.04" y="934.03" font-size="28.0" fill="#1a1a1a" text-anchor="middle">*</text>
<text x="743.04" y="957.52" font-size="28.0" fill="#1a1a1a" text-anchor="middle">*</text>
<text x="743.04" y="981.01" font-size="28.0" fill="#1a1a1a" text-anchor="middle">*</text>
<text x="743.04" y="1004.50" font-size="28.0" fill="#1a1a1a" text-anchor="middle">*</text>
<text x="601.99" y="1027.99" font-size="28.0" fill="#1a1a1a" text-anchor="middle">*</text>
<text x="649.01" y="1027.99" font-size="28.0" fill="#1a1a1a" text-anchor="middle">*</text>
<text x="743.04" y="1027.99" font-size="28.0" fill="#1a1a1a" text-anchor="middle">*</text>
<text x="601.99" y="1051.48" font-size="28.0" fill="#1a1a1a" text-anchor="middle">*</text>
<text x="743.04" y="1051.48" font-size="28.0" fill="#1a1a1a" text-anchor="middle">*</text>
<text x="601.99" y="1074.97" font-size="28.0" fill="#1a1a1a" text-anchor="middle">*</text>
<text x="743.04" y="1074.97" font-size="28.0" fill="#1a1a1a" text-anchor="middle">*</text>
<text x="601.99" y="1098.46" font-size="28.0" fill="#1a1a1a" text-anchor="middle">*</text>
<text x="743.04" y="1098.46" font-size="28.0" fill="#1a1a1a" text-anchor="middle">*</text>
<text x="601.99" y="1121.95" font-size="28.0" fill="#1a1a1a" text-anchor="middle">*</text>
<text x="743.04" y="1121.95" font-size="28.0" fill="#1a1a1a" text-anchor="middle">*</text>
<text x="437.43" y="1145.44" font-size="28.0" fill="#1a1a1a" text-anchor="middle">*</text>
<text x="507.96" y="1145.44" font-size="28.0" fill="#1a1a1a" text-anchor="middle">*</text>
<text x="601.99" y="1145.44" font-size="28.0" fill="#1a1a1a" text-anchor="middle">*</text>
<text x="625.50" y="1145.44" font-size="28.0" fill="#1a1a1a" text-anchor="middle">*</text>
<text x="743.04" y="1145.44" font-size="28.0" fill="#1a1a1a" text-anchor="middle">*</text>
<text x="601.99" y="1168.93" font-size="28.0" fill="#1a1a1a" text-anchor="middle">*</text>
<text x="743.04" y="1168.93" font-size="28.0" fill="#1a1a1a" text-anchor="middle">*</text>
<text x="437.43" y="1192.42" font-size="28.0" fill="#1a1a1a" text-anchor="middle">*</text>
<text x="601.99" y="1192.42" font-size="28.0" fill="#1a1a1a" text-anchor="middle">*</text>
<text x="649.01" y="1192.42" font-size="28.0" fill="#1a1a1a" text-anchor="middle">*</text>
<text x="743.04" y="1192.42" font-size="28.0" fill="#1a1a1a" text-anchor="middle">*</text>
<text x="202.35" y="1215.91" font-size="28.0" fill="#1a1a1a" text-anchor="middle">*</text>
<text x="743.04" y="1215.91" font-size="28.0" fill="#1a1a1a" text-anchor="middle">*</text>
<text x="766.55" y="1215.91" font-size="28.0" fill="#1a1a1a" text-anchor="middle">*</text>
<text x="202.35" y="1239.40" font-size="28.0" fill="#1a1a1a" text-anchor="middle">*</text>
<text x="743.04" y="1239.40" font-size="28.0" fill="#1a1a1a" text-anchor="middle">*</text>
<text x="766.55" y="1239.40" font-size="28.0" fill="#1a1a1a" text-anchor="middle">*</text>
<text x="743.04" y="1262.89" font-size="28.0" fill="#1a1a1a" text-anchor="middle">*</text>
<text x="766.55" y="1262.89" font-size="28.0" fill="#1a1a1a" text-anchor="middle">*</text>
<text x="202.35" y="1286.38" font-size="28.0" fill="#1a1a1a" text-anchor="middle">*</text>
<text x="743.04" y="1286.38" font-size="28.0" fill="#1a1a1a" text-anchor="middle">*</text>
<text x="766.55" y="1286.38" font-size="28.0" fill="#1a1a1a" text-anchor="middle">*</text>
<text x="202.35" y="1309.88" font-size="28.0" fill="#1a1a1a" text-anchor="middle">*</text>
<text x="249.37" y="1309.88" font-size="28.0" fill="#1a1a1a" text-anchor="middle">*</text>
<text x="272.88" y="1309.88" font-size="28.0" fill="#1a1a1a" text-anchor="middle">*</text>
<text x="672.51" y="1309.88" font-size="28.0" fill="#1a1a1a" text-anchor="middle">*</text>
<text x="696.02" y="1309.88" font-size="28.0" fill="#1a1a1a" text-anchor="middle">*</text>
<text x="743.04" y="1309.88" font-size="28.0" fill="#1a1a1a" text-anchor="middle">*</text>
<text x="766.55" y="1309.88" font-size="28.0" fill="#1a1a1a" text-anchor="middle">*</text>
<text x="743.04" y="1333.37" font-size="28.0" fill="#1a1a1a" text-anchor="middle">*</text>
<text x="766.55" y="1333.37" font-size="28.0" fill="#1a1a1a" text-anchor="middle">*</text>
<text x="507.96" y="1356.86" font-size="28.0" fill="#1a1a1a" text-anchor="middle">*</text>
<text x="578.48" y="1356.86" font-size="28.0" fill="#1a1a1a" text-anchor="middle">*</text>
<text x="601.99" y="1356.86" font-size="28.0" fill="#1a1a1a" text-anchor="middle">*</text>
<text x="625.50" y="1356.86" font-size="28.0" fill="#1a1a1a" text-anchor="middle">*</text>
<text x="649.01" y="1356.86" font-size="28.0" fill="#1a1a1a" text-anchor="middle">*</text>
<text x="672.51" y="1356.86" font-size="28.0" fill="#1a1a1a" text-anchor="middle">*</text>
<text x="696.02" y="1356.86" font-size="28.0" fill="#1a1a1a" text-anchor="middle">*</text>
<text x="719.53" y="1356.86" font-size="28.0" fill="#1a1a1a" text-anchor="middle">*</text>
<text x="743.04" y="1356.86" font-size="28.0" fill="#1a1a1a" text-anchor="middle">*</text>
<text x="766.55" y="1356.86" font-size="28.0" fill="#1a1a1a" text-anchor="middle">*</text>
<text x="743.04" y="1380.34" font-size="28.0" fill="#1a1a1a" text-anchor="middle">*</text>
<text x="743.04" y="1403.84" font-size="28.0" fill="#1a1a1a" text-anchor="middle">*</text>
<text x="743.04" y="1427.32" font-size="28.0" fill="#1a1a1a" text-anchor="middle">*</text>
<text x="437.43" y="1450.82" font-size="28.0" fill="#1a1a1a" text-anchor="middle">*</text>
<text x="743.04" y="1450.82" font-size="28.0" fill="#1a1a1a" text-anchor="middle">*</text>
<text x="649.01" y="1474.30" font-size="28.0" fill="#1a1a1a" text-anchor="middle">*</text>
<text x="743.04" y="1474.30" font-size="28.0" fill="#1a1a1a" text-anchor="middle">*</text>
<text x="766.55" y="1474.30" font-size="28.0" fill="#1a1a1a" text-anchor="middle">*</text>
<text transform="translate(484.00 870.50)" x="-115.80" y="0" font-size="24.60" fill="#231f20" textLength="231.60" lengthAdjust="spacingAndGlyphs">COVID-19 vs healthy</text>
<text transform="translate(484.80 1656.00)" x="-235.50" y="0" font-size="23.20" fill="#231f20" textLength="471.00" lengthAdjust="spacingAndGlyphs">Cell-type expressing receptor (receiving)</text>
<text transform="translate(20.80 1178.00) rotate(-90)" x="-214.40" y="0" font-size="23.20" fill="#231f20" textLength="428.80" lengthAdjust="spacingAndGlyphs">Cell-type expressing ligand (sending)</text>
<text transform="translate(791.50 1059.90)" x="0.00" y="0" font-size="20.30" fill="#231f20" textLength="91.29" lengthAdjust="spacingAndGlyphs">COVID-19</text>
<text transform="translate(791.50 1084.60)" x="0.00" y="0" font-size="20.30" fill="#231f20" textLength="119.34" lengthAdjust="spacingAndGlyphs">Upregulated</text>
<rect x="818.30" y="1101.5" width="16.3" height="157.9" fill="url(#gd)" stroke="#2b2b2b" stroke-width="1"/>
<path d="M818.80 1113.30h3M834.10 1113.30h-3" stroke="#fff" stroke-width="1" opacity="0.85"/>
<path d="M818.80 1141.10h3M834.10 1141.10h-3" stroke="#fff" stroke-width="1" opacity="0.85"/>
<path d="M818.80 1219.60h3M834.10 1219.60h-3" stroke="#fff" stroke-width="1" opacity="0.85"/>
<path d="M818.80 1247.80h3M834.10 1247.80h-3" stroke="#fff" stroke-width="1" opacity="0.85"/>
<text transform="translate(845.00 1120.30)" x="0.00" y="0" font-size="20.30" fill="#231f20" textLength="12.42" lengthAdjust="spacingAndGlyphs">1</text>
<text transform="translate(845.00 1147.40)" x="0.00" y="0" font-size="20.30" fill="#231f20" textLength="29.26" lengthAdjust="spacingAndGlyphs">log</text>
<text transform="translate(874.76 1151.90)" x="0.00" y="0" font-size="12.50" fill="#231f20" textLength="7.65" lengthAdjust="spacingAndGlyphs">2</text>
<text transform="translate(882.71 1147.40)" x="0.00" y="0" font-size="20.30" fill="#231f20" textLength="41.74" lengthAdjust="spacingAndGlyphs">(1.5)</text>
<text transform="translate(845.00 1187.40)" x="0.00" y="0" font-size="20.30" fill="#231f20" textLength="12.42" lengthAdjust="spacingAndGlyphs">0</text>
<text transform="translate(845.00 1225.90)" x="0.00" y="0" font-size="20.30" fill="#231f20" textLength="29.26" lengthAdjust="spacingAndGlyphs">log</text>
<text transform="translate(874.76 1230.40)" x="0.00" y="0" font-size="12.50" fill="#231f20" textLength="7.65" lengthAdjust="spacingAndGlyphs">2</text>
<text transform="translate(882.71 1225.90)" x="0.00" y="0" font-size="20.30" fill="#231f20" textLength="41.74" lengthAdjust="spacingAndGlyphs">(1.5)</text>
<text transform="translate(845.00 1254.80)" x="0.00" y="0" font-size="20.30" fill="#231f20" textLength="12.42" lengthAdjust="spacingAndGlyphs">1</text>
<g transform="translate(804.70 1217.5) rotate(-90)">
<text transform="translate(0.00 0.00)" x="0.00" y="0" font-size="20.30" fill="#231f20" textLength="29.26" lengthAdjust="spacingAndGlyphs">log</text>
<text transform="translate(29.76 4.50)" x="0.00" y="0" font-size="12.50" fill="#231f20" textLength="7.65" lengthAdjust="spacingAndGlyphs">2</text>
<text transform="translate(37.71 0.00)" x="0.00" y="0" font-size="20.30" fill="#231f20" textLength="40.58" lengthAdjust="spacingAndGlyphs">(FC)</text>
</g>
<text transform="translate(791.50 1285.30)" x="0.00" y="0" font-size="20.30" fill="#231f20" textLength="91.29" lengthAdjust="spacingAndGlyphs">COVID-19</text>
<text transform="translate(791.50 1309.90)" x="0.00" y="0" font-size="20.30" fill="#231f20" textLength="145.84" lengthAdjust="spacingAndGlyphs">downregulated</text>
<rect x="1171.70" y="885.30" width="23.80" height="23.79" fill="#d1c8e4"/>
<rect x="1195.20" y="885.30" width="23.80" height="23.79" fill="#d1c8e4"/>
<rect x="1218.71" y="885.30" width="23.80" height="23.79" fill="#d1c8e4"/>
<rect x="1242.21" y="885.30" width="23.80" height="23.79" fill="#f5f4f9"/>
<rect x="1265.72" y="885.30" width="23.80" height="23.79" fill="#bbb2da"/>
<rect x="1289.22" y="885.30" width="23.80" height="23.79" fill="#e4deef"/>
<rect x="1312.72" y="885.30" width="23.80" height="23.79" fill="#bbb2da"/>
<rect x="1336.23" y="885.30" width="23.80" height="23.79" fill="#e4deef"/>
<rect x="1359.73" y="885.30" width="23.80" height="23.79" fill="#ffffff"/>
<rect x="1383.24" y="885.30" width="23.80" height="23.79" fill="#f5f4f9"/>
<rect x="1406.74" y="885.30" width="23.80" height="23.79" fill="#d1c8e4"/>
<rect x="1430.24" y="885.30" width="23.80" height="23.79" fill="#f5f4f9"/>
<rect x="1453.75" y="885.30" width="23.80" height="23.79" fill="#a69ccf"/>
<rect x="1477.25" y="885.30" width="23.80" height="23.79" fill="#bbb2da"/>
<rect x="1500.76" y="885.30" width="23.80" height="23.79" fill="#d1c8e4"/>
<rect x="1524.26" y="885.30" width="23.80" height="23.79" fill="#d1c8e4"/>
<rect x="1547.76" y="885.30" width="23.80" height="23.79" fill="#bbb2da"/>
<rect x="1571.27" y="885.30" width="23.80" height="23.79" fill="#8782c3"/>
<rect x="1594.77" y="885.30" width="23.80" height="23.79" fill="#a69ccf"/>
<rect x="1618.28" y="885.30" width="23.80" height="23.79" fill="#8782c3"/>
<rect x="1641.78" y="885.30" width="23.80" height="23.79" fill="#f5f4f9"/>
<rect x="1665.28" y="885.30" width="23.80" height="23.79" fill="#fde3dc"/>
<rect x="1688.79" y="885.30" width="23.80" height="23.79" fill="#d1c8e4"/>
<rect x="1712.29" y="885.30" width="23.80" height="23.79" fill="#f5f4f9"/>
<rect x="1735.80" y="885.30" width="23.80" height="23.79" fill="#f7a997"/>
<rect x="1171.70" y="908.79" width="23.80" height="23.79" fill="#d1c8e4"/>
<rect x="1195.20" y="908.79" width="23.80" height="23.79" fill="#d1c8e4"/>
<rect x="1218.71" y="908.79" width="23.80" height="23.79" fill="#d1c8e4"/>
<rect x="1242.21" y="908.79" width="23.80" height="23.79" fill="#f5f4f9"/>
<rect x="1265.72" y="908.79" width="23.80" height="23.79" fill="#bbb2da"/>
<rect x="1289.22" y="908.79" width="23.80" height="23.79" fill="#d1c8e4"/>
<rect x="1312.72" y="908.79" width="23.80" height="23.79" fill="#d1c8e4"/>
<rect x="1336.23" y="908.79" width="23.80" height="23.79" fill="#e4deef"/>
<rect x="1359.73" y="908.79" width="23.80" height="23.79" fill="#f5f4f9"/>
<rect x="1383.24" y="908.79" width="23.80" height="23.79" fill="#f5f4f9"/>
<rect x="1406.74" y="908.79" width="23.80" height="23.79" fill="#d1c8e4"/>
<rect x="1430.24" y="908.79" width="23.80" height="23.79" fill="#f5f4f9"/>
<rect x="1453.75" y="908.79" width="23.80" height="23.79" fill="#bbb2da"/>
<rect x="1477.25" y="908.79" width="23.80" height="23.79" fill="#bbb2da"/>
<rect x="1500.76" y="908.79" width="23.80" height="23.79" fill="#d1c8e4"/>
<rect x="1524.26" y="908.79" width="23.80" height="23.79" fill="#d1c8e4"/>
<rect x="1547.76" y="908.79" width="23.80" height="23.79" fill="#d1c8e4"/>
<rect x="1571.27" y="908.79" width="23.80" height="23.79" fill="#8782c3"/>
<rect x="1594.77" y="908.79" width="23.80" height="23.79" fill="#a69ccf"/>
<rect x="1618.28" y="908.79" width="23.80" height="23.79" fill="#8782c3"/>
<rect x="1641.78" y="908.79" width="23.80" height="23.79" fill="#e4deef"/>
<rect x="1665.28" y="908.79" width="23.80" height="23.79" fill="#fef4f1"/>
<rect x="1688.79" y="908.79" width="23.80" height="23.79" fill="#d1c8e4"/>
<rect x="1712.29" y="908.79" width="23.80" height="23.79" fill="#e4deef"/>
<rect x="1735.80" y="908.79" width="23.80" height="23.79" fill="#f9beb0"/>
<rect x="1171.70" y="932.28" width="23.80" height="23.79" fill="#f5f4f9"/>
<rect x="1195.20" y="932.28" width="23.80" height="23.79" fill="#d1c8e4"/>
<rect x="1218.71" y="932.28" width="23.80" height="23.79" fill="#d1c8e4"/>
<rect x="1242.21" y="932.28" width="23.80" height="23.79" fill="#ffffff"/>
<rect x="1265.72" y="932.28" width="23.80" height="23.79" fill="#e4deef"/>
<rect x="1289.22" y="932.28" width="23.80" height="23.79" fill="#e4deef"/>
<rect x="1312.72" y="932.28" width="23.80" height="23.79" fill="#d1c8e4"/>
<rect x="1336.23" y="932.28" width="23.80" height="23.79" fill="#e4deef"/>
<rect x="1359.73" y="932.28" width="23.80" height="23.79" fill="#f5f4f9"/>
<rect x="1383.24" y="932.28" width="23.80" height="23.79" fill="#ffffff"/>
<rect x="1406.74" y="932.28" width="23.80" height="23.79" fill="#d1c8e4"/>
<rect x="1430.24" y="932.28" width="23.80" height="23.79" fill="#f5f4f9"/>
<rect x="1453.75" y="932.28" width="23.80" height="23.79" fill="#a69ccf"/>
<rect x="1477.25" y="932.28" width="23.80" height="23.79" fill="#bbb2da"/>
<rect x="1500.76" y="932.28" width="23.80" height="23.79" fill="#d1c8e4"/>
<rect x="1524.26" y="932.28" width="23.80" height="23.79" fill="#bbb2da"/>
<rect x="1547.76" y="932.28" width="23.80" height="23.79" fill="#d1c8e4"/>
<rect x="1571.27" y="932.28" width="23.80" height="23.79" fill="#8782c3"/>
<rect x="1594.77" y="932.28" width="23.80" height="23.79" fill="#a69ccf"/>
<rect x="1618.28" y="932.28" width="23.80" height="23.79" fill="#8782c3"/>
<rect x="1641.78" y="932.28" width="23.80" height="23.79" fill="#e4deef"/>
<rect x="1665.28" y="932.28" width="23.80" height="23.79" fill="#e4deef"/>
<rect x="1688.79" y="932.28" width="23.80" height="23.79" fill="#bbb2da"/>
<rect x="1712.29" y="932.28" width="23.80" height="23.79" fill="#e4deef"/>
<rect x="1735.80" y="932.28" width="23.80" height="23.79" fill="#f48d78"/>
<rect x="1171.70" y="955.77" width="23.80" height="23.79" fill="#e4deef"/>
<rect x="1195.20" y="955.77" width="23.80" height="23.79" fill="#e4deef"/>
<rect x="1218.71" y="955.77" width="23.80" height="23.79" fill="#d1c8e4"/>
<rect x="1242.21" y="955.77" width="23.80" height="23.79" fill="#ffffff"/>
<rect x="1265.72" y="955.77" width="23.80" height="23.79" fill="#d1c8e4"/>
<rect x="1289.22" y="955.77" width="23.80" height="23.79" fill="#f5f4f9"/>
<rect x="1312.72" y="955.77" width="23.80" height="23.79" fill="#d1c8e4"/>
<rect x="1336.23" y="955.77" width="23.80" height="23.79" fill="#e4deef"/>
<rect x="1359.73" y="955.77" width="23.80" height="23.79" fill="#fde3dc"/>
<rect x="1383.24" y="955.77" width="23.80" height="23.79" fill="#ffffff"/>
<rect x="1406.74" y="955.77" width="23.80" height="23.79" fill="#d1c8e4"/>
<rect x="1430.24" y="955.77" width="23.80" height="23.79" fill="#ffffff"/>
<rect x="1453.75" y="955.77" width="23.80" height="23.79" fill="#bbb2da"/>
<rect x="1477.25" y="955.77" width="23.80" height="23.79" fill="#d1c8e4"/>
<rect x="1500.76" y="955.77" width="23.80" height="23.79" fill="#d1c8e4"/>
<rect x="1524.26" y="955.77" width="23.80" height="23.79" fill="#d1c8e4"/>
<rect x="1547.76" y="955.77" width="23.80" height="23.79" fill="#d1c8e4"/>
<rect x="1571.27" y="955.77" width="23.80" height="23.79" fill="#a69ccf"/>
<rect x="1594.77" y="955.77" width="23.80" height="23.79" fill="#a69ccf"/>
<rect x="1618.28" y="955.77" width="23.80" height="23.79" fill="#8782c3"/>
<rect x="1641.78" y="955.77" width="23.80" height="23.79" fill="#ffffff"/>
<rect x="1665.28" y="955.77" width="23.80" height="23.79" fill="#fde3dc"/>
<rect x="1688.79" y="955.77" width="23.80" height="23.79" fill="#d1c8e4"/>
<rect x="1712.29" y="955.77" width="23.80" height="23.79" fill="#fef4f1"/>
<rect x="1735.80" y="955.77" width="23.80" height="23.79" fill="#f48d78"/>
<rect x="1171.70" y="979.26" width="23.80" height="23.79" fill="#e4deef"/>
<rect x="1195.20" y="979.26" width="23.80" height="23.79" fill="#d1c8e4"/>
<rect x="1218.71" y="979.26" width="23.80" height="23.79" fill="#d1c8e4"/>
<rect x="1242.21" y="979.26" width="23.80" height="23.79" fill="#f5f4f9"/>
<rect x="1265.72" y="979.26" width="23.80" height="23.79" fill="#bbb2da"/>
<rect x="1289.22" y="979.26" width="23.80" height="23.79" fill="#e4deef"/>
<rect x="1312.72" y="979.26" width="23.80" height="23.79" fill="#bbb2da"/>
<rect x="1336.23" y="979.26" width="23.80" height="23.79" fill="#e4deef"/>
<rect x="1359.73" y="979.26" width="23.80" height="23.79" fill="#f5f4f9"/>
<rect x="1383.24" y="979.26" width="23.80" height="23.79" fill="#e4deef"/>
<rect x="1406.74" y="979.26" width="23.80" height="23.79" fill="#d1c8e4"/>
<rect x="1430.24" y="979.26" width="23.80" height="23.79" fill="#f5f4f9"/>
<rect x="1453.75" y="979.26" width="23.80" height="23.79" fill="#a69ccf"/>
<rect x="1477.25" y="979.26" width="23.80" height="23.79" fill="#bbb2da"/>
<rect x="1500.76" y="979.26" width="23.80" height="23.79" fill="#d1c8e4"/>
<rect x="1524.26" y="979.26" width="23.80" height="23.79" fill="#d1c8e4"/>
<rect x="1547.76" y="979.26" width="23.80" height="23.79" fill="#d1c8e4"/>
<rect x="1571.27" y="979.26" width="23.80" height="23.79" fill="#8782c3"/>
<rect x="1594.77" y="979.26" width="23.80" height="23.79" fill="#a69ccf"/>
<rect x="1618.28" y="979.26" width="23.80" height="23.79" fill="#8782c3"/>
<rect x="1641.78" y="979.26" width="23.80" height="23.79" fill="#ffffff"/>
<rect x="1665.28" y="979.26" width="23.80" height="23.79" fill="#fef4f1"/>
<rect x="1688.79" y="979.26" width="23.80" height="23.79" fill="#d1c8e4"/>
<rect x="1712.29" y="979.26" width="23.80" height="23.79" fill="#ffffff"/>
<rect x="1735.80" y="979.26" width="23.80" height="23.79" fill="#f9beb0"/>
<rect x="1171.70" y="1002.75" width="23.80" height="23.79" fill="#e4deef"/>
<rect x="1195.20" y="1002.75" width="23.80" height="23.79" fill="#d1c8e4"/>
<rect x="1218.71" y="1002.75" width="23.80" height="23.79" fill="#d1c8e4"/>
<rect x="1242.21" y="1002.75" width="23.80" height="23.79" fill="#ffffff"/>
<rect x="1265.72" y="1002.75" width="23.80" height="23.79" fill="#e4deef"/>
<rect x="1289.22" y="1002.75" width="23.80" height="23.79" fill="#f5f4f9"/>
<rect x="1312.72" y="1002.75" width="23.80" height="23.79" fill="#e4deef"/>
<rect x="1336.23" y="1002.75" width="23.80" height="23.79" fill="#fef4f1"/>
<rect x="1359.73" y="1002.75" width="23.80" height="23.79" fill="#fef4f1"/>
<rect x="1383.24" y="1002.75" width="23.80" height="23.79" fill="#fde3dc"/>
<rect x="1406.74" y="1002.75" width="23.80" height="23.79" fill="#e4deef"/>
<rect x="1430.24" y="1002.75" width="23.80" height="23.79" fill="#fde3dc"/>
<rect x="1453.75" y="1002.75" width="23.80" height="23.79" fill="#d1c8e4"/>
<rect x="1477.25" y="1002.75" width="23.80" height="23.79" fill="#d1c8e4"/>
<rect x="1500.76" y="1002.75" width="23.80" height="23.79" fill="#d1c8e4"/>
<rect x="1524.26" y="1002.75" width="23.80" height="23.79" fill="#d1c8e4"/>
<rect x="1547.76" y="1002.75" width="23.80" height="23.79" fill="#d1c8e4"/>
<rect x="1571.27" y="1002.75" width="23.80" height="23.79" fill="#a69ccf"/>
<rect x="1594.77" y="1002.75" width="23.80" height="23.79" fill="#a69ccf"/>
<rect x="1618.28" y="1002.75" width="23.80" height="23.79" fill="#8782c3"/>
<rect x="1641.78" y="1002.75" width="23.80" height="23.79" fill="#e4deef"/>
<rect x="1665.28" y="1002.75" width="23.80" height="23.79" fill="#ffffff"/>
<rect x="1688.79" y="1002.75" width="23.80" height="23.79" fill="#bbb2da"/>
<rect x="1712.29" y="1002.75" width="23.80" height="23.79" fill="#fde3dc"/>
<rect x="1735.80" y="1002.75" width="23.80" height="23.79" fill="#f48d78"/>
<rect x="1171.70" y="1026.24" width="23.80" height="23.79" fill="#d1c8e4"/>
<rect x="1195.20" y="1026.24" width="23.80" height="23.79" fill="#d1c8e4"/>
<rect x="1218.71" y="1026.24" width="23.80" height="23.79" fill="#d1c8e4"/>
<rect x="1242.21" y="1026.24" width="23.80" height="23.79" fill="#f5f4f9"/>
<rect x="1265.72" y="1026.24" width="23.80" height="23.79" fill="#d1c8e4"/>
<rect x="1289.22" y="1026.24" width="23.80" height="23.79" fill="#e4deef"/>
<rect x="1312.72" y="1026.24" width="23.80" height="23.79" fill="#e4deef"/>
<rect x="1336.23" y="1026.24" width="23.80" height="23.79" fill="#f5f4f9"/>
<rect x="1359.73" y="1026.24" width="23.80" height="23.79" fill="#f5f4f9"/>
<rect x="1383.24" y="1026.24" width="23.80" height="23.79" fill="#f5f4f9"/>
<rect x="1406.74" y="1026.24" width="23.80" height="23.79" fill="#d1c8e4"/>
<rect x="1430.24" y="1026.24" width="23.80" height="23.79" fill="#ffffff"/>
<rect x="1453.75" y="1026.24" width="23.80" height="23.79" fill="#bbb2da"/>
<rect x="1477.25" y="1026.24" width="23.80" height="23.79" fill="#bbb2da"/>
<rect x="1500.76" y="1026.24" width="23.80" height="23.79" fill="#d1c8e4"/>
<rect x="1524.26" y="1026.24" width="23.80" height="23.79" fill="#d1c8e4"/>
<rect x="1547.76" y="1026.24" width="23.80" height="23.79" fill="#d1c8e4"/>
<rect x="1571.27" y="1026.24" width="23.80" height="23.79" fill="#8782c3"/>
<rect x="1594.77" y="1026.24" width="23.80" height="23.79" fill="#a69ccf"/>
<rect x="1618.28" y="1026.24" width="23.80" height="23.79" fill="#8782c3"/>
<rect x="1641.78" y="1026.24" width="23.80" height="23.79" fill="#d1c8e4"/>
<rect x="1665.28" y="1026.24" width="23.80" height="23.79" fill="#f5f4f9"/>
<rect x="1688.79" y="1026.24" width="23.80" height="23.79" fill="#bbb2da"/>
<rect x="1712.29" y="1026.24" width="23.80" height="23.79" fill="#fef4f1"/>
<rect x="1735.80" y="1026.24" width="23.80" height="23.79" fill="#f48d78"/>
<rect x="1171.70" y="1049.73" width="23.80" height="23.79" fill="#f5f4f9"/>
<rect x="1195.20" y="1049.73" width="23.80" height="23.79" fill="#d1c8e4"/>
<rect x="1218.71" y="1049.73" width="23.80" height="23.79" fill="#d1c8e4"/>
<rect x="1242.21" y="1049.73" width="23.80" height="23.79" fill="#e4deef"/>
<rect x="1265.72" y="1049.73" width="23.80" height="23.79" fill="#e4deef"/>
<rect x="1289.22" y="1049.73" width="23.80" height="23.79" fill="#f5f4f9"/>
<rect x="1312.72" y="1049.73" width="23.80" height="23.79" fill="#e4deef"/>
<rect x="1336.23" y="1049.73" width="23.80" height="23.79" fill="#e4deef"/>
<rect x="1359.73" y="1049.73" width="23.80" height="23.79" fill="#ffffff"/>
<rect x="1383.24" y="1049.73" width="23.80" height="23.79" fill="#f5f4f9"/>
<rect x="1406.74" y="1049.73" width="23.80" height="23.79" fill="#d1c8e4"/>
<rect x="1430.24" y="1049.73" width="23.80" height="23.79" fill="#f5f4f9"/>
<rect x="1453.75" y="1049.73" width="23.80" height="23.79" fill="#bbb2da"/>
<rect x="1477.25" y="1049.73" width="23.80" height="23.79" fill="#d1c8e4"/>
<rect x="1500.76" y="1049.73" width="23.80" height="23.79" fill="#e4deef"/>
<rect x="1524.26" y="1049.73" width="23.80" height="23.79" fill="#d1c8e4"/>
<rect x="1547.76" y="1049.73" width="23.80" height="23.79" fill="#d1c8e4"/>
<rect x="1571.27" y="1049.73" width="23.80" height="23.79" fill="#8782c3"/>
<rect x="1594.77" y="1049.73" width="23.80" height="23.79" fill="#bbb2da"/>
<rect x="1618.28" y="1049.73" width="23.80" height="23.79" fill="#8782c3"/>
<rect x="1641.78" y="1049.73" width="23.80" height="23.79" fill="#e4deef"/>
<rect x="1665.28" y="1049.73" width="23.80" height="23.79" fill="#e4deef"/>
<rect x="1688.79" y="1049.73" width="23.80" height="23.79" fill="#bbb2da"/>
<rect x="1712.29" y="1049.73" width="23.80" height="23.79" fill="#f5f4f9"/>
<rect x="1735.80" y="1049.73" width="23.80" height="23.79" fill="#f48d78"/>
<rect x="1171.70" y="1073.22" width="23.80" height="23.79" fill="#e4deef"/>
<rect x="1195.20" y="1073.22" width="23.80" height="23.79" fill="#d1c8e4"/>
<rect x="1218.71" y="1073.22" width="23.80" height="23.79" fill="#d1c8e4"/>
<rect x="1242.21" y="1073.22" width="23.80" height="23.79" fill="#ffffff"/>
<rect x="1265.72" y="1073.22" width="23.80" height="23.79" fill="#e4deef"/>
<rect x="1289.22" y="1073.22" width="23.80" height="23.79" fill="#f5f4f9"/>
<rect x="1312.72" y="1073.22" width="23.80" height="23.79" fill="#e4deef"/>
<rect x="1336.23" y="1073.22" width="23.80" height="23.79" fill="#f5f4f9"/>
<rect x="1359.73" y="1073.22" width="23.80" height="23.79" fill="#fde3dc"/>
<rect x="1383.24" y="1073.22" width="23.80" height="23.79" fill="#fef4f1"/>
<rect x="1406.74" y="1073.22" width="23.80" height="23.79" fill="#d1c8e4"/>
<rect x="1430.24" y="1073.22" width="23.80" height="23.79" fill="#ffffff"/>
<rect x="1453.75" y="1073.22" width="23.80" height="23.79" fill="#bbb2da"/>
<rect x="1477.25" y="1073.22" width="23.80" height="23.79" fill="#bbb2da"/>
<rect x="1500.76" y="1073.22" width="23.80" height="23.79" fill="#bbb2da"/>
<rect x="1524.26" y="1073.22" width="23.80" height="23.79" fill="#bbb2da"/>
<rect x="1547.76" y="1073.22" width="23.80" height="23.79" fill="#bbb2da"/>
<rect x="1571.27" y="1073.22" width="23.80" height="23.79" fill="#8782c3"/>
<rect x="1594.77" y="1073.22" width="23.80" height="23.79" fill="#a69ccf"/>
<rect x="1618.28" y="1073.22" width="23.80" height="23.79" fill="#8782c3"/>
<rect x="1641.78" y="1073.22" width="23.80" height="23.79" fill="#fef4f1"/>
<rect x="1665.28" y="1073.22" width="23.80" height="23.79" fill="#fbd3c8"/>
<rect x="1688.79" y="1073.22" width="23.80" height="23.79" fill="#d1c8e4"/>
<rect x="1712.29" y="1073.22" width="23.80" height="23.79" fill="#fef4f1"/>
<rect x="1735.80" y="1073.22" width="23.80" height="23.79" fill="#f7a997"/>
<rect x="1171.70" y="1096.71" width="23.80" height="23.79" fill="#ffffff"/>
<rect x="1195.20" y="1096.71" width="23.80" height="23.79" fill="#e4deef"/>
<rect x="1218.71" y="1096.71" width="23.80" height="23.79" fill="#e4deef"/>
<rect x="1242.21" y="1096.71" width="23.80" height="23.79" fill="#fef4f1"/>
<rect x="1265.72" y="1096.71" width="23.80" height="23.79" fill="#e4deef"/>
<rect x="1289.22" y="1096.71" width="23.80" height="23.79" fill="#f5f4f9"/>
<rect x="1312.72" y="1096.71" width="23.80" height="23.79" fill="#e4deef"/>
<rect x="1336.23" y="1096.71" width="23.80" height="23.79" fill="#f5f4f9"/>
<rect x="1359.73" y="1096.71" width="23.80" height="23.79" fill="#ffffff"/>
<rect x="1383.24" y="1096.71" width="23.80" height="23.79" fill="#fef4f1"/>
<rect x="1406.74" y="1096.71" width="23.80" height="23.79" fill="#d1c8e4"/>
<rect x="1430.24" y="1096.71" width="23.80" height="23.79" fill="#ffffff"/>
<rect x="1453.75" y="1096.71" width="23.80" height="23.79" fill="#bbb2da"/>
<rect x="1477.25" y="1096.71" width="23.80" height="23.79" fill="#d1c8e4"/>
<rect x="1500.76" y="1096.71" width="23.80" height="23.79" fill="#e4deef"/>
<rect x="1524.26" y="1096.71" width="23.80" height="23.79" fill="#d1c8e4"/>
<rect x="1547.76" y="1096.71" width="23.80" height="23.79" fill="#e4deef"/>
<rect x="1571.27" y="1096.71" width="23.80" height="23.79" fill="#a69ccf"/>
<rect x="1594.77" y="1096.71" width="23.80" height="23.79" fill="#bbb2da"/>
<rect x="1618.28" y="1096.71" width="23.80" height="23.79" fill="#8782c3"/>
<rect x="1641.78" y="1096.71" width="23.80" height="23.79" fill="#ffffff"/>
<rect x="1665.28" y="1096.71" width="23.80" height="23.79" fill="#fde3dc"/>
<rect x="1688.79" y="1096.71" width="23.80" height="23.79" fill="#bbb2da"/>
<rect x="1712.29" y="1096.71" width="23.80" height="23.79" fill="#ffffff"/>
<rect x="1735.80" y="1096.71" width="23.80" height="23.79" fill="#f17c66"/>
<rect x="1171.70" y="1120.20" width="23.80" height="23.79" fill="#d1c8e4"/>
<rect x="1195.20" y="1120.20" width="23.80" height="23.79" fill="#bbb2da"/>
<rect x="1218.71" y="1120.20" width="23.80" height="23.79" fill="#bbb2da"/>
<rect x="1242.21" y="1120.20" width="23.80" height="23.79" fill="#d1c8e4"/>
<rect x="1265.72" y="1120.20" width="23.80" height="23.79" fill="#bbb2da"/>
<rect x="1289.22" y="1120.20" width="23.80" height="23.79" fill="#d1c8e4"/>
<rect x="1312.72" y="1120.20" width="23.80" height="23.79" fill="#bbb2da"/>
<rect x="1336.23" y="1120.20" width="23.80" height="23.79" fill="#d1c8e4"/>
<rect x="1359.73" y="1120.20" width="23.80" height="23.79" fill="#f5f4f9"/>
<rect x="1383.24" y="1120.20" width="23.80" height="23.79" fill="#d1c8e4"/>
<rect x="1406.74" y="1120.20" width="23.80" height="23.79" fill="#bbb2da"/>
<rect x="1430.24" y="1120.20" width="23.80" height="23.79" fill="#d1c8e4"/>
<rect x="1453.75" y="1120.20" width="23.80" height="23.79" fill="#a69ccf"/>
<rect x="1477.25" y="1120.20" width="23.80" height="23.79" fill="#a69ccf"/>
<rect x="1500.76" y="1120.20" width="23.80" height="23.79" fill="#bbb2da"/>
<rect x="1524.26" y="1120.20" width="23.80" height="23.79" fill="#bbb2da"/>
<rect x="1547.76" y="1120.20" width="23.80" height="23.79" fill="#bbb2da"/>
<rect x="1571.27" y="1120.20" width="23.80" height="23.79" fill="#8782c3"/>
<rect x="1594.77" y="1120.20" width="23.80" height="23.79" fill="#8782c3"/>
<rect x="1618.28" y="1120.20" width="23.80" height="23.79" fill="#5a67b4"/>
<rect x="1641.78" y="1120.20" width="23.80" height="23.79" fill="#e4deef"/>
<rect x="1665.28" y="1120.20" width="23.80" height="23.79" fill="#e4deef"/>
<rect x="1688.79" y="1120.20" width="23.80" height="23.79" fill="#bbb2da"/>
<rect x="1712.29" y="1120.20" width="23.80" height="23.79" fill="#e4deef"/>
<rect x="1735.80" y="1120.20" width="23.80" height="23.79" fill="#f48d78"/>
<rect x="1171.70" y="1143.69" width="23.80" height="23.79" fill="#d1c8e4"/>
<rect x="1195.20" y="1143.69" width="23.80" height="23.79" fill="#a69ccf"/>
<rect x="1218.71" y="1143.69" width="23.80" height="23.79" fill="#bbb2da"/>
<rect x="1242.21" y="1143.69" width="23.80" height="23.79" fill="#d1c8e4"/>
<rect x="1265.72" y="1143.69" width="23.80" height="23.79" fill="#bbb2da"/>
<rect x="1289.22" y="1143.69" width="23.80" height="23.79" fill="#d1c8e4"/>
<rect x="1312.72" y="1143.69" width="23.80" height="23.79" fill="#d1c8e4"/>
<rect x="1336.23" y="1143.69" width="23.80" height="23.79" fill="#e4deef"/>
<rect x="1359.73" y="1143.69" width="23.80" height="23.79" fill="#d1c8e4"/>
<rect x="1383.24" y="1143.69" width="23.80" height="23.79" fill="#e4deef"/>
<rect x="1406.74" y="1143.69" width="23.80" height="23.79" fill="#bbb2da"/>
<rect x="1430.24" y="1143.69" width="23.80" height="23.79" fill="#ffffff"/>
<rect x="1453.75" y="1143.69" width="23.80" height="23.79" fill="#bbb2da"/>
<rect x="1477.25" y="1143.69" width="23.80" height="23.79" fill="#bbb2da"/>
<rect x="1500.76" y="1143.69" width="23.80" height="23.79" fill="#d1c8e4"/>
<rect x="1524.26" y="1143.69" width="23.80" height="23.79" fill="#bbb2da"/>
<rect x="1547.76" y="1143.69" width="23.80" height="23.79" fill="#d1c8e4"/>
<rect x="1571.27" y="1143.69" width="23.80" height="23.79" fill="#8782c3"/>
<rect x="1594.77" y="1143.69" width="23.80" height="23.79" fill="#a69ccf"/>
<rect x="1618.28" y="1143.69" width="23.80" height="23.79" fill="#8782c3"/>
<rect x="1641.78" y="1143.69" width="23.80" height="23.79" fill="#d1c8e4"/>
<rect x="1665.28" y="1143.69" width="23.80" height="23.79" fill="#d1c8e4"/>
<rect x="1688.79" y="1143.69" width="23.80" height="23.79" fill="#a69ccf"/>
<rect x="1712.29" y="1143.69" width="23.80" height="23.79" fill="#f5f4f9"/>
<rect x="1735.80" y="1143.69" width="23.80" height="23.79" fill="#f9beb0"/>
<rect x="1171.70" y="1167.18" width="23.80" height="23.79" fill="#d1c8e4"/>
<rect x="1195.20" y="1167.18" width="23.80" height="23.79" fill="#a69ccf"/>
<rect x="1218.71" y="1167.18" width="23.80" height="23.79" fill="#bbb2da"/>
<rect x="1242.21" y="1167.18" width="23.80" height="23.79" fill="#bbb2da"/>
<rect x="1265.72" y="1167.18" width="23.80" height="23.79" fill="#bbb2da"/>
<rect x="1289.22" y="1167.18" width="23.80" height="23.79" fill="#bbb2da"/>
<rect x="1312.72" y="1167.18" width="23.80" height="23.79" fill="#bbb2da"/>
<rect x="1336.23" y="1167.18" width="23.80" height="23.79" fill="#d1c8e4"/>
<rect x="1359.73" y="1167.18" width="23.80" height="23.79" fill="#bbb2da"/>
<rect x="1383.24" y="1167.18" width="23.80" height="23.79" fill="#d1c8e4"/>
<rect x="1406.74" y="1167.18" width="23.80" height="23.79" fill="#a69ccf"/>
<rect x="1430.24" y="1167.18" width="23.80" height="23.79" fill="#e4deef"/>
<rect x="1453.75" y="1167.18" width="23.80" height="23.79" fill="#a69ccf"/>
<rect x="1477.25" y="1167.18" width="23.80" height="23.79" fill="#bbb2da"/>
<rect x="1500.76" y="1167.18" width="23.80" height="23.79" fill="#bbb2da"/>
<rect x="1524.26" y="1167.18" width="23.80" height="23.79" fill="#bbb2da"/>
<rect x="1547.76" y="1167.18" width="23.80" height="23.79" fill="#bbb2da"/>
<rect x="1571.27" y="1167.18" width="23.80" height="23.79" fill="#8782c3"/>
<rect x="1594.77" y="1167.18" width="23.80" height="23.79" fill="#8782c3"/>
<rect x="1618.28" y="1167.18" width="23.80" height="23.79" fill="#5a67b4"/>
<rect x="1641.78" y="1167.18" width="23.80" height="23.79" fill="#d1c8e4"/>
<rect x="1665.28" y="1167.18" width="23.80" height="23.79" fill="#d1c8e4"/>
<rect x="1688.79" y="1167.18" width="23.80" height="23.79" fill="#a69ccf"/>
<rect x="1712.29" y="1167.18" width="23.80" height="23.79" fill="#d1c8e4"/>
<rect x="1735.80" y="1167.18" width="23.80" height="23.79" fill="#f9beb0"/>
<rect x="1171.70" y="1190.67" width="23.80" height="23.79" fill="#fde3dc"/>
<rect x="1195.20" y="1190.67" width="23.80" height="23.79" fill="#ffffff"/>
<rect x="1218.71" y="1190.67" width="23.80" height="23.79" fill="#f5f4f9"/>
<rect x="1242.21" y="1190.67" width="23.80" height="23.79" fill="#fde3dc"/>
<rect x="1265.72" y="1190.67" width="23.80" height="23.79" fill="#fde3dc"/>
<rect x="1289.22" y="1190.67" width="23.80" height="23.79" fill="#fde3dc"/>
<rect x="1312.72" y="1190.67" width="23.80" height="23.79" fill="#e4deef"/>
<rect x="1336.23" y="1190.67" width="23.80" height="23.79" fill="#ffffff"/>
<rect x="1359.73" y="1190.67" width="23.80" height="23.79" fill="#fbd3c8"/>
<rect x="1383.24" y="1190.67" width="23.80" height="23.79" fill="#fef4f1"/>
<rect x="1406.74" y="1190.67" width="23.80" height="23.79" fill="#fef4f1"/>
<rect x="1430.24" y="1190.67" width="23.80" height="23.79" fill="#ffffff"/>
<rect x="1453.75" y="1190.67" width="23.80" height="23.79" fill="#d1c8e4"/>
<rect x="1477.25" y="1190.67" width="23.80" height="23.79" fill="#f5f4f9"/>
<rect x="1500.76" y="1190.67" width="23.80" height="23.79" fill="#ffffff"/>
<rect x="1524.26" y="1190.67" width="23.80" height="23.79" fill="#f5f4f9"/>
<rect x="1547.76" y="1190.67" width="23.80" height="23.79" fill="#f5f4f9"/>
<rect x="1571.27" y="1190.67" width="23.80" height="23.79" fill="#d1c8e4"/>
<rect x="1594.77" y="1190.67" width="23.80" height="23.79" fill="#e4deef"/>
<rect x="1618.28" y="1190.67" width="23.80" height="23.79" fill="#f5f4f9"/>
<rect x="1641.78" y="1190.67" width="23.80" height="23.79" fill="#fef4f1"/>
<rect x="1665.28" y="1190.67" width="23.80" height="23.79" fill="#fde3dc"/>
<rect x="1688.79" y="1190.67" width="23.80" height="23.79" fill="#e4deef"/>
<rect x="1712.29" y="1190.67" width="23.80" height="23.79" fill="#ffffff"/>
<rect x="1735.80" y="1190.67" width="23.80" height="23.79" fill="#f7a997"/>
<rect x="1171.70" y="1214.16" width="23.80" height="23.79" fill="#fde3dc"/>
<rect x="1195.20" y="1214.16" width="23.80" height="23.79" fill="#f5f4f9"/>
<rect x="1218.71" y="1214.16" width="23.80" height="23.79" fill="#f5f4f9"/>
<rect x="1242.21" y="1214.16" width="23.80" height="23.79" fill="#fde3dc"/>
<rect x="1265.72" y="1214.16" width="23.80" height="23.79" fill="#fde3dc"/>
<rect x="1289.22" y="1214.16" width="23.80" height="23.79" fill="#fde3dc"/>
<rect x="1312.72" y="1214.16" width="23.80" height="23.79" fill="#e4deef"/>
<rect x="1336.23" y="1214.16" width="23.80" height="23.79" fill="#fef4f1"/>
<rect x="1359.73" y="1214.16" width="23.80" height="23.79" fill="#fbd3c8"/>
<rect x="1383.24" y="1214.16" width="23.80" height="23.79" fill="#fef4f1"/>
<rect x="1406.74" y="1214.16" width="23.80" height="23.79" fill="#ffffff"/>
<rect x="1430.24" y="1214.16" width="23.80" height="23.79" fill="#ffffff"/>
<rect x="1453.75" y="1214.16" width="23.80" height="23.79" fill="#d1c8e4"/>
<rect x="1477.25" y="1214.16" width="23.80" height="23.79" fill="#e4deef"/>
<rect x="1500.76" y="1214.16" width="23.80" height="23.79" fill="#e4deef"/>
<rect x="1524.26" y="1214.16" width="23.80" height="23.79" fill="#e4deef"/>
<rect x="1547.76" y="1214.16" width="23.80" height="23.79" fill="#e4deef"/>
<rect x="1571.27" y="1214.16" width="23.80" height="23.79" fill="#bbb2da"/>
<rect x="1594.77" y="1214.16" width="23.80" height="23.79" fill="#d1c8e4"/>
<rect x="1618.28" y="1214.16" width="23.80" height="23.79" fill="#d1c8e4"/>
<rect x="1641.78" y="1214.16" width="23.80" height="23.79" fill="#f5f4f9"/>
<rect x="1665.28" y="1214.16" width="23.80" height="23.79" fill="#fef4f1"/>
<rect x="1688.79" y="1214.16" width="23.80" height="23.79" fill="#d1c8e4"/>
<rect x="1712.29" y="1214.16" width="23.80" height="23.79" fill="#f5f4f9"/>
<rect x="1735.80" y="1214.16" width="23.80" height="23.79" fill="#f7a997"/>
<rect x="1171.70" y="1237.65" width="23.80" height="23.79" fill="#fde3dc"/>
<rect x="1195.20" y="1237.65" width="23.80" height="23.79" fill="#ffffff"/>
<rect x="1218.71" y="1237.65" width="23.80" height="23.79" fill="#f5f4f9"/>
<rect x="1242.21" y="1237.65" width="23.80" height="23.79" fill="#fde3dc"/>
<rect x="1265.72" y="1237.65" width="23.80" height="23.79" fill="#fde3dc"/>
<rect x="1289.22" y="1237.65" width="23.80" height="23.79" fill="#fde3dc"/>
<rect x="1312.72" y="1237.65" width="23.80" height="23.79" fill="#f5f4f9"/>
<rect x="1336.23" y="1237.65" width="23.80" height="23.79" fill="#fef4f1"/>
<rect x="1359.73" y="1237.65" width="23.80" height="23.79" fill="#fbd3c8"/>
<rect x="1383.24" y="1237.65" width="23.80" height="23.79" fill="#fef4f1"/>
<rect x="1406.74" y="1237.65" width="23.80" height="23.79" fill="#ffffff"/>
<rect x="1430.24" y="1237.65" width="23.80" height="23.79" fill="#ffffff"/>
<rect x="1453.75" y="1237.65" width="23.80" height="23.79" fill="#d1c8e4"/>
<rect x="1477.25" y="1237.65" width="23.80" height="23.79" fill="#e4deef"/>
<rect x="1500.76" y="1237.65" width="23.80" height="23.79" fill="#f5f4f9"/>
<rect x="1524.26" y="1237.65" width="23.80" height="23.79" fill="#e4deef"/>
<rect x="1547.76" y="1237.65" width="23.80" height="23.79" fill="#f5f4f9"/>
<rect x="1571.27" y="1237.65" width="23.80" height="23.79" fill="#bbb2da"/>
<rect x="1594.77" y="1237.65" width="23.80" height="23.79" fill="#d1c8e4"/>
<rect x="1618.28" y="1237.65" width="23.80" height="23.79" fill="#e4deef"/>
<rect x="1641.78" y="1237.65" width="23.80" height="23.79" fill="#f5f4f9"/>
<rect x="1665.28" y="1237.65" width="23.80" height="23.79" fill="#ffffff"/>
<rect x="1688.79" y="1237.65" width="23.80" height="23.79" fill="#d1c8e4"/>
<rect x="1712.29" y="1237.65" width="23.80" height="23.79" fill="#ffffff"/>
<rect x="1735.80" y="1237.65" width="23.80" height="23.79" fill="#f7a997"/>
<rect x="1171.70" y="1261.14" width="23.80" height="23.79" fill="#fef4f1"/>
<rect x="1195.20" y="1261.14" width="23.80" height="23.79" fill="#f5f4f9"/>
<rect x="1218.71" y="1261.14" width="23.80" height="23.79" fill="#e4deef"/>
<rect x="1242.21" y="1261.14" width="23.80" height="23.79" fill="#fde3dc"/>
<rect x="1265.72" y="1261.14" width="23.80" height="23.79" fill="#ffffff"/>
<rect x="1289.22" y="1261.14" width="23.80" height="23.79" fill="#fef4f1"/>
<rect x="1312.72" y="1261.14" width="23.80" height="23.79" fill="#f5f4f9"/>
<rect x="1336.23" y="1261.14" width="23.80" height="23.79" fill="#ffffff"/>
<rect x="1359.73" y="1261.14" width="23.80" height="23.79" fill="#fde3dc"/>
<rect x="1383.24" y="1261.14" width="23.80" height="23.79" fill="#fef4f1"/>
<rect x="1406.74" y="1261.14" width="23.80" height="23.79" fill="#ffffff"/>
<rect x="1430.24" y="1261.14" width="23.80" height="23.79" fill="#fef4f1"/>
<rect x="1453.75" y="1261.14" width="23.80" height="23.79" fill="#d1c8e4"/>
<rect x="1477.25" y="1261.14" width="23.80" height="23.79" fill="#e4deef"/>
<rect x="1500.76" y="1261.14" width="23.80" height="23.79" fill="#e4deef"/>
<rect x="1524.26" y="1261.14" width="23.80" height="23.79" fill="#d1c8e4"/>
<rect x="1547.76" y="1261.14" width="23.80" height="23.79" fill="#e4deef"/>
<rect x="1571.27" y="1261.14" width="23.80" height="23.79" fill="#a69ccf"/>
<rect x="1594.77" y="1261.14" width="23.80" height="23.79" fill="#d1c8e4"/>
<rect x="1618.28" y="1261.14" width="23.80" height="23.79" fill="#bbb2da"/>
<rect x="1641.78" y="1261.14" width="23.80" height="23.79" fill="#f5f4f9"/>
<rect x="1665.28" y="1261.14" width="23.80" height="23.79" fill="#fef4f1"/>
<rect x="1688.79" y="1261.14" width="23.80" height="23.79" fill="#d1c8e4"/>
<rect x="1712.29" y="1261.14" width="23.80" height="23.79" fill="#fef4f1"/>
<rect x="1735.80" y="1261.14" width="23.80" height="23.79" fill="#f48d78"/>
<rect x="1171.70" y="1284.63" width="23.80" height="23.79" fill="#ffffff"/>
<rect x="1195.20" y="1284.63" width="23.80" height="23.79" fill="#ffffff"/>
<rect x="1218.71" y="1284.63" width="23.80" height="23.79" fill="#e4deef"/>
<rect x="1242.21" y="1284.63" width="23.80" height="23.79" fill="#fde3dc"/>
<rect x="1265.72" y="1284.63" width="23.80" height="23.79" fill="#f5f4f9"/>
<rect x="1289.22" y="1284.63" width="23.80" height="23.79" fill="#fef4f1"/>
<rect x="1312.72" y="1284.63" width="23.80" height="23.79" fill="#e4deef"/>
<rect x="1336.23" y="1284.63" width="23.80" height="23.79" fill="#e4deef"/>
<rect x="1359.73" y="1284.63" width="23.80" height="23.79" fill="#fbd3c8"/>
<rect x="1383.24" y="1284.63" width="23.80" height="23.79" fill="#fef4f1"/>
<rect x="1406.74" y="1284.63" width="23.80" height="23.79" fill="#e4deef"/>
<rect x="1430.24" y="1284.63" width="23.80" height="23.79" fill="#f5f4f9"/>
<rect x="1453.75" y="1284.63" width="23.80" height="23.79" fill="#bbb2da"/>
<rect x="1477.25" y="1284.63" width="23.80" height="23.79" fill="#d1c8e4"/>
<rect x="1500.76" y="1284.63" width="23.80" height="23.79" fill="#d1c8e4"/>
<rect x="1524.26" y="1284.63" width="23.80" height="23.79" fill="#d1c8e4"/>
<rect x="1547.76" y="1284.63" width="23.80" height="23.79" fill="#d1c8e4"/>
<rect x="1571.27" y="1284.63" width="23.80" height="23.79" fill="#a69ccf"/>
<rect x="1594.77" y="1284.63" width="23.80" height="23.79" fill="#e4deef"/>
<rect x="1618.28" y="1284.63" width="23.80" height="23.79" fill="#bbb2da"/>
<rect x="1641.78" y="1284.63" width="23.80" height="23.79" fill="#fbd3c8"/>
<rect x="1665.28" y="1284.63" width="23.80" height="23.79" fill="#f9beb0"/>
<rect x="1688.79" y="1284.63" width="23.80" height="23.79" fill="#e4deef"/>
<rect x="1712.29" y="1284.63" width="23.80" height="23.79" fill="#fef4f1"/>
<rect x="1735.80" y="1284.63" width="23.80" height="23.79" fill="#ef6a54"/>
<rect x="1171.70" y="1308.12" width="23.80" height="23.79" fill="#f5f4f9"/>
<rect x="1195.20" y="1308.12" width="23.80" height="23.79" fill="#f5f4f9"/>
<rect x="1218.71" y="1308.12" width="23.80" height="23.79" fill="#e4deef"/>
<rect x="1242.21" y="1308.12" width="23.80" height="23.79" fill="#ffffff"/>
<rect x="1265.72" y="1308.12" width="23.80" height="23.79" fill="#f5f4f9"/>
<rect x="1289.22" y="1308.12" width="23.80" height="23.79" fill="#fef4f1"/>
<rect x="1312.72" y="1308.12" width="23.80" height="23.79" fill="#e4deef"/>
<rect x="1336.23" y="1308.12" width="23.80" height="23.79" fill="#f5f4f9"/>
<rect x="1359.73" y="1308.12" width="23.80" height="23.79" fill="#fef4f1"/>
<rect x="1383.24" y="1308.12" width="23.80" height="23.79" fill="#ffffff"/>
<rect x="1406.74" y="1308.12" width="23.80" height="23.79" fill="#f5f4f9"/>
<rect x="1430.24" y="1308.12" width="23.80" height="23.79" fill="#f5f4f9"/>
<rect x="1453.75" y="1308.12" width="23.80" height="23.79" fill="#d1c8e4"/>
<rect x="1477.25" y="1308.12" width="23.80" height="23.79" fill="#e4deef"/>
<rect x="1500.76" y="1308.12" width="23.80" height="23.79" fill="#f5f4f9"/>
<rect x="1524.26" y="1308.12" width="23.80" height="23.79" fill="#e4deef"/>
<rect x="1547.76" y="1308.12" width="23.80" height="23.79" fill="#e4deef"/>
<rect x="1571.27" y="1308.12" width="23.80" height="23.79" fill="#bbb2da"/>
<rect x="1594.77" y="1308.12" width="23.80" height="23.79" fill="#d1c8e4"/>
<rect x="1618.28" y="1308.12" width="23.80" height="23.79" fill="#bbb2da"/>
<rect x="1641.78" y="1308.12" width="23.80" height="23.79" fill="#ffffff"/>
<rect x="1665.28" y="1308.12" width="23.80" height="23.79" fill="#ffffff"/>
<rect x="1688.79" y="1308.12" width="23.80" height="23.79" fill="#d1c8e4"/>
<rect x="1712.29" y="1308.12" width="23.80" height="23.79" fill="#fde3dc"/>
<rect x="1735.80" y="1308.12" width="23.80" height="23.79" fill="#f48d78"/>
<rect x="1171.70" y="1331.61" width="23.80" height="23.79" fill="#f7a997"/>
<rect x="1195.20" y="1331.61" width="23.80" height="23.79" fill="#f9beb0"/>
<rect x="1218.71" y="1331.61" width="23.80" height="23.79" fill="#fde3dc"/>
<rect x="1242.21" y="1331.61" width="23.80" height="23.79" fill="#fbd3c8"/>
<rect x="1265.72" y="1331.61" width="23.80" height="23.79" fill="#fbd3c8"/>
<rect x="1289.22" y="1331.61" width="23.80" height="23.79" fill="#fbd3c8"/>
<rect x="1312.72" y="1331.61" width="23.80" height="23.79" fill="#e4deef"/>
<rect x="1336.23" y="1331.61" width="23.80" height="23.79" fill="#bbb2da"/>
<rect x="1359.73" y="1331.61" width="23.80" height="23.79" fill="#f9beb0"/>
<rect x="1383.24" y="1331.61" width="23.80" height="23.79" fill="#fde3dc"/>
<rect x="1406.74" y="1331.61" width="23.80" height="23.79" fill="#f5f4f9"/>
<rect x="1430.24" y="1331.61" width="23.80" height="23.79" fill="#e4deef"/>
<rect x="1453.75" y="1331.61" width="23.80" height="23.79" fill="#bbb2da"/>
<rect x="1477.25" y="1331.61" width="23.80" height="23.79" fill="#bbb2da"/>
<rect x="1500.76" y="1331.61" width="23.80" height="23.79" fill="#d1c8e4"/>
<rect x="1524.26" y="1331.61" width="23.80" height="23.79" fill="#bbb2da"/>
<rect x="1547.76" y="1331.61" width="23.80" height="23.79" fill="#a69ccf"/>
<rect x="1571.27" y="1331.61" width="23.80" height="23.79" fill="#5a67b4"/>
<rect x="1594.77" y="1331.61" width="23.80" height="23.79" fill="#5a67b4"/>
<rect x="1618.28" y="1331.61" width="23.80" height="23.79" fill="#3154a7"/>
<rect x="1641.78" y="1331.61" width="23.80" height="23.79" fill="#a69ccf"/>
<rect x="1665.28" y="1331.61" width="23.80" height="23.79" fill="#a69ccf"/>
<rect x="1688.79" y="1331.61" width="23.80" height="23.79" fill="#5a67b4"/>
<rect x="1712.29" y="1331.61" width="23.80" height="23.79" fill="#e4deef"/>
<rect x="1735.80" y="1331.61" width="23.80" height="23.79" fill="#e73828"/>
<rect x="1171.70" y="1355.10" width="23.80" height="23.79" fill="#d1c8e4"/>
<rect x="1195.20" y="1355.10" width="23.80" height="23.79" fill="#bbb2da"/>
<rect x="1218.71" y="1355.10" width="23.80" height="23.79" fill="#bbb2da"/>
<rect x="1242.21" y="1355.10" width="23.80" height="23.79" fill="#e4deef"/>
<rect x="1265.72" y="1355.10" width="23.80" height="23.79" fill="#bbb2da"/>
<rect x="1289.22" y="1355.10" width="23.80" height="23.79" fill="#d1c8e4"/>
<rect x="1312.72" y="1355.10" width="23.80" height="23.79" fill="#a69ccf"/>
<rect x="1336.23" y="1355.10" width="23.80" height="23.79" fill="#d1c8e4"/>
<rect x="1359.73" y="1355.10" width="23.80" height="23.79" fill="#e4deef"/>
<rect x="1383.24" y="1355.10" width="23.80" height="23.79" fill="#e4deef"/>
<rect x="1406.74" y="1355.10" width="23.80" height="23.79" fill="#d1c8e4"/>
<rect x="1430.24" y="1355.10" width="23.80" height="23.79" fill="#e4deef"/>
<rect x="1453.75" y="1355.10" width="23.80" height="23.79" fill="#a69ccf"/>
<rect x="1477.25" y="1355.10" width="23.80" height="23.79" fill="#bbb2da"/>
<rect x="1500.76" y="1355.10" width="23.80" height="23.79" fill="#d1c8e4"/>
<rect x="1524.26" y="1355.10" width="23.80" height="23.79" fill="#d1c8e4"/>
<rect x="1547.76" y="1355.10" width="23.80" height="23.79" fill="#d1c8e4"/>
<rect x="1571.27" y="1355.10" width="23.80" height="23.79" fill="#8782c3"/>
<rect x="1594.77" y="1355.10" width="23.80" height="23.79" fill="#a69ccf"/>
<rect x="1618.28" y="1355.10" width="23.80" height="23.79" fill="#a69ccf"/>
<rect x="1641.78" y="1355.10" width="23.80" height="23.79" fill="#fef4f1"/>
<rect x="1665.28" y="1355.10" width="23.80" height="23.79" fill="#fde3dc"/>
<rect x="1688.79" y="1355.10" width="23.80" height="23.79" fill="#d1c8e4"/>
<rect x="1712.29" y="1355.10" width="23.80" height="23.79" fill="#e4deef"/>
<rect x="1735.80" y="1355.10" width="23.80" height="23.79" fill="#e4deef"/>
<rect x="1171.70" y="1378.59" width="23.80" height="23.79" fill="#f5f4f9"/>
<rect x="1195.20" y="1378.59" width="23.80" height="23.79" fill="#d1c8e4"/>
<rect x="1218.71" y="1378.59" width="23.80" height="23.79" fill="#d1c8e4"/>
<rect x="1242.21" y="1378.59" width="23.80" height="23.79" fill="#fde3dc"/>
<rect x="1265.72" y="1378.59" width="23.80" height="23.79" fill="#d1c8e4"/>
<rect x="1289.22" y="1378.59" width="23.80" height="23.79" fill="#f5f4f9"/>
<rect x="1312.72" y="1378.59" width="23.80" height="23.79" fill="#d1c8e4"/>
<rect x="1336.23" y="1378.59" width="23.80" height="23.79" fill="#f5f4f9"/>
<rect x="1359.73" y="1378.59" width="23.80" height="23.79" fill="#ffffff"/>
<rect x="1383.24" y="1378.59" width="23.80" height="23.79" fill="#ffffff"/>
<rect x="1406.74" y="1378.59" width="23.80" height="23.79" fill="#e4deef"/>
<rect x="1430.24" y="1378.59" width="23.80" height="23.79" fill="#fef4f1"/>
<rect x="1453.75" y="1378.59" width="23.80" height="23.79" fill="#bbb2da"/>
<rect x="1477.25" y="1378.59" width="23.80" height="23.79" fill="#d1c8e4"/>
<rect x="1500.76" y="1378.59" width="23.80" height="23.79" fill="#d1c8e4"/>
<rect x="1524.26" y="1378.59" width="23.80" height="23.79" fill="#d1c8e4"/>
<rect x="1547.76" y="1378.59" width="23.80" height="23.79" fill="#bbb2da"/>
<rect x="1571.27" y="1378.59" width="23.80" height="23.79" fill="#a69ccf"/>
<rect x="1594.77" y="1378.59" width="23.80" height="23.79" fill="#a69ccf"/>
<rect x="1618.28" y="1378.59" width="23.80" height="23.79" fill="#8782c3"/>
<rect x="1641.78" y="1378.59" width="23.80" height="23.79" fill="#e4deef"/>
<rect x="1665.28" y="1378.59" width="23.80" height="23.79" fill="#fef4f1"/>
<rect x="1688.79" y="1378.59" width="23.80" height="23.79" fill="#bbb2da"/>
<rect x="1712.29" y="1378.59" width="23.80" height="23.79" fill="#fef4f1"/>
<rect x="1735.80" y="1378.59" width="23.80" height="23.79" fill="#fef4f1"/>
<rect x="1171.70" y="1402.08" width="23.80" height="23.79" fill="#bbb2da"/>
<rect x="1195.20" y="1402.08" width="23.80" height="23.79" fill="#a69ccf"/>
<rect x="1218.71" y="1402.08" width="23.80" height="23.79" fill="#a69ccf"/>
<rect x="1242.21" y="1402.08" width="23.80" height="23.79" fill="#e4deef"/>
<rect x="1265.72" y="1402.08" width="23.80" height="23.79" fill="#bbb2da"/>
<rect x="1289.22" y="1402.08" width="23.80" height="23.79" fill="#d1c8e4"/>
<rect x="1312.72" y="1402.08" width="23.80" height="23.79" fill="#bbb2da"/>
<rect x="1336.23" y="1402.08" width="23.80" height="23.79" fill="#d1c8e4"/>
<rect x="1359.73" y="1402.08" width="23.80" height="23.79" fill="#d1c8e4"/>
<rect x="1383.24" y="1402.08" width="23.80" height="23.79" fill="#d1c8e4"/>
<rect x="1406.74" y="1402.08" width="23.80" height="23.79" fill="#bbb2da"/>
<rect x="1430.24" y="1402.08" width="23.80" height="23.79" fill="#d1c8e4"/>
<rect x="1453.75" y="1402.08" width="23.80" height="23.79" fill="#a69ccf"/>
<rect x="1477.25" y="1402.08" width="23.80" height="23.79" fill="#bbb2da"/>
<rect x="1500.76" y="1402.08" width="23.80" height="23.79" fill="#bbb2da"/>
<rect x="1524.26" y="1402.08" width="23.80" height="23.79" fill="#bbb2da"/>
<rect x="1547.76" y="1402.08" width="23.80" height="23.79" fill="#bbb2da"/>
<rect x="1571.27" y="1402.08" width="23.80" height="23.79" fill="#8782c3"/>
<rect x="1594.77" y="1402.08" width="23.80" height="23.79" fill="#a69ccf"/>
<rect x="1618.28" y="1402.08" width="23.80" height="23.79" fill="#8782c3"/>
<rect x="1641.78" y="1402.08" width="23.80" height="23.79" fill="#e4deef"/>
<rect x="1665.28" y="1402.08" width="23.80" height="23.79" fill="#fef4f1"/>
<rect x="1688.79" y="1402.08" width="23.80" height="23.79" fill="#d1c8e4"/>
<rect x="1712.29" y="1402.08" width="23.80" height="23.79" fill="#f5f4f9"/>
<rect x="1735.80" y="1402.08" width="23.80" height="23.79" fill="#fde3dc"/>
<rect x="1171.70" y="1425.57" width="23.80" height="23.79" fill="#f5f4f9"/>
<rect x="1195.20" y="1425.57" width="23.80" height="23.79" fill="#e4deef"/>
<rect x="1218.71" y="1425.57" width="23.80" height="23.79" fill="#e4deef"/>
<rect x="1242.21" y="1425.57" width="23.80" height="23.79" fill="#fde3dc"/>
<rect x="1265.72" y="1425.57" width="23.80" height="23.79" fill="#e4deef"/>
<rect x="1289.22" y="1425.57" width="23.80" height="23.79" fill="#fef4f1"/>
<rect x="1312.72" y="1425.57" width="23.80" height="23.79" fill="#f5f4f9"/>
<rect x="1336.23" y="1425.57" width="23.80" height="23.79" fill="#fde3dc"/>
<rect x="1359.73" y="1425.57" width="23.80" height="23.79" fill="#fbd3c8"/>
<rect x="1383.24" y="1425.57" width="23.80" height="23.79" fill="#ffffff"/>
<rect x="1406.74" y="1425.57" width="23.80" height="23.79" fill="#f5f4f9"/>
<rect x="1430.24" y="1425.57" width="23.80" height="23.79" fill="#fbd3c8"/>
<rect x="1453.75" y="1425.57" width="23.80" height="23.79" fill="#bbb2da"/>
<rect x="1477.25" y="1425.57" width="23.80" height="23.79" fill="#d1c8e4"/>
<rect x="1500.76" y="1425.57" width="23.80" height="23.79" fill="#e4deef"/>
<rect x="1524.26" y="1425.57" width="23.80" height="23.79" fill="#d1c8e4"/>
<rect x="1547.76" y="1425.57" width="23.80" height="23.79" fill="#d1c8e4"/>
<rect x="1571.27" y="1425.57" width="23.80" height="23.79" fill="#a69ccf"/>
<rect x="1594.77" y="1425.57" width="23.80" height="23.79" fill="#a69ccf"/>
<rect x="1618.28" y="1425.57" width="23.80" height="23.79" fill="#8782c3"/>
<rect x="1641.78" y="1425.57" width="23.80" height="23.79" fill="#e4deef"/>
<rect x="1665.28" y="1425.57" width="23.80" height="23.79" fill="#e4deef"/>
<rect x="1688.79" y="1425.57" width="23.80" height="23.79" fill="#bbb2da"/>
<rect x="1712.29" y="1425.57" width="23.80" height="23.79" fill="#fde3dc"/>
<rect x="1735.80" y="1425.57" width="23.80" height="23.79" fill="#fde3dc"/>
<rect x="1171.70" y="1449.06" width="23.80" height="23.79" fill="#fef4f1"/>
<rect x="1195.20" y="1449.06" width="23.80" height="23.79" fill="#f5f4f9"/>
<rect x="1218.71" y="1449.06" width="23.80" height="23.79" fill="#d1c8e4"/>
<rect x="1242.21" y="1449.06" width="23.80" height="23.79" fill="#d1c8e4"/>
<rect x="1265.72" y="1449.06" width="23.80" height="23.79" fill="#e4deef"/>
<rect x="1289.22" y="1449.06" width="23.80" height="23.79" fill="#e4deef"/>
<rect x="1312.72" y="1449.06" width="23.80" height="23.79" fill="#e4deef"/>
<rect x="1336.23" y="1449.06" width="23.80" height="23.79" fill="#e4deef"/>
<rect x="1359.73" y="1449.06" width="23.80" height="23.79" fill="#f9beb0"/>
<rect x="1383.24" y="1449.06" width="23.80" height="23.79" fill="#fef4f1"/>
<rect x="1406.74" y="1449.06" width="23.80" height="23.79" fill="#d1c8e4"/>
<rect x="1430.24" y="1449.06" width="23.80" height="23.79" fill="#e4deef"/>
<rect x="1453.75" y="1449.06" width="23.80" height="23.79" fill="#a69ccf"/>
<rect x="1477.25" y="1449.06" width="23.80" height="23.79" fill="#bbb2da"/>
<rect x="1500.76" y="1449.06" width="23.80" height="23.79" fill="#d1c8e4"/>
<rect x="1524.26" y="1449.06" width="23.80" height="23.79" fill="#d1c8e4"/>
<rect x="1547.76" y="1449.06" width="23.80" height="23.79" fill="#d1c8e4"/>
<rect x="1571.27" y="1449.06" width="23.80" height="23.79" fill="#8782c3"/>
<rect x="1594.77" y="1449.06" width="23.80" height="23.79" fill="#a69ccf"/>
<rect x="1618.28" y="1449.06" width="23.80" height="23.79" fill="#3154a7"/>
<rect x="1641.78" y="1449.06" width="23.80" height="23.79" fill="#f5f4f9"/>
<rect x="1665.28" y="1449.06" width="23.80" height="23.79" fill="#f5f4f9"/>
<rect x="1688.79" y="1449.06" width="23.80" height="23.79" fill="#bbb2da"/>
<rect x="1712.29" y="1449.06" width="23.80" height="23.79" fill="#d1c8e4"/>
<rect x="1735.80" y="1449.06" width="23.80" height="23.79" fill="#f48d78"/>
<path d="M1171.20 885.30H1759.80M1171.20 908.79H1759.80M1171.20 932.28H1759.80M1171.20 955.77H1759.80M1171.20 979.26H1759.80M1171.20 1002.75H1759.80M1171.20 1026.24H1759.80M1171.20 1049.73H1759.80M1171.20 1073.22H1759.80M1171.20 1096.71H1759.80M1171.20 1120.20H1759.80M1171.20 1143.69H1759.80M1171.20 1167.18H1759.80M1171.20 1190.67H1759.80M1171.20 1214.16H1759.80M1171.20 1237.65H1759.80M1171.20 1261.14H1759.80M1171.20 1284.63H1759.80M1171.20 1308.12H1759.80M1171.20 1331.61H1759.80M1171.20 1355.10H1759.80M1171.20 1378.59H1759.80M1171.20 1402.08H1759.80M1171.20 1425.57H1759.80M1171.20 1449.06H1759.80M1171.20 1472.55H1759.80M1171.70 884.80V1473.05M1195.20 884.80V1473.05M1218.71 884.80V1473.05M1242.21 884.80V1473.05M1265.72 884.80V1473.05M1289.22 884.80V1473.05M1312.72 884.80V1473.05M1336.23 884.80V1473.05M1359.73 884.80V1473.05M1383.24 884.80V1473.05M1406.74 884.80V1473.05M1430.24 884.80V1473.05M1453.75 884.80V1473.05M1477.25 884.80V1473.05M1500.76 884.80V1473.05M1524.26 884.80V1473.05M1547.76 884.80V1473.05M1571.27 884.80V1473.05M1594.77 884.80V1473.05M1618.28 884.80V1473.05M1641.78 884.80V1473.05M1665.28 884.80V1473.05M1688.79 884.80V1473.05M1712.29 884.80V1473.05M1735.80 884.80V1473.05M1759.30 884.80V1473.05" stroke="#2b2b2b" stroke-width="1.00" fill="none"/>
<text transform="translate(1160.30 902.75)" x="-100.30" y="0" font-size="20.30" fill="#231f20" textLength="100.30" lengthAdjust="spacingAndGlyphs">CD4_naive</text>
<text transform="translate(1160.30 926.24)" x="-129.20" y="0" font-size="20.30" fill="#231f20" textLength="129.20" lengthAdjust="spacingAndGlyphs">CD4_memory</text>
<text transform="translate(1160.30 949.73)" x="-67.80" y="0" font-size="20.30" fill="#231f20" textLength="67.80" lengthAdjust="spacingAndGlyphs">CD4_Ef</text>
<text transform="translate(1160.30 973.22)" x="-43.10" y="0" font-size="20.30" fill="#231f20" textLength="43.10" lengthAdjust="spacingAndGlyphs">Treg</text>
<text transform="translate(1160.30 996.71)" x="-100.30" y="0" font-size="20.30" fill="#231f20" textLength="100.30" lengthAdjust="spacingAndGlyphs">CD8_naive</text>
<text transform="translate(1160.30 1020.19)" x="-129.20" y="0" font-size="20.30" fill="#231f20" textLength="129.20" lengthAdjust="spacingAndGlyphs">CD8_memory</text>
<text transform="translate(1160.30 1043.68)" x="-67.80" y="0" font-size="20.30" fill="#231f20" textLength="67.80" lengthAdjust="spacingAndGlyphs">CD8_Ef</text>
<text transform="translate(1160.30 1067.17)" x="-37.70" y="0" font-size="20.30" fill="#231f20" textLength="37.70" lengthAdjust="spacingAndGlyphs">NKT</text>
<text transform="translate(1160.30 1090.66)" x="-47.60" y="0" font-size="20.30" fill="#231f20" textLength="47.60" lengthAdjust="spacingAndGlyphs">MAIT</text>
<text transform="translate(1160.30 1114.15)" x="-36.40" y="0" font-size="20.30" fill="#231f20" textLength="36.40" lengthAdjust="spacingAndGlyphs">gdT</text>
<text transform="translate(1160.30 1137.64)" x="-47.30" y="0" font-size="20.30" fill="#231f20" textLength="47.30" lengthAdjust="spacingAndGlyphs">Pro T</text>
<text transform="translate(1160.30 1161.13)" x="-26.10" y="0" font-size="20.30" fill="#231f20" textLength="26.10" lengthAdjust="spacingAndGlyphs">NK</text>
<text transform="translate(1160.30 1173.22)" x="-35.60" y="0" font-size="13.00" fill="#231f20" textLength="35.60" lengthAdjust="spacingAndGlyphs">bright</text>
<text transform="translate(1122.90 1184.62)" x="-88.00" y="0" font-size="20.30" fill="#231f20" textLength="88.00" lengthAdjust="spacingAndGlyphs">NK_CD56</text>
<text transform="translate(1160.30 1208.12)" x="-136.50" y="0" font-size="20.30" fill="#231f20" textLength="136.50" lengthAdjust="spacingAndGlyphs">cMono_S100A</text>
<text transform="translate(1160.30 1231.61)" x="-111.30" y="0" font-size="20.30" fill="#231f20" textLength="111.30" lengthAdjust="spacingAndGlyphs">cMono_IL1B</text>
<text transform="translate(1160.30 1255.10)" x="-127.10" y="0" font-size="20.30" fill="#231f20" textLength="127.10" lengthAdjust="spacingAndGlyphs">cMono_CCL3</text>
<text transform="translate(1160.30 1278.59)" x="-78.40" y="0" font-size="20.30" fill="#231f20" textLength="78.40" lengthAdjust="spacingAndGlyphs">intMono</text>
<text transform="translate(1160.30 1302.08)" x="-77.70" y="0" font-size="20.30" fill="#231f20" textLength="77.70" lengthAdjust="spacingAndGlyphs">ncMono</text>
<text transform="translate(1160.30 1325.57)" x="-40.00" y="0" font-size="20.30" fill="#231f20" textLength="40.00" lengthAdjust="spacingAndGlyphs">cDC</text>
<text transform="translate(1160.30 1349.06)" x="-40.50" y="0" font-size="20.30" fill="#ec1c24" textLength="40.50" lengthAdjust="spacingAndGlyphs">pDC</text>
<text transform="translate(1160.30 1372.54)" x="-71.00" y="0" font-size="20.30" fill="#231f20" textLength="71.00" lengthAdjust="spacingAndGlyphs">B_naive</text>
<text transform="translate(1160.30 1396.04)" x="-100.00" y="0" font-size="20.30" fill="#231f20" textLength="100.00" lengthAdjust="spacingAndGlyphs">B_memory</text>
<text transform="translate(1160.30 1419.52)" x="-109.00" y="0" font-size="20.30" fill="#231f20" textLength="109.00" lengthAdjust="spacingAndGlyphs">B_activated</text>
<text transform="translate(1160.30 1443.02)" x="-89.20" y="0" font-size="20.30" fill="#231f20" textLength="89.20" lengthAdjust="spacingAndGlyphs">B_plasma</text>
<text transform="translate(1160.30 1466.50)" x="-71.30" y="0" font-size="20.30" fill="#231f20" textLength="71.30" lengthAdjust="spacingAndGlyphs">Platelet</text>
<text transform="translate(1190.45 1482.95) rotate(-90)" x="-100.30" y="0" font-size="20.30" fill="#231f20" textLength="100.30" lengthAdjust="spacingAndGlyphs">CD4_naive</text>
<text transform="translate(1213.96 1482.95) rotate(-90)" x="-129.20" y="0" font-size="20.30" fill="#231f20" textLength="129.20" lengthAdjust="spacingAndGlyphs">CD4_memory</text>
<text transform="translate(1237.46 1482.95) rotate(-90)" x="-67.80" y="0" font-size="20.30" fill="#231f20" textLength="67.80" lengthAdjust="spacingAndGlyphs">CD4_Ef</text>
<text transform="translate(1260.96 1482.95) rotate(-90)" x="-43.10" y="0" font-size="20.30" fill="#231f20" textLength="43.10" lengthAdjust="spacingAndGlyphs">Treg</text>
<text transform="translate(1284.47 1482.95) rotate(-90)" x="-100.30" y="0" font-size="20.30" fill="#231f20" textLength="100.30" lengthAdjust="spacingAndGlyphs">CD8_naive</text>
<text transform="translate(1307.97 1482.95) rotate(-90)" x="-129.20" y="0" font-size="20.30" fill="#231f20" textLength="129.20" lengthAdjust="spacingAndGlyphs">CD8_memory</text>
<text transform="translate(1331.48 1482.95) rotate(-90)" x="-67.80" y="0" font-size="20.30" fill="#231f20" textLength="67.80" lengthAdjust="spacingAndGlyphs">CD8_Ef</text>
<text transform="translate(1354.98 1482.95) rotate(-90)" x="-37.70" y="0" font-size="20.30" fill="#231f20" textLength="37.70" lengthAdjust="spacingAndGlyphs">NKT</text>
<text transform="translate(1378.48 1482.95) rotate(-90)" x="-47.60" y="0" font-size="20.30" fill="#231f20" textLength="47.60" lengthAdjust="spacingAndGlyphs">MAIT</text>
<text transform="translate(1401.99 1482.95) rotate(-90)" x="-36.40" y="0" font-size="20.30" fill="#231f20" textLength="36.40" lengthAdjust="spacingAndGlyphs">gdT</text>
<text transform="translate(1425.49 1482.95) rotate(-90)" x="-47.30" y="0" font-size="20.30" fill="#231f20" textLength="47.30" lengthAdjust="spacingAndGlyphs">Pro T</text>
<text transform="translate(1449.00 1482.95) rotate(-90)" x="-26.10" y="0" font-size="20.30" fill="#231f20" textLength="26.10" lengthAdjust="spacingAndGlyphs">NK</text>
<text transform="translate(1461.10 1482.95) rotate(-90)" x="-35.60" y="0" font-size="13.00" fill="#231f20" textLength="35.60" lengthAdjust="spacingAndGlyphs">bright</text>
<text transform="translate(1472.50 1520.35) rotate(-90)" x="-88.00" y="0" font-size="20.30" fill="#231f20" textLength="88.00" lengthAdjust="spacingAndGlyphs">NK_CD56</text>
<text transform="translate(1496.00 1482.95) rotate(-90)" x="-136.50" y="0" font-size="20.30" fill="#231f20" textLength="136.50" lengthAdjust="spacingAndGlyphs">cMono_S100A</text>
<text transform="translate(1519.51 1482.95) rotate(-90)" x="-111.30" y="0" font-size="20.30" fill="#231f20" textLength="111.30" lengthAdjust="spacingAndGlyphs">cMono_IL1B</text>
<text transform="translate(1543.01 1482.95) rotate(-90)" x="-127.10" y="0" font-size="20.30" fill="#231f20" textLength="127.10" lengthAdjust="spacingAndGlyphs">cMono_CCL3</text>
<text transform="translate(1566.52 1482.95) rotate(-90)" x="-78.40" y="0" font-size="20.30" fill="#231f20" textLength="78.40" lengthAdjust="spacingAndGlyphs">intMono</text>
<text transform="translate(1590.02 1482.95) rotate(-90)" x="-77.70" y="0" font-size="20.30" fill="#ec1c24" textLength="77.70" lengthAdjust="spacingAndGlyphs">ncMono</text>
<text transform="translate(1613.52 1482.95) rotate(-90)" x="-40.00" y="0" font-size="20.30" fill="#231f20" textLength="40.00" lengthAdjust="spacingAndGlyphs">cDC</text>
<text transform="translate(1637.03 1482.95) rotate(-90)" x="-40.50" y="0" font-size="20.30" fill="#ec1c24" textLength="40.50" lengthAdjust="spacingAndGlyphs">pDC</text>
<text transform="translate(1660.53 1482.95) rotate(-90)" x="-71.00" y="0" font-size="20.30" fill="#231f20" textLength="71.00" lengthAdjust="spacingAndGlyphs">B_naive</text>
<text transform="translate(1684.04 1482.95) rotate(-90)" x="-100.00" y="0" font-size="20.30" fill="#231f20" textLength="100.00" lengthAdjust="spacingAndGlyphs">B_memory</text>
<text transform="translate(1707.54 1482.95) rotate(-90)" x="-109.00" y="0" font-size="20.30" fill="#231f20" textLength="109.00" lengthAdjust="spacingAndGlyphs">B_activated</text>
<text transform="translate(1731.04 1482.95) rotate(-90)" x="-89.20" y="0" font-size="20.30" fill="#231f20" textLength="89.20" lengthAdjust="spacingAndGlyphs">B_plasma</text>
<text transform="translate(1754.55 1482.95) rotate(-90)" x="-71.30" y="0" font-size="20.30" fill="#ec1c24" textLength="71.30" lengthAdjust="spacingAndGlyphs">Platelet</text>
<text x="1583.02" y="910.54" font-size="28.0" fill="#1a1a1a" text-anchor="middle">*</text>
<text x="1630.03" y="910.54" font-size="28.0" fill="#1a1a1a" text-anchor="middle">*</text>
<text x="1583.02" y="934.03" font-size="28.0" fill="#1a1a1a" text-anchor="middle">*</text>
<text x="1630.03" y="934.03" font-size="28.0" fill="#1a1a1a" text-anchor="middle">*</text>
<text x="1583.02" y="957.52" font-size="28.0" fill="#1a1a1a" text-anchor="middle">*</text>
<text x="1630.03" y="957.52" font-size="28.0" fill="#1a1a1a" text-anchor="middle">*</text>
<text x="1747.55" y="957.52" font-size="28.0" fill="#1a1a1a" text-anchor="middle">*</text>
<text x="1630.03" y="981.01" font-size="28.0" fill="#1a1a1a" text-anchor="middle">*</text>
<text x="1747.55" y="981.01" font-size="28.0" fill="#1a1a1a" text-anchor="middle">*</text>
<text x="1583.02" y="1004.50" font-size="28.0" fill="#1a1a1a" text-anchor="middle">*</text>
<text x="1630.03" y="1004.50" font-size="28.0" fill="#1a1a1a" text-anchor="middle">*</text>
<text x="1630.03" y="1027.99" font-size="28.0" fill="#1a1a1a" text-anchor="middle">*</text>
<text x="1747.55" y="1027.99" font-size="28.0" fill="#1a1a1a" text-anchor="middle">*</text>
<text x="1583.02" y="1051.48" font-size="28.0" fill="#1a1a1a" text-anchor="middle">*</text>
<text x="1630.03" y="1051.48" font-size="28.0" fill="#1a1a1a" text-anchor="middle">*</text>
<text x="1747.55" y="1051.48" font-size="28.0" fill="#1a1a1a" text-anchor="middle">*</text>
<text x="1583.02" y="1074.97" font-size="28.0" fill="#1a1a1a" text-anchor="middle">*</text>
<text x="1630.03" y="1074.97" font-size="28.0" fill="#1a1a1a" text-anchor="middle">*</text>
<text x="1747.55" y="1074.97" font-size="28.0" fill="#1a1a1a" text-anchor="middle">*</text>
<text x="1583.02" y="1098.46" font-size="28.0" fill="#1a1a1a" text-anchor="middle">*</text>
<text x="1630.03" y="1098.46" font-size="28.0" fill="#1a1a1a" text-anchor="middle">*</text>
<text x="1630.03" y="1121.95" font-size="28.0" fill="#1a1a1a" text-anchor="middle">*</text>
<text x="1747.55" y="1121.95" font-size="28.0" fill="#1a1a1a" text-anchor="middle">*</text>
<text x="1583.02" y="1145.44" font-size="28.0" fill="#1a1a1a" text-anchor="middle">*</text>
<text x="1606.52" y="1145.44" font-size="28.0" fill="#1a1a1a" text-anchor="middle">*</text>
<text x="1630.03" y="1145.44" font-size="28.0" fill="#1a1a1a" text-anchor="middle">*</text>
<text x="1747.55" y="1145.44" font-size="28.0" fill="#1a1a1a" text-anchor="middle">*</text>
<text x="1583.02" y="1168.93" font-size="28.0" fill="#1a1a1a" text-anchor="middle">*</text>
<text x="1630.03" y="1168.93" font-size="28.0" fill="#1a1a1a" text-anchor="middle">*</text>
<text x="1700.54" y="1168.93" font-size="28.0" fill="#1a1a1a" text-anchor="middle">*</text>
<text x="1465.50" y="1192.42" font-size="28.0" fill="#1a1a1a" text-anchor="middle">*</text>
<text x="1583.02" y="1192.42" font-size="28.0" fill="#1a1a1a" text-anchor="middle">*</text>
<text x="1606.52" y="1192.42" font-size="28.0" fill="#1a1a1a" text-anchor="middle">*</text>
<text x="1630.03" y="1192.42" font-size="28.0" fill="#1a1a1a" text-anchor="middle">*</text>
<text x="1747.55" y="1286.38" font-size="28.0" fill="#1a1a1a" text-anchor="middle">*</text>
<text x="1747.55" y="1309.88" font-size="28.0" fill="#1a1a1a" text-anchor="middle">*</text>
<text x="1747.55" y="1333.37" font-size="28.0" fill="#1a1a1a" text-anchor="middle">*</text>
<text x="1559.52" y="1356.86" font-size="28.0" fill="#1a1a1a" text-anchor="middle">*</text>
<text x="1583.02" y="1356.86" font-size="28.0" fill="#1a1a1a" text-anchor="middle">*</text>
<text x="1606.52" y="1356.86" font-size="28.0" fill="#1a1a1a" text-anchor="middle">*</text>
<text x="1630.03" y="1356.86" font-size="28.0" fill="#1a1a1a" text-anchor="middle">*</text>
<text x="1677.04" y="1356.86" font-size="28.0" fill="#1a1a1a" text-anchor="middle">*</text>
<text x="1700.54" y="1356.86" font-size="28.0" fill="#1a1a1a" text-anchor="middle">*</text>
<text x="1747.55" y="1356.86" font-size="28.0" fill="#1a1a1a" text-anchor="middle">*</text>
<text x="1583.02" y="1380.34" font-size="28.0" fill="#1a1a1a" text-anchor="middle">*</text>
<text x="1630.03" y="1403.84" font-size="28.0" fill="#1a1a1a" text-anchor="middle">*</text>
<text x="1465.50" y="1427.32" font-size="28.0" fill="#1a1a1a" text-anchor="middle">*</text>
<text x="1583.02" y="1427.32" font-size="28.0" fill="#1a1a1a" text-anchor="middle">*</text>
<text x="1630.03" y="1427.32" font-size="28.0" fill="#1a1a1a" text-anchor="middle">*</text>
<text x="1606.52" y="1450.82" font-size="28.0" fill="#1a1a1a" text-anchor="middle">*</text>
<text x="1630.03" y="1450.82" font-size="28.0" fill="#1a1a1a" text-anchor="middle">*</text>
<text x="1583.02" y="1474.30" font-size="28.0" fill="#1a1a1a" text-anchor="middle">*</text>
<text x="1630.03" y="1474.30" font-size="28.0" fill="#1a1a1a" text-anchor="middle">*</text>
<text x="1747.55" y="1474.30" font-size="28.0" fill="#1a1a1a" text-anchor="middle">*</text>
<text x="980.5" y="863.0" font-size="39.5" font-weight="bold" fill="#231f20" stroke="#231f20" stroke-width="1.1" textLength="24.4" lengthAdjust="spacingAndGlyphs">c</text>
<text transform="translate(1464.70 870.50)" x="-229.50" y="0" font-size="24.60" fill="#231f20" textLength="459.00" lengthAdjust="spacingAndGlyphs">Severe COVID-19 vs moderate COVID-19</text>
<text transform="translate(1465.00 1656.00)" x="-235.50" y="0" font-size="23.20" fill="#231f20" textLength="471.00" lengthAdjust="spacingAndGlyphs">Cell-type expressing receptor (receiving)</text>
<text transform="translate(1001.30 1178.00) rotate(-90)" x="-214.40" y="0" font-size="23.20" fill="#231f20" textLength="428.80" lengthAdjust="spacingAndGlyphs">Cell-type expressing ligand (sending)</text>
<text transform="translate(1773.20 1059.90)" x="0.00" y="0" font-size="20.30" fill="#231f20" textLength="68.59" lengthAdjust="spacingAndGlyphs">Severe</text>
<text transform="translate(1773.20 1084.60)" x="0.00" y="0" font-size="20.30" fill="#231f20" textLength="117.42" lengthAdjust="spacingAndGlyphs">upregulated</text>
<rect x="1799.80" y="1101.5" width="16.3" height="157.9" fill="url(#gd)" stroke="#2b2b2b" stroke-width="1"/>
<path d="M1800.30 1113.30h3M1815.60 1113.30h-3" stroke="#fff" stroke-width="1" opacity="0.85"/>
<path d="M1800.30 1141.10h3M1815.60 1141.10h-3" stroke="#fff" stroke-width="1" opacity="0.85"/>
<path d="M1800.30 1219.60h3M1815.60 1219.60h-3" stroke="#fff" stroke-width="1" opacity="0.85"/>
<path d="M1800.30 1247.80h3M1815.60 1247.80h-3" stroke="#fff" stroke-width="1" opacity="0.85"/>
<text transform="translate(1826.60 1120.30)" x="0.00" y="0" font-size="20.30" fill="#231f20" textLength="12.42" lengthAdjust="spacingAndGlyphs">1</text>
<text transform="translate(1826.60 1147.40)" x="0.00" y="0" font-size="20.30" fill="#231f20" textLength="29.26" lengthAdjust="spacingAndGlyphs">log</text>
<text transform="translate(1856.36 1151.90)" x="0.00" y="0" font-size="12.50" fill="#231f20" textLength="7.65" lengthAdjust="spacingAndGlyphs">2</text>
<text transform="translate(1864.31 1147.40)" x="0.00" y="0" font-size="20.30" fill="#231f20" textLength="41.74" lengthAdjust="spacingAndGlyphs">(1.5)</text>
<text transform="translate(1826.60 1187.40)" x="0.00" y="0" font-size="20.30" fill="#231f20" textLength="12.42" lengthAdjust="spacingAndGlyphs">0</text>
<text transform="translate(1826.60 1225.90)" x="0.00" y="0" font-size="20.30" fill="#231f20" textLength="29.26" lengthAdjust="spacingAndGlyphs">log</text>
<text transform="translate(1856.36 1230.40)" x="0.00" y="0" font-size="12.50" fill="#231f20" textLength="7.65" lengthAdjust="spacingAndGlyphs">2</text>
<text transform="translate(1864.31 1225.90)" x="0.00" y="0" font-size="20.30" fill="#231f20" textLength="41.74" lengthAdjust="spacingAndGlyphs">(1.5)</text>
<text transform="translate(1826.60 1254.80)" x="0.00" y="0" font-size="20.30" fill="#231f20" textLength="12.42" lengthAdjust="spacingAndGlyphs">1</text>
<g transform="translate(1786.20 1217.5) rotate(-90)">
<text transform="translate(0.00 0.00)" x="0.00" y="0" font-size="20.30" fill="#231f20" textLength="29.26" lengthAdjust="spacingAndGlyphs">log</text>
<text transform="translate(29.76 4.50)" x="0.00" y="0" font-size="12.50" fill="#231f20" textLength="7.65" lengthAdjust="spacingAndGlyphs">2</text>
<text transform="translate(37.71 0.00)" x="0.00" y="0" font-size="20.30" fill="#231f20" textLength="40.58" lengthAdjust="spacingAndGlyphs">(FC)</text>
</g>
<text transform="translate(1773.20 1285.30)" x="0.00" y="0" font-size="20.30" fill="#231f20" textLength="68.59" lengthAdjust="spacingAndGlyphs">Severe</text>
<text transform="translate(1773.20 1309.90)" x="0.00" y="0" font-size="20.30" fill="#231f20" textLength="145.84" lengthAdjust="spacingAndGlyphs">downregulated</text>
<text x="0.0" y="1710.5" font-size="39.5" font-weight="bold" fill="#231f20" stroke="#231f20" stroke-width="1.1" textLength="25.8" lengthAdjust="spacingAndGlyphs">d</text>
<rect x="196.50" y="1758.70" width="23.93" height="23.79" fill="#ffffff"/>
<rect x="220.13" y="1758.70" width="23.93" height="23.79" fill="#ffffff"/>
<rect x="243.76" y="1758.70" width="23.93" height="23.79" fill="#ffffff"/>
<rect x="196.50" y="1782.19" width="23.93" height="23.79" fill="#fffcfb"/>
<rect x="220.13" y="1782.19" width="23.93" height="23.79" fill="#fffcfb"/>
<rect x="243.76" y="1782.19" width="23.93" height="23.79" fill="#fffcfb"/>
<rect x="196.50" y="1805.68" width="23.93" height="23.79" fill="#f7a997"/>
<rect x="220.13" y="1805.68" width="23.93" height="23.79" fill="#f7a997"/>
<rect x="243.76" y="1805.68" width="23.93" height="23.79" fill="#f69b87"/>
<rect x="196.50" y="1829.18" width="23.93" height="23.79" fill="#fffdfc"/>
<rect x="220.13" y="1829.18" width="23.93" height="23.79" fill="#ffffff"/>
<rect x="243.76" y="1829.18" width="23.93" height="23.79" fill="#fffdfc"/>
<rect x="196.50" y="1852.67" width="23.93" height="23.79" fill="#ffffff"/>
<rect x="220.13" y="1852.67" width="23.93" height="23.79" fill="#ffffff"/>
<rect x="243.76" y="1852.67" width="23.93" height="23.79" fill="#ffffff"/>
<rect x="196.50" y="1876.16" width="23.93" height="23.79" fill="#fac9bc"/>
<rect x="220.13" y="1876.16" width="23.93" height="23.79" fill="#fac9bc"/>
<rect x="243.76" y="1876.16" width="23.93" height="23.79" fill="#fac9bc"/>
<rect x="196.50" y="1899.65" width="23.93" height="23.79" fill="#f69b87"/>
<rect x="220.13" y="1899.65" width="23.93" height="23.79" fill="#f48d78"/>
<rect x="243.76" y="1899.65" width="23.93" height="23.79" fill="#f17c66"/>
<rect x="196.50" y="1923.14" width="23.93" height="23.79" fill="#ef6a54"/>
<rect x="220.13" y="1923.14" width="23.93" height="23.79" fill="#f17c66"/>
<rect x="243.76" y="1923.14" width="23.93" height="23.79" fill="#e73828"/>
<rect x="196.50" y="1946.64" width="23.93" height="23.79" fill="#fffaf8"/>
<rect x="220.13" y="1946.64" width="23.93" height="23.79" fill="#fdebe6"/>
<rect x="243.76" y="1946.64" width="23.93" height="23.79" fill="#fdebe6"/>
<rect x="196.50" y="1970.13" width="23.93" height="23.79" fill="#fac9bc"/>
<rect x="220.13" y="1970.13" width="23.93" height="23.79" fill="#fef4f1"/>
<rect x="243.76" y="1970.13" width="23.93" height="23.79" fill="#fbd3c8"/>
<rect x="196.50" y="1993.62" width="23.93" height="23.79" fill="#f7a997"/>
<rect x="220.13" y="1993.62" width="23.93" height="23.79" fill="#f69b87"/>
<rect x="243.76" y="1993.62" width="23.93" height="23.79" fill="#f7a997"/>
<rect x="196.50" y="2017.11" width="23.93" height="23.79" fill="#f8b4a3"/>
<rect x="220.13" y="2017.11" width="23.93" height="23.79" fill="#f69b87"/>
<rect x="243.76" y="2017.11" width="23.93" height="23.79" fill="#f48d78"/>
<rect x="196.50" y="2040.60" width="23.93" height="23.79" fill="#fdebe6"/>
<rect x="220.13" y="2040.60" width="23.93" height="23.79" fill="#fef4f1"/>
<rect x="243.76" y="2040.60" width="23.93" height="23.79" fill="#fef1ed"/>
<rect x="196.50" y="2064.10" width="23.93" height="23.79" fill="#ffffff"/>
<rect x="220.13" y="2064.10" width="23.93" height="23.79" fill="#ffffff"/>
<rect x="243.76" y="2064.10" width="23.93" height="23.79" fill="#ffffff"/>
<rect x="196.50" y="2087.59" width="23.93" height="23.79" fill="#ffffff"/>
<rect x="220.13" y="2087.59" width="23.93" height="23.79" fill="#ffffff"/>
<rect x="243.76" y="2087.59" width="23.93" height="23.79" fill="#ffffff"/>
<rect x="196.50" y="2111.08" width="23.93" height="23.79" fill="#ffffff"/>
<rect x="220.13" y="2111.08" width="23.93" height="23.79" fill="#ffffff"/>
<rect x="243.76" y="2111.08" width="23.93" height="23.79" fill="#ffffff"/>
<rect x="196.50" y="2134.57" width="23.93" height="23.79" fill="#ffffff"/>
<rect x="220.13" y="2134.57" width="23.93" height="23.79" fill="#ffffff"/>
<rect x="243.76" y="2134.57" width="23.93" height="23.79" fill="#ffffff"/>
<rect x="196.50" y="2158.06" width="23.93" height="23.79" fill="#ffffff"/>
<rect x="220.13" y="2158.06" width="23.93" height="23.79" fill="#ffffff"/>
<rect x="243.76" y="2158.06" width="23.93" height="23.79" fill="#ffffff"/>
<rect x="196.50" y="2181.56" width="23.93" height="23.79" fill="#ffffff"/>
<rect x="220.13" y="2181.56" width="23.93" height="23.79" fill="#ffffff"/>
<rect x="243.76" y="2181.56" width="23.93" height="23.79" fill="#ffffff"/>
<rect x="196.50" y="2205.05" width="23.93" height="23.79" fill="#ffffff"/>
<rect x="220.13" y="2205.05" width="23.93" height="23.79" fill="#ffffff"/>
<rect x="243.76" y="2205.05" width="23.93" height="23.79" fill="#ffffff"/>
<rect x="196.50" y="2228.54" width="23.93" height="23.79" fill="#ffffff"/>
<rect x="220.13" y="2228.54" width="23.93" height="23.79" fill="#ffffff"/>
<rect x="243.76" y="2228.54" width="23.93" height="23.79" fill="#ffffff"/>
<rect x="196.50" y="2252.03" width="23.93" height="23.79" fill="#ffffff"/>
<rect x="220.13" y="2252.03" width="23.93" height="23.79" fill="#ffffff"/>
<rect x="243.76" y="2252.03" width="23.93" height="23.79" fill="#ffffff"/>
<rect x="196.50" y="2275.52" width="23.93" height="23.79" fill="#ffffff"/>
<rect x="220.13" y="2275.52" width="23.93" height="23.79" fill="#ffffff"/>
<rect x="243.76" y="2275.52" width="23.93" height="23.79" fill="#ffffff"/>
<rect x="196.50" y="2299.02" width="23.93" height="23.79" fill="#ffffff"/>
<rect x="220.13" y="2299.02" width="23.93" height="23.79" fill="#ffffff"/>
<rect x="243.76" y="2299.02" width="23.93" height="23.79" fill="#ffffff"/>
<rect x="196.50" y="2322.51" width="23.93" height="23.79" fill="#ffffff"/>
<rect x="220.13" y="2322.51" width="23.93" height="23.79" fill="#ffffff"/>
<rect x="243.76" y="2322.51" width="23.93" height="23.79" fill="#ffffff"/>
<path d="M196.00 1758.70H267.89M196.00 1782.19H267.89M196.00 1805.68H267.89M196.00 1829.18H267.89M196.00 1852.67H267.89M196.00 1876.16H267.89M196.00 1899.65H267.89M196.00 1923.14H267.89M196.00 1946.64H267.89M196.00 1970.13H267.89M196.00 1993.62H267.89M196.00 2017.11H267.89M196.00 2040.60H267.89M196.00 2064.10H267.89M196.00 2087.59H267.89M196.00 2111.08H267.89M196.00 2134.57H267.89M196.00 2158.06H267.89M196.00 2181.56H267.89M196.00 2205.05H267.89M196.00 2228.54H267.89M196.00 2252.03H267.89M196.00 2275.52H267.89M196.00 2299.02H267.89M196.00 2322.51H267.89M196.00 2346.00H267.89M196.50 1758.20V2346.50M220.13 1758.20V2346.50M243.76 1758.20V2346.50M267.39 1758.20V2346.50" stroke="#3a3a3a" stroke-width="1.00" fill="none"/>
<rect x="313.70" y="1758.70" width="23.93" height="23.79" fill="#ffffff"/>
<rect x="337.33" y="1758.70" width="23.93" height="23.79" fill="#ffffff"/>
<rect x="360.96" y="1758.70" width="23.93" height="23.79" fill="#ffffff"/>
<rect x="313.70" y="1782.19" width="23.93" height="23.79" fill="#fffcfb"/>
<rect x="337.33" y="1782.19" width="23.93" height="23.79" fill="#fffcfb"/>
<rect x="360.96" y="1782.19" width="23.93" height="23.79" fill="#fffcfb"/>
<rect x="313.70" y="1805.68" width="23.93" height="23.79" fill="#f7a997"/>
<rect x="337.33" y="1805.68" width="23.93" height="23.79" fill="#f69b87"/>
<rect x="360.96" y="1805.68" width="23.93" height="23.79" fill="#f69b87"/>
<rect x="313.70" y="1829.18" width="23.93" height="23.79" fill="#fffdfc"/>
<rect x="337.33" y="1829.18" width="23.93" height="23.79" fill="#ffffff"/>
<rect x="360.96" y="1829.18" width="23.93" height="23.79" fill="#fffdfc"/>
<rect x="313.70" y="1852.67" width="23.93" height="23.79" fill="#ffffff"/>
<rect x="337.33" y="1852.67" width="23.93" height="23.79" fill="#ffffff"/>
<rect x="360.96" y="1852.67" width="23.93" height="23.79" fill="#ffffff"/>
<rect x="313.70" y="1876.16" width="23.93" height="23.79" fill="#fbd3c8"/>
<rect x="337.33" y="1876.16" width="23.93" height="23.79" fill="#fac9bc"/>
<rect x="360.96" y="1876.16" width="23.93" height="23.79" fill="#fac9bc"/>
<rect x="313.70" y="1899.65" width="23.93" height="23.79" fill="#f69b87"/>
<rect x="337.33" y="1899.65" width="23.93" height="23.79" fill="#f17c66"/>
<rect x="360.96" y="1899.65" width="23.93" height="23.79" fill="#f17c66"/>
<rect x="313.70" y="1923.14" width="23.93" height="23.79" fill="#f17c66"/>
<rect x="337.33" y="1923.14" width="23.93" height="23.79" fill="#ef6a54"/>
<rect x="360.96" y="1923.14" width="23.93" height="23.79" fill="#e73828"/>
<rect x="313.70" y="1946.64" width="23.93" height="23.79" fill="#fffcfb"/>
<rect x="337.33" y="1946.64" width="23.93" height="23.79" fill="#fdebe6"/>
<rect x="360.96" y="1946.64" width="23.93" height="23.79" fill="#fdebe6"/>
<rect x="313.70" y="1970.13" width="23.93" height="23.79" fill="#fac9bc"/>
<rect x="337.33" y="1970.13" width="23.93" height="23.79" fill="#fef1ed"/>
<rect x="360.96" y="1970.13" width="23.93" height="23.79" fill="#fbd3c8"/>
<rect x="313.70" y="1993.62" width="23.93" height="23.79" fill="#f8b4a3"/>
<rect x="337.33" y="1993.62" width="23.93" height="23.79" fill="#f69b87"/>
<rect x="360.96" y="1993.62" width="23.93" height="23.79" fill="#f8b4a3"/>
<rect x="313.70" y="2017.11" width="23.93" height="23.79" fill="#f8b4a3"/>
<rect x="337.33" y="2017.11" width="23.93" height="23.79" fill="#f69b87"/>
<rect x="360.96" y="2017.11" width="23.93" height="23.79" fill="#f69b87"/>
<rect x="313.70" y="2040.60" width="23.93" height="23.79" fill="#fdebe6"/>
<rect x="337.33" y="2040.60" width="23.93" height="23.79" fill="#fef1ed"/>
<rect x="360.96" y="2040.60" width="23.93" height="23.79" fill="#fef4f1"/>
<rect x="313.70" y="2064.10" width="23.93" height="23.79" fill="#ffffff"/>
<rect x="337.33" y="2064.10" width="23.93" height="23.79" fill="#ffffff"/>
<rect x="360.96" y="2064.10" width="23.93" height="23.79" fill="#ffffff"/>
<rect x="313.70" y="2087.59" width="23.93" height="23.79" fill="#ffffff"/>
<rect x="337.33" y="2087.59" width="23.93" height="23.79" fill="#ffffff"/>
<rect x="360.96" y="2087.59" width="23.93" height="23.79" fill="#ffffff"/>
<rect x="313.70" y="2111.08" width="23.93" height="23.79" fill="#ffffff"/>
<rect x="337.33" y="2111.08" width="23.93" height="23.79" fill="#ffffff"/>
<rect x="360.96" y="2111.08" width="23.93" height="23.79" fill="#ffffff"/>
<rect x="313.70" y="2134.57" width="23.93" height="23.79" fill="#ffffff"/>
<rect x="337.33" y="2134.57" width="23.93" height="23.79" fill="#ffffff"/>
<rect x="360.96" y="2134.57" width="23.93" height="23.79" fill="#ffffff"/>
<rect x="313.70" y="2158.06" width="23.93" height="23.79" fill="#ffffff"/>
<rect x="337.33" y="2158.06" width="23.93" height="23.79" fill="#ffffff"/>
<rect x="360.96" y="2158.06" width="23.93" height="23.79" fill="#ffffff"/>
<rect x="313.70" y="2181.56" width="23.93" height="23.79" fill="#ffffff"/>
<rect x="337.33" y="2181.56" width="23.93" height="23.79" fill="#ffffff"/>
<rect x="360.96" y="2181.56" width="23.93" height="23.79" fill="#ffffff"/>
<rect x="313.70" y="2205.05" width="23.93" height="23.79" fill="#ffffff"/>
<rect x="337.33" y="2205.05" width="23.93" height="23.79" fill="#ffffff"/>
<rect x="360.96" y="2205.05" width="23.93" height="23.79" fill="#ffffff"/>
<rect x="313.70" y="2228.54" width="23.93" height="23.79" fill="#ffffff"/>
<rect x="337.33" y="2228.54" width="23.93" height="23.79" fill="#ffffff"/>
<rect x="360.96" y="2228.54" width="23.93" height="23.79" fill="#ffffff"/>
<rect x="313.70" y="2252.03" width="23.93" height="23.79" fill="#ffffff"/>
<rect x="337.33" y="2252.03" width="23.93" height="23.79" fill="#ffffff"/>
<rect x="360.96" y="2252.03" width="23.93" height="23.79" fill="#ffffff"/>
<rect x="313.70" y="2275.52" width="23.93" height="23.79" fill="#ffffff"/>
<rect x="337.33" y="2275.52" width="23.93" height="23.79" fill="#ffffff"/>
<rect x="360.96" y="2275.52" width="23.93" height="23.79" fill="#ffffff"/>
<rect x="313.70" y="2299.02" width="23.93" height="23.79" fill="#ffffff"/>
<rect x="337.33" y="2299.02" width="23.93" height="23.79" fill="#ffffff"/>
<rect x="360.96" y="2299.02" width="23.93" height="23.79" fill="#ffffff"/>
<rect x="313.70" y="2322.51" width="23.93" height="23.79" fill="#ffffff"/>
<rect x="337.33" y="2322.51" width="23.93" height="23.79" fill="#ffffff"/>
<rect x="360.96" y="2322.51" width="23.93" height="23.79" fill="#ffffff"/>
<path d="M313.20 1758.70H385.09M313.20 1782.19H385.09M313.20 1805.68H385.09M313.20 1829.18H385.09M313.20 1852.67H385.09M313.20 1876.16H385.09M313.20 1899.65H385.09M313.20 1923.14H385.09M313.20 1946.64H385.09M313.20 1970.13H385.09M313.20 1993.62H385.09M313.20 2017.11H385.09M313.20 2040.60H385.09M313.20 2064.10H385.09M313.20 2087.59H385.09M313.20 2111.08H385.09M313.20 2134.57H385.09M313.20 2158.06H385.09M313.20 2181.56H385.09M313.20 2205.05H385.09M313.20 2228.54H385.09M313.20 2252.03H385.09M313.20 2275.52H385.09M313.20 2299.02H385.09M313.20 2322.51H385.09M313.20 2346.00H385.09M313.70 1758.20V2346.50M337.33 1758.20V2346.50M360.96 1758.20V2346.50M384.59 1758.20V2346.50" stroke="#3a3a3a" stroke-width="1.00" fill="none"/>
<text transform="translate(185.50 1776.85)" x="-100.30" y="0" font-size="20.30" fill="#231f20" textLength="100.30" lengthAdjust="spacingAndGlyphs">CD4_naive</text>
<text transform="translate(185.50 1800.34)" x="-129.20" y="0" font-size="20.30" fill="#231f20" textLength="129.20" lengthAdjust="spacingAndGlyphs">CD4_memory</text>
<text transform="translate(185.50 1823.83)" x="-67.80" y="0" font-size="20.30" fill="#231f20" textLength="67.80" lengthAdjust="spacingAndGlyphs">CD4_Ef</text>
<text transform="translate(185.50 1847.32)" x="-43.10" y="0" font-size="20.30" fill="#231f20" textLength="43.10" lengthAdjust="spacingAndGlyphs">Treg</text>
<text transform="translate(185.50 1870.81)" x="-100.30" y="0" font-size="20.30" fill="#231f20" textLength="100.30" lengthAdjust="spacingAndGlyphs">CD8_naive</text>
<text transform="translate(185.50 1894.31)" x="-129.20" y="0" font-size="20.30" fill="#231f20" textLength="129.20" lengthAdjust="spacingAndGlyphs">CD8_memory</text>
<text transform="translate(185.50 1917.80)" x="-67.80" y="0" font-size="20.30" fill="#231f20" textLength="67.80" lengthAdjust="spacingAndGlyphs">CD8_Ef</text>
<text transform="translate(185.50 1941.29)" x="-37.70" y="0" font-size="20.30" fill="#231f20" textLength="37.70" lengthAdjust="spacingAndGlyphs">NKT</text>
<text transform="translate(185.50 1964.78)" x="-47.60" y="0" font-size="20.30" fill="#231f20" textLength="47.60" lengthAdjust="spacingAndGlyphs">MAIT</text>
<text transform="translate(185.50 1988.27)" x="-36.40" y="0" font-size="20.30" fill="#231f20" textLength="36.40" lengthAdjust="spacingAndGlyphs">gdT</text>
<text transform="translate(185.50 2011.77)" x="-47.30" y="0" font-size="20.30" fill="#231f20" textLength="47.30" lengthAdjust="spacingAndGlyphs">Pro T</text>
<text transform="translate(185.50 2035.26)" x="-26.10" y="0" font-size="20.30" fill="#231f20" textLength="26.10" lengthAdjust="spacingAndGlyphs">NK</text>
<text transform="translate(185.50 2047.35)" x="-35.60" y="0" font-size="13.00" fill="#231f20" textLength="35.60" lengthAdjust="spacingAndGlyphs">bright</text>
<text transform="translate(148.10 2058.75)" x="-88.00" y="0" font-size="20.30" fill="#231f20" textLength="88.00" lengthAdjust="spacingAndGlyphs">NK_CD56</text>
<text transform="translate(185.50 2082.24)" x="-136.50" y="0" font-size="20.30" fill="#231f20" textLength="136.50" lengthAdjust="spacingAndGlyphs">cMono_S100A</text>
<text transform="translate(185.50 2105.73)" x="-111.30" y="0" font-size="20.30" fill="#231f20" textLength="111.30" lengthAdjust="spacingAndGlyphs">cMono_IL1B</text>
<text transform="translate(185.50 2129.23)" x="-127.10" y="0" font-size="20.30" fill="#231f20" textLength="127.10" lengthAdjust="spacingAndGlyphs">cMono_CCL3</text>
<text transform="translate(185.50 2152.72)" x="-78.40" y="0" font-size="20.30" fill="#231f20" textLength="78.40" lengthAdjust="spacingAndGlyphs">intMono</text>
<text transform="translate(185.50 2176.21)" x="-77.70" y="0" font-size="20.30" fill="#231f20" textLength="77.70" lengthAdjust="spacingAndGlyphs">ncMono</text>
<text transform="translate(185.50 2199.70)" x="-40.00" y="0" font-size="20.30" fill="#231f20" textLength="40.00" lengthAdjust="spacingAndGlyphs">cDC</text>
<text transform="translate(185.50 2223.19)" x="-40.50" y="0" font-size="20.30" fill="#231f20" textLength="40.50" lengthAdjust="spacingAndGlyphs">pDC</text>
<text transform="translate(185.50 2246.69)" x="-71.00" y="0" font-size="20.30" fill="#231f20" textLength="71.00" lengthAdjust="spacingAndGlyphs">B_naive</text>
<text transform="translate(185.50 2270.18)" x="-100.00" y="0" font-size="20.30" fill="#231f20" textLength="100.00" lengthAdjust="spacingAndGlyphs">B_memory</text>
<text transform="translate(185.50 2293.67)" x="-109.00" y="0" font-size="20.30" fill="#231f20" textLength="109.00" lengthAdjust="spacingAndGlyphs">B_activated</text>
<text transform="translate(185.50 2317.16)" x="-89.20" y="0" font-size="20.30" fill="#231f20" textLength="89.20" lengthAdjust="spacingAndGlyphs">B_plasma</text>
<text transform="translate(185.50 2340.65)" x="-71.30" y="0" font-size="20.30" fill="#231f20" textLength="71.30" lengthAdjust="spacingAndGlyphs">Platelet</text>
<text transform="translate(215.51 2364.40) rotate(-45)" x="-72.50" y="0" font-size="20.30" fill="#231f20" textLength="72.50" lengthAdjust="spacingAndGlyphs">Healthy</text>
<text transform="translate(239.14 2364.40) rotate(-45)" x="-89.00" y="0" font-size="20.30" fill="#231f20" textLength="89.00" lengthAdjust="spacingAndGlyphs">Moderate</text>
<text transform="translate(262.77 2364.40) rotate(-45)" x="-66.50" y="0" font-size="20.30" fill="#231f20" textLength="66.50" lengthAdjust="spacingAndGlyphs">Severe</text>
<text transform="translate(332.71 2364.40) rotate(-45)" x="-72.50" y="0" font-size="20.30" fill="#231f20" textLength="72.50" lengthAdjust="spacingAndGlyphs">Healthy</text>
<text transform="translate(356.34 2364.40) rotate(-45)" x="-89.00" y="0" font-size="20.30" fill="#231f20" textLength="89.00" lengthAdjust="spacingAndGlyphs">Moderate</text>
<text transform="translate(379.97 2364.40) rotate(-45)" x="-66.50" y="0" font-size="20.30" fill="#231f20" textLength="66.50" lengthAdjust="spacingAndGlyphs">Severe</text>
<text transform="translate(197.40 1747.40)" x="0.00" y="0" font-size="20.30" fill="#231f20" textLength="69.40" lengthAdjust="spacingAndGlyphs" font-style="italic">IFNGR1</text>
<text transform="translate(314.00 1747.40)" x="0.00" y="0" font-size="20.30" fill="#231f20" textLength="70.80" lengthAdjust="spacingAndGlyphs" font-style="italic">IFNGR2</text>
<text transform="translate(157.40 1716.50)" x="0.00" y="0" font-size="24.60" fill="#231f20" textLength="137.50" lengthAdjust="spacingAndGlyphs" font-style="italic">IFNG/IFNGR</text>
<text transform="translate(301.90 1716.50)" x="0.00" y="0" font-size="24.60" fill="#231f20" textLength="123.50" lengthAdjust="spacingAndGlyphs">interaction</text>
<g transform="translate(27 2258.9) rotate(-90)">
<text transform="translate(0.00 0.00)" x="0.00" y="0" font-size="23.20" fill="#231f20" textLength="233.00" lengthAdjust="spacingAndGlyphs">Cell-type expressing</text>
<text transform="translate(240.00 0.00)" x="0.00" y="0" font-size="23.20" fill="#231f20" textLength="58.00" lengthAdjust="spacingAndGlyphs" font-style="italic">IFN-γ</text>
<text transform="translate(305.00 0.00)" x="0.00" y="0" font-size="23.20" fill="#231f20" textLength="109.60" lengthAdjust="spacingAndGlyphs">(sending)</text>
</g>
<text transform="translate(407.30 1961.80)" x="0.00" y="0" font-size="20.30" fill="#231f20" textLength="103.00" lengthAdjust="spacingAndGlyphs">Interaction</text>
<rect x="417" y="1981.6" width="16.2" height="126.6" fill="url(#gr)" stroke="#3a3a3a" stroke-width="1"/>
<text transform="translate(443.20 1989.10)" x="0.00" y="0" font-size="20.30" fill="#231f20" textLength="43.96" lengthAdjust="spacingAndGlyphs">High</text>
<text transform="translate(443.20 2113.90)" x="0.00" y="0" font-size="20.30" fill="#231f20" textLength="38.74" lengthAdjust="spacingAndGlyphs">Low</text>
<rect x="1423.10" y="1758.30" width="24.03" height="23.82" fill="#ffffff"/>
<rect x="1446.83" y="1758.30" width="24.03" height="23.82" fill="#ffffff"/>
<rect x="1470.56" y="1758.30" width="24.03" height="23.82" fill="#ffffff"/>
<rect x="1423.10" y="1781.82" width="24.03" height="23.82" fill="#fcfcfd"/>
<rect x="1446.83" y="1781.82" width="24.03" height="23.82" fill="#e4deef"/>
<rect x="1470.56" y="1781.82" width="24.03" height="23.82" fill="#fcfcfd"/>
<rect x="1423.10" y="1805.35" width="24.03" height="23.82" fill="#fcfcfd"/>
<rect x="1446.83" y="1805.35" width="24.03" height="23.82" fill="#d1c8e4"/>
<rect x="1470.56" y="1805.35" width="24.03" height="23.82" fill="#faf9fc"/>
<rect x="1423.10" y="1828.87" width="24.03" height="23.82" fill="#fcfcfd"/>
<rect x="1446.83" y="1828.87" width="24.03" height="23.82" fill="#dbd4ea"/>
<rect x="1470.56" y="1828.87" width="24.03" height="23.82" fill="#fcfcfd"/>
<rect x="1423.10" y="1852.40" width="24.03" height="23.82" fill="#ffffff"/>
<rect x="1446.83" y="1852.40" width="24.03" height="23.82" fill="#f5f4f9"/>
<rect x="1470.56" y="1852.40" width="24.03" height="23.82" fill="#ffffff"/>
<rect x="1423.10" y="1875.92" width="24.03" height="23.82" fill="#faf9fc"/>
<rect x="1446.83" y="1875.92" width="24.03" height="23.82" fill="#a69ccf"/>
<rect x="1470.56" y="1875.92" width="24.03" height="23.82" fill="#f8f7fb"/>
<rect x="1423.10" y="1899.44" width="24.03" height="23.82" fill="#fcfcfd"/>
<rect x="1446.83" y="1899.44" width="24.03" height="23.82" fill="#dbd4ea"/>
<rect x="1470.56" y="1899.44" width="24.03" height="23.82" fill="#fcfcfd"/>
<rect x="1423.10" y="1922.97" width="24.03" height="23.82" fill="#ffffff"/>
<rect x="1446.83" y="1922.97" width="24.03" height="23.82" fill="#ede9f4"/>
<rect x="1470.56" y="1922.97" width="24.03" height="23.82" fill="#ffffff"/>
<rect x="1423.10" y="1946.49" width="24.03" height="23.82" fill="#ffffff"/>
<rect x="1446.83" y="1946.49" width="24.03" height="23.82" fill="#dbd4ea"/>
<rect x="1470.56" y="1946.49" width="24.03" height="23.82" fill="#fdfdfe"/>
<rect x="1423.10" y="1970.02" width="24.03" height="23.82" fill="#fcfcfd"/>
<rect x="1446.83" y="1970.02" width="24.03" height="23.82" fill="#c6bddf"/>
<rect x="1470.56" y="1970.02" width="24.03" height="23.82" fill="#faf9fc"/>
<rect x="1423.10" y="1993.54" width="24.03" height="23.82" fill="#faf9fc"/>
<rect x="1446.83" y="1993.54" width="24.03" height="23.82" fill="#a69ccf"/>
<rect x="1470.56" y="1993.54" width="24.03" height="23.82" fill="#ede9f4"/>
<rect x="1423.10" y="2017.06" width="24.03" height="23.82" fill="#ffffff"/>
<rect x="1446.83" y="2017.06" width="24.03" height="23.82" fill="#f5f4f9"/>
<rect x="1470.56" y="2017.06" width="24.03" height="23.82" fill="#ffffff"/>
<rect x="1423.10" y="2040.59" width="24.03" height="23.82" fill="#f5f4f9"/>
<rect x="1446.83" y="2040.59" width="24.03" height="23.82" fill="#c6bddf"/>
<rect x="1470.56" y="2040.59" width="24.03" height="23.82" fill="#f5f4f9"/>
<rect x="1423.10" y="2064.11" width="24.03" height="23.82" fill="#ffffff"/>
<rect x="1446.83" y="2064.11" width="24.03" height="23.82" fill="#ffffff"/>
<rect x="1470.56" y="2064.11" width="24.03" height="23.82" fill="#ffffff"/>
<rect x="1423.10" y="2087.64" width="24.03" height="23.82" fill="#ffffff"/>
<rect x="1446.83" y="2087.64" width="24.03" height="23.82" fill="#ffffff"/>
<rect x="1470.56" y="2087.64" width="24.03" height="23.82" fill="#ffffff"/>
<rect x="1423.10" y="2111.16" width="24.03" height="23.82" fill="#ffffff"/>
<rect x="1446.83" y="2111.16" width="24.03" height="23.82" fill="#ffffff"/>
<rect x="1470.56" y="2111.16" width="24.03" height="23.82" fill="#ffffff"/>
<rect x="1423.10" y="2134.68" width="24.03" height="23.82" fill="#ffffff"/>
<rect x="1446.83" y="2134.68" width="24.03" height="23.82" fill="#ffffff"/>
<rect x="1470.56" y="2134.68" width="24.03" height="23.82" fill="#ffffff"/>
<rect x="1423.10" y="2158.21" width="24.03" height="23.82" fill="#ffffff"/>
<rect x="1446.83" y="2158.21" width="24.03" height="23.82" fill="#ffffff"/>
<rect x="1470.56" y="2158.21" width="24.03" height="23.82" fill="#ffffff"/>
<rect x="1423.10" y="2181.73" width="24.03" height="23.82" fill="#ffffff"/>
<rect x="1446.83" y="2181.73" width="24.03" height="23.82" fill="#f5f4f9"/>
<rect x="1470.56" y="2181.73" width="24.03" height="23.82" fill="#ffffff"/>
<rect x="1423.10" y="2205.26" width="24.03" height="23.82" fill="#ede9f4"/>
<rect x="1446.83" y="2205.26" width="24.03" height="23.82" fill="#3154a7"/>
<rect x="1470.56" y="2205.26" width="24.03" height="23.82" fill="#f2eff7"/>
<rect x="1423.10" y="2228.78" width="24.03" height="23.82" fill="#ffffff"/>
<rect x="1446.83" y="2228.78" width="24.03" height="23.82" fill="#ffffff"/>
<rect x="1470.56" y="2228.78" width="24.03" height="23.82" fill="#ffffff"/>
<rect x="1423.10" y="2252.30" width="24.03" height="23.82" fill="#ffffff"/>
<rect x="1446.83" y="2252.30" width="24.03" height="23.82" fill="#ede9f4"/>
<rect x="1470.56" y="2252.30" width="24.03" height="23.82" fill="#ffffff"/>
<rect x="1423.10" y="2275.83" width="24.03" height="23.82" fill="#ffffff"/>
<rect x="1446.83" y="2275.83" width="24.03" height="23.82" fill="#e4deef"/>
<rect x="1470.56" y="2275.83" width="24.03" height="23.82" fill="#fcfcfd"/>
<rect x="1423.10" y="2299.35" width="24.03" height="23.82" fill="#ffffff"/>
<rect x="1446.83" y="2299.35" width="24.03" height="23.82" fill="#bbb2da"/>
<rect x="1470.56" y="2299.35" width="24.03" height="23.82" fill="#f7f6fb"/>
<rect x="1423.10" y="2322.88" width="24.03" height="23.82" fill="#ffffff"/>
<rect x="1446.83" y="2322.88" width="24.03" height="23.82" fill="#fdfdfe"/>
<rect x="1470.56" y="2322.88" width="24.03" height="23.82" fill="#ffffff"/>
<path d="M1422.60 1758.30H1494.79M1422.60 1781.82H1494.79M1422.60 1805.35H1494.79M1422.60 1828.87H1494.79M1422.60 1852.40H1494.79M1422.60 1875.92H1494.79M1422.60 1899.44H1494.79M1422.60 1922.97H1494.79M1422.60 1946.49H1494.79M1422.60 1970.02H1494.79M1422.60 1993.54H1494.79M1422.60 2017.06H1494.79M1422.60 2040.59H1494.79M1422.60 2064.11H1494.79M1422.60 2087.64H1494.79M1422.60 2111.16H1494.79M1422.60 2134.68H1494.79M1422.60 2158.21H1494.79M1422.60 2181.73H1494.79M1422.60 2205.26H1494.79M1422.60 2228.78H1494.79M1422.60 2252.30H1494.79M1422.60 2275.83H1494.79M1422.60 2299.35H1494.79M1422.60 2322.88H1494.79M1422.60 2346.40H1494.79M1423.10 1757.80V2346.90M1446.83 1757.80V2346.90M1470.56 1757.80V2346.90M1494.29 1757.80V2346.90" stroke="#3a3a3a" stroke-width="1.00" fill="none"/>
<text transform="translate(1412.60 1776.56)" x="-100.30" y="0" font-size="20.30" fill="#231f20" textLength="100.30" lengthAdjust="spacingAndGlyphs">CD4_naive</text>
<text transform="translate(1412.60 1800.09)" x="-129.20" y="0" font-size="20.30" fill="#231f20" textLength="129.20" lengthAdjust="spacingAndGlyphs">CD4_memory</text>
<text transform="translate(1412.60 1823.61)" x="-67.80" y="0" font-size="20.30" fill="#231f20" textLength="67.80" lengthAdjust="spacingAndGlyphs">CD4_Ef</text>
<text transform="translate(1412.60 1847.13)" x="-43.10" y="0" font-size="20.30" fill="#231f20" textLength="43.10" lengthAdjust="spacingAndGlyphs">Treg</text>
<text transform="translate(1412.60 1870.66)" x="-100.30" y="0" font-size="20.30" fill="#231f20" textLength="100.30" lengthAdjust="spacingAndGlyphs">CD8_naive</text>
<text transform="translate(1412.60 1894.18)" x="-129.20" y="0" font-size="20.30" fill="#231f20" textLength="129.20" lengthAdjust="spacingAndGlyphs">CD8_memory</text>
<text transform="translate(1412.60 1917.71)" x="-67.80" y="0" font-size="20.30" fill="#231f20" textLength="67.80" lengthAdjust="spacingAndGlyphs">CD8_Ef</text>
<text transform="translate(1412.60 1941.23)" x="-37.70" y="0" font-size="20.30" fill="#231f20" textLength="37.70" lengthAdjust="spacingAndGlyphs">NKT</text>
<text transform="translate(1412.60 1964.75)" x="-47.60" y="0" font-size="20.30" fill="#231f20" textLength="47.60" lengthAdjust="spacingAndGlyphs">MAIT</text>
<text transform="translate(1412.60 1988.28)" x="-36.40" y="0" font-size="20.30" fill="#231f20" textLength="36.40" lengthAdjust="spacingAndGlyphs">gdT</text>
<text transform="translate(1412.60 2011.80)" x="-47.30" y="0" font-size="20.30" fill="#231f20" textLength="47.30" lengthAdjust="spacingAndGlyphs">Pro T</text>
<text transform="translate(1412.60 2035.33)" x="-26.10" y="0" font-size="20.30" fill="#231f20" textLength="26.10" lengthAdjust="spacingAndGlyphs">NK</text>
<text transform="translate(1412.60 2047.45)" x="-35.60" y="0" font-size="13.00" fill="#231f20" textLength="35.60" lengthAdjust="spacingAndGlyphs">bright</text>
<text transform="translate(1375.20 2058.85)" x="-88.00" y="0" font-size="20.30" fill="#231f20" textLength="88.00" lengthAdjust="spacingAndGlyphs">NK_CD56</text>
<text transform="translate(1412.60 2082.37)" x="-136.50" y="0" font-size="20.30" fill="#231f20" textLength="136.50" lengthAdjust="spacingAndGlyphs">cMono_S100A</text>
<text transform="translate(1412.60 2105.90)" x="-111.30" y="0" font-size="20.30" fill="#231f20" textLength="111.30" lengthAdjust="spacingAndGlyphs">cMono_IL1B</text>
<text transform="translate(1412.60 2129.42)" x="-127.10" y="0" font-size="20.30" fill="#231f20" textLength="127.10" lengthAdjust="spacingAndGlyphs">cMono_CCL3</text>
<text transform="translate(1412.60 2152.95)" x="-78.40" y="0" font-size="20.30" fill="#231f20" textLength="78.40" lengthAdjust="spacingAndGlyphs">intMono</text>
<text transform="translate(1412.60 2176.47)" x="-77.70" y="0" font-size="20.30" fill="#231f20" textLength="77.70" lengthAdjust="spacingAndGlyphs">ncMono</text>
<text transform="translate(1412.60 2199.99)" x="-40.00" y="0" font-size="20.30" fill="#231f20" textLength="40.00" lengthAdjust="spacingAndGlyphs">cDC</text>
<text transform="translate(1412.60 2223.52)" x="-40.50" y="0" font-size="20.30" fill="#231f20" textLength="40.50" lengthAdjust="spacingAndGlyphs">pDC</text>
<text transform="translate(1412.60 2247.04)" x="-71.00" y="0" font-size="20.30" fill="#231f20" textLength="71.00" lengthAdjust="spacingAndGlyphs">B_naive</text>
<text transform="translate(1412.60 2270.57)" x="-100.00" y="0" font-size="20.30" fill="#231f20" textLength="100.00" lengthAdjust="spacingAndGlyphs">B_memory</text>
<text transform="translate(1412.60 2294.09)" x="-109.00" y="0" font-size="20.30" fill="#231f20" textLength="109.00" lengthAdjust="spacingAndGlyphs">B_activated</text>
<text transform="translate(1412.60 2317.61)" x="-89.20" y="0" font-size="20.30" fill="#231f20" textLength="89.20" lengthAdjust="spacingAndGlyphs">B_plasma</text>
<text transform="translate(1412.60 2341.14)" x="-71.30" y="0" font-size="20.30" fill="#231f20" textLength="71.30" lengthAdjust="spacingAndGlyphs">Platelet</text>
<text transform="translate(1442.16 2364.80) rotate(-45)" x="-72.50" y="0" font-size="20.30" fill="#231f20" textLength="72.50" lengthAdjust="spacingAndGlyphs">Healthy</text>
<text transform="translate(1465.89 2364.80) rotate(-45)" x="-89.00" y="0" font-size="20.30" fill="#231f20" textLength="89.00" lengthAdjust="spacingAndGlyphs">Moderate</text>
<text transform="translate(1489.62 2364.80) rotate(-45)" x="-66.50" y="0" font-size="20.30" fill="#231f20" textLength="66.50" lengthAdjust="spacingAndGlyphs">Severe</text>
<text transform="translate(1303.10 1717.00)" x="0.00" y="0" font-size="24.60" fill="#231f20" textLength="178.00" lengthAdjust="spacingAndGlyphs" font-style="italic">CXCL10/CXCR3</text>
<text transform="translate(1488.10 1717.00)" x="0.00" y="0" font-size="24.60" fill="#231f20" textLength="123.50" lengthAdjust="spacingAndGlyphs">interaction</text>
<g transform="translate(1253.9 2276.9) rotate(-90)">
<text transform="translate(0.00 0.00)" x="0.00" y="0" font-size="23.20" fill="#231f20" textLength="233.00" lengthAdjust="spacingAndGlyphs">Cell-type expressing</text>
<text transform="translate(240.00 0.00)" x="0.00" y="0" font-size="23.20" fill="#231f20" textLength="80.00" lengthAdjust="spacingAndGlyphs" font-style="italic">CXCR3</text>
<text transform="translate(327.00 0.00)" x="0.00" y="0" font-size="23.20" fill="#231f20" textLength="122.00" lengthAdjust="spacingAndGlyphs">(receiving)</text>
</g>
<text transform="translate(1529.20 1958.70)" x="0.00" y="0" font-size="20.30" fill="#231f20" textLength="103.00" lengthAdjust="spacingAndGlyphs">Interaction</text>
<rect x="1536.4" y="1974.3" width="16.4" height="127.1" fill="url(#gp)" stroke="#3a3a3a" stroke-width="1"/>
<text transform="translate(1562.90 1981.00)" x="0.00" y="0" font-size="20.30" fill="#231f20" textLength="43.96" lengthAdjust="spacingAndGlyphs">High</text>
<text transform="translate(1562.90 2106.40)" x="0.00" y="0" font-size="20.30" fill="#231f20" textLength="38.74" lengthAdjust="spacingAndGlyphs">Low</text>
<path d="M681.0 1925.5H584.8V1933.3Z" fill="#4d4d4f"/>
<path d="M681.0 1925.5H584.8V1933.3H681.0Z" fill="#4d4d4f"/>
<path d="M560.3 1929.4L589.8 1917.3L584.8 1929.4L589.8 1941.5Z" fill="#4d4d4f"/>
<path d="M1073.3 2179.3H1170.0V2187.1Z" fill="#4d4d4f"/>
<path d="M1073.3 2179.3H1170.0V2187.1H1073.3Z" fill="#4d4d4f"/>
<path d="M1194.5 2183.2L1165.0 2171.1L1170.0 2183.2L1165.0 2195.3Z" fill="#4d4d4f"/>
<path d="M717.5 2174.2L793 2130" stroke="#4d4d4f" stroke-width="2.6" fill="none"/>
<path d="M800.2 2125.7L786.5 2127.2L790.3 2131.6L788.8 2137.6Z" fill="#4d4d4f"/>
<ellipse cx="871" cy="1826.7" rx="72.6" ry="77.6" fill="#7bbd97" stroke="#3f9d68" stroke-width="1.6"/>
<ellipse cx="857.6" cy="1830.4" rx="41.2" ry="40.8" fill="#3a9160"/>
<path d="M877.9 1980.6C883.0 1981.4 887.3 1986.6 893.3 1989.0C899.4 1991.3 908.4 1991.6 914.0 1994.8C919.5 1998.0 922.3 2004.0 926.8 2008.3C931.3 2012.6 938.3 2015.7 941.0 2020.5C943.7 2025.4 942.0 2031.9 942.9 2037.3C943.9 2042.7 946.8 2047.2 946.8 2052.7C946.8 2058.3 943.7 2063.9 942.9 2070.8C942.2 2077.6 944.1 2088.4 942.3 2094.0C940.5 2099.5 935.6 2100.8 932.0 2104.3C928.3 2107.7 923.4 2112.0 920.4 2114.6C917.4 2117.1 917.4 2117.8 914.0 2119.7C910.5 2121.7 903.2 2123.9 899.8 2126.2C896.4 2128.4 896.8 2132.6 893.3 2133.2C889.9 2133.9 884.3 2129.7 879.2 2130.0C874.0 2130.3 866.9 2135.4 862.4 2135.2C857.9 2135.0 855.8 2130.7 852.1 2128.7C848.5 2126.8 844.0 2124.3 840.5 2123.6C837.1 2122.8 834.5 2126.2 831.5 2124.2C828.5 2122.3 826.3 2115.5 822.5 2112.0C818.7 2108.4 811.5 2106.8 809.0 2103.0C806.5 2099.1 809.7 2093.7 807.7 2088.8C805.7 2083.9 797.8 2078.5 796.7 2073.3C795.7 2068.2 801.0 2063.9 801.3 2057.9C801.5 2051.9 797.0 2043.3 798.0 2037.3C799.1 2031.3 805.4 2026.8 807.7 2021.8C809.9 2016.9 808.0 2011.5 811.6 2007.7C815.1 2003.8 823.3 2002.3 828.9 1998.6C834.6 1995.0 840.1 1988.1 845.7 1985.8C851.3 1983.4 857.1 1985.3 862.4 1984.5C867.8 1983.6 872.7 1979.9 877.9 1980.6Z" fill="#ea8f93" stroke="#b5495290" stroke-width="0"/>
<path d="M877.9 1980.6C883.0 1981.4 887.3 1986.6 893.3 1989.0C899.4 1991.3 908.4 1991.6 914.0 1994.8C919.5 1998.0 922.3 2004.0 926.8 2008.3C931.3 2012.6 938.3 2015.7 941.0 2020.5C943.7 2025.4 942.0 2031.9 942.9 2037.3C943.9 2042.7 946.8 2047.2 946.8 2052.7C946.8 2058.3 943.7 2063.9 942.9 2070.8C942.2 2077.6 944.1 2088.4 942.3 2094.0C940.5 2099.5 935.6 2100.8 932.0 2104.3C928.3 2107.7 923.4 2112.0 920.4 2114.6C917.4 2117.1 917.4 2117.8 914.0 2119.7C910.5 2121.7 903.2 2123.9 899.8 2126.2C896.4 2128.4 896.8 2132.6 893.3 2133.2C889.9 2133.9 884.3 2129.7 879.2 2130.0C874.0 2130.3 866.9 2135.4 862.4 2135.2C857.9 2135.0 855.8 2130.7 852.1 2128.7C848.5 2126.8 844.0 2124.3 840.5 2123.6C837.1 2122.8 834.5 2126.2 831.5 2124.2C828.5 2122.3 826.3 2115.5 822.5 2112.0C818.7 2108.4 811.5 2106.8 809.0 2103.0C806.5 2099.1 809.7 2093.7 807.7 2088.8C805.7 2083.9 797.8 2078.5 796.7 2073.3C795.7 2068.2 801.0 2063.9 801.3 2057.9C801.5 2051.9 797.0 2043.3 798.0 2037.3C799.1 2031.3 805.4 2026.8 807.7 2021.8C809.9 2016.9 808.0 2011.5 811.6 2007.7C815.1 2003.8 823.3 2002.3 828.9 1998.6C834.6 1995.0 840.1 1988.1 845.7 1985.8C851.3 1983.4 857.1 1985.3 862.4 1984.5C867.8 1983.6 872.7 1979.9 877.9 1980.6Z" fill="none" stroke="#b34650" stroke-width="1.8"/>
<path d="M895.9 2018.6C901.5 2019.0 910.1 2022.1 915.2 2027.0C920.4 2031.8 925.1 2040.5 926.8 2047.6C928.6 2054.7 927.7 2062.2 925.6 2069.5C923.4 2076.8 919.3 2084.9 914.0 2091.4C908.6 2097.8 901.1 2103.8 893.3 2108.1C885.6 2112.4 875.7 2116.5 867.6 2117.1C859.4 2117.8 850.8 2115.4 844.4 2112.0C838.0 2108.6 832.3 2101.7 828.9 2096.5C825.6 2091.4 824.0 2086.0 824.4 2081.1C824.9 2076.1 827.8 2070.7 831.5 2066.9C835.3 2063.2 841.0 2059.8 847.0 2058.5C853.0 2057.2 862.9 2060.1 867.6 2059.2C872.3 2058.2 874.0 2056.4 875.3 2052.7C876.6 2049.1 874.2 2042.0 875.3 2037.3C876.4 2032.6 878.3 2027.5 881.8 2024.4C885.2 2021.3 890.3 2018.2 895.9 2018.6Z" fill="#cb6a70" stroke="#c4595f" stroke-width="1"/>
<path d="M816.5 1972.9L816.2 1979.3L818.6 1983.2L822.5 1986.4L823.8 1990.9L827.9 1993.7" stroke="#9c3a42" stroke-width="6.4" fill="none" stroke-linejoin="round" stroke-linecap="butt"/>
<path d="M816.5 1972.9L816.2 1979.3L818.6 1983.2L822.5 1986.4L823.8 1990.9L827.9 1993.7" stroke="#bd4a52" stroke-width="5" fill="none" stroke-linejoin="round" stroke-linecap="butt"/>
<path d="M826.9 1994.3L840.8 2017.5M828.9 1993.1L842.8 2016.3" stroke="#6e2229" stroke-width="1.1" fill="none"/>
<path d="M837.6 2009.5L840.2 2014.1" stroke="#b5434b" stroke-width="3.2" stroke-linecap="round"/>
<path d="M827.0 1967.1L830.9 1970.9L831.5 1976.7L834.7 1980.6L835.4 1985.8L837.7 1988.6" stroke="#9c3a42" stroke-width="6.4" fill="none" stroke-linejoin="round" stroke-linecap="butt"/>
<path d="M827.0 1967.1L830.9 1970.9L831.5 1976.7L834.7 1980.6L835.4 1985.8L837.7 1988.6" stroke="#bd4a52" stroke-width="5" fill="none" stroke-linejoin="round" stroke-linecap="butt"/>
<path d="M836.7 1989.2L847.5 2013.2M838.7 1988.0L849.5 2012.0" stroke="#6e2229" stroke-width="1.1" fill="none"/>
<path d="M844.3 2005.2L846.9 2009.8" stroke="#b5434b" stroke-width="3.2" stroke-linecap="round"/>
<circle cx="778.4" cy="1884.0" r="2.3" fill="#3a8c50"/>
<circle cx="763.6" cy="1905.1" r="2.3" fill="#3a8c50"/>
<circle cx="790.9" cy="1906.7" r="2.3" fill="#3a8c50"/>
<circle cx="782.4" cy="1918.1" r="2.3" fill="#3a8c50"/>
<circle cx="756.5" cy="1923.3" r="2.3" fill="#3a8c50"/>
<circle cx="780.4" cy="1936.6" r="2.3" fill="#3a8c50"/>
<circle cx="793.9" cy="1950.1" r="2.3" fill="#3a8c50"/>
<circle cx="755.9" cy="1952.3" r="2.3" fill="#3a8c50"/>
<circle cx="765.4" cy="1969.0" r="2.3" fill="#3a8c50"/>
<defs><linearGradient id="ga1" gradientUnits="userSpaceOnUse" x1="787" y1="1884" x2="775" y2="1915"><stop offset="0" stop-color="#1d4f6e" stop-opacity="0.05"/><stop offset="1" stop-color="#1d4f6e"/></linearGradient><linearGradient id="ga2" gradientUnits="userSpaceOnUse" x1="941" y1="2116" x2="958" y2="2145"><stop offset="0" stop-color="#1d4f6e" stop-opacity="0.05"/><stop offset="1" stop-color="#1d4f6e"/></linearGradient></defs>
<path d="M786.9 1884.2C764 1915 762 1948 784.5 1977.5" stroke="url(#ga1)" stroke-width="1.7" fill="none"/>
<path d="M787.2 1981.4L776.7 1973.2L782.5 1974.3L786.0 1969.2Z" fill="#1d4f6e"/>
<circle cx="938.6" cy="2109.3" r="2.3" fill="#c9787c"/>
<circle cx="950.7" cy="2116.0" r="2.3" fill="#9c2a32"/>
<circle cx="936.3" cy="2139.2" r="2.3" fill="#9c2a32"/>
<circle cx="966.7" cy="2137.8" r="2.3" fill="#9c2a32"/>
<circle cx="979.7" cy="2158.5" r="2.3" fill="#9c2a32"/>
<circle cx="946.5" cy="2169.9" r="2.3" fill="#9c2a32"/>
<circle cx="975.9" cy="2185.7" r="2.3" fill="#9c2a32"/>
<circle cx="938.1" cy="2197.1" r="2.3" fill="#9c2a32"/>
<path d="M940.7 2116.7C968 2142 970 2180 944 2211.5" stroke="url(#ga2)" stroke-width="1.7" fill="none"/>
<path d="M941.0 2215.0L943.6 2202.2L945.6 2207.6L951.6 2208.6Z" fill="#1d4f6e"/>
<ellipse cx="874.4" cy="2292.6" rx="74.6" ry="78.3" fill="#72bad4" stroke="#2a8ab5" stroke-width="1.6"/>
<ellipse cx="883.9" cy="2292.7" rx="40.1" ry="42.9" fill="#2f8cb0"/>
<path d="M907.3 2246.9L922.5 2227.5" stroke="#4d5aa8" stroke-width="4.6" stroke-linecap="round"/>
<path d="M907.3 2246.9L922.5 2227.5" stroke="#7389cc" stroke-width="3" stroke-linecap="round"/>
<path d="M912.2 2250.9L927.4 2231.5" stroke="#4d5aa8" stroke-width="4.6" stroke-linecap="round"/>
<path d="M912.2 2250.9L927.4 2231.5" stroke="#7389cc" stroke-width="3" stroke-linecap="round"/>
<path d="M917.1 2254.9L932.2 2235.5" stroke="#4d5aa8" stroke-width="4.6" stroke-linecap="round"/>
<path d="M917.1 2254.9L932.2 2235.5" stroke="#7389cc" stroke-width="3" stroke-linecap="round"/>
<path d="M922.0 2258.9L937.1 2239.5" stroke="#4d5aa8" stroke-width="4.6" stroke-linecap="round"/>
<path d="M922.0 2258.9L937.1 2239.5" stroke="#7389cc" stroke-width="3" stroke-linecap="round"/>
<path d="M926.9 2262.9L942.0 2243.5" stroke="#4d5aa8" stroke-width="4.6" stroke-linecap="round"/>
<path d="M926.9 2262.9L942.0 2243.5" stroke="#7389cc" stroke-width="3" stroke-linecap="round"/>
<path d="M931.7 2266.9L946.9 2247.5" stroke="#4d5aa8" stroke-width="4.6" stroke-linecap="round"/>
<path d="M931.7 2266.9L946.9 2247.5" stroke="#7389cc" stroke-width="3" stroke-linecap="round"/>
<path d="M936.6 2270.9L951.8 2251.5" stroke="#4d5aa8" stroke-width="4.6" stroke-linecap="round"/>
<path d="M936.6 2270.9L951.8 2251.5" stroke="#7389cc" stroke-width="3" stroke-linecap="round"/>
<path d="M906.7 2247.7C903.6 2251.6 908.5 2255.6 911.6 2251.7" stroke="#4d5aa8" stroke-width="0.9" fill="none"/>
<path d="M928.0 2230.7C931.1 2226.8 935.9 2230.8 932.9 2234.7" stroke="#4d5aa8" stroke-width="0.9" fill="none"/>
<path d="M916.5 2255.7C913.4 2259.6 918.3 2263.6 921.4 2259.7" stroke="#4d5aa8" stroke-width="0.9" fill="none"/>
<path d="M937.7 2238.7C940.8 2234.8 945.7 2238.8 942.6 2242.7" stroke="#4d5aa8" stroke-width="0.9" fill="none"/>
<path d="M926.2 2263.7C923.2 2267.6 928.1 2271.6 931.1 2267.7" stroke="#4d5aa8" stroke-width="0.9" fill="none"/>
<path d="M947.5 2246.7C950.6 2242.8 955.5 2246.8 952.4 2250.7" stroke="#4d5aa8" stroke-width="0.9" fill="none"/>
<path d="M922.5 2227.5c2 -7 6 -9 8 -5s6 6 10 7" stroke="#4d5aa8" stroke-width="0.9" fill="none"/>
<path d="M936.6 2270.9c-4 6 -8 7 -10 4s-5 -6 -9 -7" stroke="#4d5aa8" stroke-width="0.9" fill="none"/>
<text transform="translate(698.40 1892.40)" x="0.00" y="0" font-size="23.50" fill="#231f20" textLength="55.80" lengthAdjust="spacingAndGlyphs">IFN-γ</text>
<text transform="translate(843.70 1962.10)" x="0.00" y="0" font-size="23.50" fill="#231f20" textLength="71.28" lengthAdjust="spacingAndGlyphs">IFNGR</text>
<text transform="translate(980.80 2130.00)" x="0.00" y="0" font-size="23.50" fill="#231f20" textLength="88.70" lengthAdjust="spacingAndGlyphs">CXCL10</text>
<text transform="translate(961.80 2290.70)" x="0.00" y="0" font-size="23.50" fill="#231f20" textLength="79.00" lengthAdjust="spacingAndGlyphs">CXCR3</text>
<text transform="translate(853.40 2201.50)" x="-277.00" y="0" font-size="23.50" fill="#231f20" textLength="277.00" lengthAdjust="spacingAndGlyphs">Nonclassical monocytes</text>
</svg>
</body></html>
